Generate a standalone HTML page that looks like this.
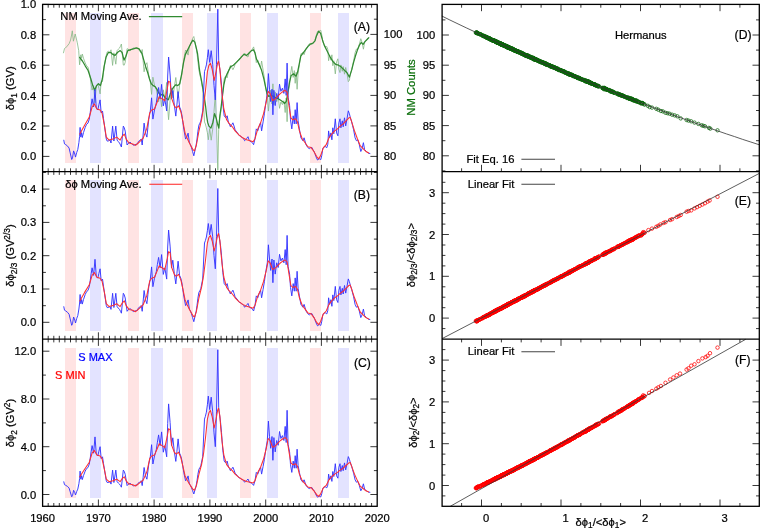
<!DOCTYPE html>
<html><head><meta charset="utf-8"><title>Figure</title>
<style>
html,body{margin:0;padding:0;background:#fff;}
body{width:760px;height:529px;overflow:hidden;}
svg{display:block;font-family:"Liberation Sans",sans-serif;will-change:transform;}
</style></head><body>
<svg width="760" height="529" viewBox="0 0 760 529">
<rect width="760" height="529" fill="#fff"/>
<g shape-rendering="crispEdges">
<rect x="64.7" y="13.0" width="11.2" height="150.0" fill="#ffe3e3"/>
<rect x="127.6" y="13.0" width="11.2" height="150.0" fill="#ffe3e3"/>
<rect x="182.0" y="13.0" width="11.0" height="150.0" fill="#ffe3e3"/>
<rect x="239.8" y="13.0" width="11.1" height="150.0" fill="#ffe3e3"/>
<rect x="309.5" y="13.0" width="11.4" height="150.0" fill="#ffe3e3"/>
<rect x="89.9" y="13.0" width="11.0" height="150.0" fill="#e3e3ff"/>
<rect x="151.1" y="13.0" width="11.4" height="150.0" fill="#e3e3ff"/>
<rect x="206.9" y="13.0" width="10.2" height="150.0" fill="#e3e3ff"/>
<rect x="266.8" y="13.0" width="11.1" height="150.0" fill="#e3e3ff"/>
<rect x="338.0" y="13.0" width="10.9" height="150.0" fill="#e3e3ff"/>
<rect x="64.7" y="180.2" width="11.2" height="150.3" fill="#ffe3e3"/>
<rect x="127.6" y="180.2" width="11.2" height="150.3" fill="#ffe3e3"/>
<rect x="182.0" y="180.2" width="11.0" height="150.3" fill="#ffe3e3"/>
<rect x="239.8" y="180.2" width="11.1" height="150.3" fill="#ffe3e3"/>
<rect x="309.5" y="180.2" width="11.4" height="150.3" fill="#ffe3e3"/>
<rect x="89.9" y="180.2" width="11.0" height="150.3" fill="#e3e3ff"/>
<rect x="151.1" y="180.2" width="11.4" height="150.3" fill="#e3e3ff"/>
<rect x="206.9" y="180.2" width="10.2" height="150.3" fill="#e3e3ff"/>
<rect x="266.8" y="180.2" width="11.1" height="150.3" fill="#e3e3ff"/>
<rect x="338.0" y="180.2" width="10.9" height="150.3" fill="#e3e3ff"/>
<rect x="64.7" y="347.9" width="11.2" height="150.1" fill="#ffe3e3"/>
<rect x="127.6" y="347.9" width="11.2" height="150.1" fill="#ffe3e3"/>
<rect x="182.0" y="347.9" width="11.0" height="150.1" fill="#ffe3e3"/>
<rect x="239.8" y="347.9" width="11.1" height="150.1" fill="#ffe3e3"/>
<rect x="309.5" y="347.9" width="11.4" height="150.1" fill="#ffe3e3"/>
<rect x="89.9" y="347.9" width="11.0" height="150.1" fill="#e3e3ff"/>
<rect x="151.1" y="347.9" width="11.4" height="150.1" fill="#e3e3ff"/>
<rect x="206.9" y="347.9" width="10.2" height="150.1" fill="#e3e3ff"/>
<rect x="266.8" y="347.9" width="11.1" height="150.1" fill="#e3e3ff"/>
<rect x="338.0" y="347.9" width="10.9" height="150.1" fill="#e3e3ff"/>
</g>
<g fill="none" stroke-linejoin="round" stroke-linecap="round">
<polyline points="63.5,52.8 64.5,48.5 65.4,48.0 67.3,46.0 69.2,43.5 70.6,40.0 71.4,36.0 72.3,30.8 73.4,41.2 75.2,34.0 76.2,38.0 77.3,42.8 78.7,50.5 79.6,64.8 80.8,54.8 81.6,58.3 82.3,54.0 83.5,58.3 85.2,63.0 86.6,65.9 88.0,67.1 89.3,72.4 90.2,77.8 91.2,84.5 92.1,90.1 93.6,85.8 95.0,102.8 96.3,86.2 97.8,83.8 98.9,88.3 100.1,93.9 101.2,81.7 102.5,81.5 103.5,72.6 104.4,65.2 106.3,55.0 107.2,52.1 108.2,51.1 110.1,52.3 111.0,49.8 112.6,65.4 113.9,52.8 115.8,64.2 117.1,50.6 118.3,49.2 119.5,48.1 120.5,46.2 121.4,44.0 123.3,65.0 124.2,65.2 125.2,62.3 127.1,48.7 128.1,49.0 129.0,50.2 130.0,51.0 131.8,49.1 132.8,48.4 133.7,47.9 134.7,48.3 136.1,48.5 137.5,48.0 138.4,49.7 139.4,50.1 140.4,52.1 141.3,53.3 142.2,49.5 143.1,60.5 144.1,71.8 145.5,65.0 146.9,62.7 147.9,69.5 148.8,75.5 150.3,82.0 151.6,94.4 152.9,77.2 154.5,85.5 156.3,89.6 157.4,95.7 158.6,101.8 160.1,93.2 161.6,106.7 163.3,89.8 164.8,98.9 166.7,82.4 167.7,108.2 168.6,119.7 170.1,100.6 171.5,88.4 172.8,97.8 174.3,87.1 175.8,77.5 176.9,87.2 178.1,97.8 179.6,85.1 180.8,80.0 181.9,74.0 182.9,66.0 183.8,59.1 185.6,50.0 186.8,51.8 188.1,55.1 189.4,46.2 190.4,44.8 191.3,42.3 192.6,38.4 193.8,36.5 195.1,42.6 196.1,47.7 197.0,53.3 197.9,61.2 198.9,69.8 199.9,75.2 200.8,78.5 202.7,89.1 204.5,121.9 205.4,124.0 206.4,127.9 207.4,132.7 208.3,139.8 209.7,128.5 211.2,140.2 212.7,129.2 214.0,111.4 215.3,94.7 216.5,123.5 217.8,170.3 218.7,129.3 219.6,118.2 220.6,113.3 221.5,106.7 222.8,90.5 224.2,78.6 225.7,75.9 227.2,77.8 228.5,70.7 229.4,68.8 230.4,65.5 231.7,67.3 232.9,69.7 234.0,67.5 235.1,64.4 236.1,63.2 237.0,62.2 238.0,60.8 239.2,59.0 240.4,58.3 241.6,56.4 242.7,55.6 243.6,54.2 244.6,53.0 245.6,54.5 246.5,56.2 248.0,57.0 249.3,52.6 251.2,50.3 252.4,49.2 253.6,46.9 255.0,52.9 256.3,62.6 257.8,60.0 259.3,64.6 260.6,67.8 261.6,61.0 263.1,70.2 264.4,78.1 265.7,88.0 267.3,96.6 268.4,111.1 269.5,99.0 270.7,90.1 272.0,104.0 272.9,83.8 273.9,104.8 275.2,91.9 276.7,101.7 278.2,96.5 279.5,108.3 280.9,101.9 282.4,104.6 283.9,100.7 285.2,112.5 286.2,98.0 287.1,121.7 288.1,92.4 289.6,85.1 290.5,74.3 291.8,66.4 293.2,77.4 294.3,70.6 295.2,83.3 296.2,72.2 297.1,89.3 298.1,73.0 299.4,64.8 300.9,53.7 301.9,53.5 302.8,52.4 304.1,54.7 306.0,48.5 307.9,45.9 309.3,43.8 310.6,43.7 311.9,44.7 312.9,43.6 313.9,42.4 314.9,40.7 315.9,36.6 317.5,31.5 319.2,31.1 320.8,30.3 321.8,35.0 322.8,41.7 323.8,43.7 325.1,46.6 326.8,46.6 327.8,49.4 328.6,60.7 329.6,55.2 330.9,60.2 331.9,54.8 332.8,65.7 333.8,60.7 335.3,73.9 336.6,61.8 337.9,58.8 338.9,69.4 340.0,72.6 340.9,64.9 342.3,71.3 343.2,66.5 344.5,74.2 345.7,67.5 347.0,73.6 348.3,81.7 349.4,80.4 350.4,74.1 351.7,69.9 352.6,65.4 353.6,60.8 355.1,52.7 356.4,49.1 357.8,49.1 359.3,44.4 360.8,38.7 362.1,42.5 363.4,49.2 364.6,42.6 366.5,40.3 368.3,37.9" stroke="#86b886" stroke-width="0.9" opacity="0.9"/>
<polyline points="79.6,57.3 82.4,61.0 85.2,65.8 88.1,70.5 90.9,79.0 92.8,85.6 94.7,90.3 96.6,85.6 98.5,83.7 100.4,85.6 102.3,79.0 104.1,66.7 106.0,57.3 108.3,52.5 110.8,52.5 112.7,54.4 115.1,55.4 117.4,52.5 120.2,50.6 122.1,52.5 124.0,60.1 125.9,56.3 127.8,50.6 130.6,49.7 133.4,48.8 136.3,47.8 139.1,48.8 141.9,53.5 143.8,60.1 145.7,66.7 147.6,72.4 149.5,79.0 151.3,83.7 153.2,85.6 155.1,86.6 157.0,89.4 158.9,93.2 160.8,95.1 162.7,94.1 164.6,97.0 166.5,98.8 168.4,99.8 170.2,94.1 172.1,89.4 174.0,86.6 175.9,84.7 177.8,85.6 179.7,83.7 181.6,74.3 183.5,62.9 185.4,54.4 187.3,50.6 189.1,46.9 191.0,43.1 192.9,40.2 194.8,42.1 196.7,49.7 197.6,54.0 199.6,70.6 201.6,81.2 203.2,90.4 204.5,98.4 205.6,106.3 206.6,115.6 207.6,122.2 208.9,126.1 210.9,128.1 212.9,122.2 214.6,113.6 216.2,118.2 217.8,124.8 218.8,128.1 219.9,115.6 221.2,106.3 222.5,95.7 223.8,85.1 225.2,78.5 226.7,74.6 228.7,70.6 230.7,66.6 233.4,65.3 236.0,62.6 238.7,60.0 241.1,57.3 243.9,54.4 246.7,55.4 248.6,53.5 251.5,50.6 253.4,49.7 255.0,52.9 256.6,59.3 259.0,64.1 261.4,69.7 263.8,78.6 265.5,86.6 267.1,93.9 268.7,96.3 271.1,95.5 273.5,96.3 275.9,97.9 278.3,98.7 280.7,100.3 283.1,101.9 284.7,103.5 286.4,101.1 288.0,91.4 289.6,81.8 291.2,75.4 293.6,73.8 296.0,76.2 297.6,72.2 299.2,64.1 300.8,56.1 303.2,52.9 305.6,49.6 308.1,46.4 310.5,44.0 312.9,43.2 315.0,40.8 316.5,35.9 318.6,31.2 320.5,33.1 322.4,39.7 324.3,45.4 327.1,51.0 330.0,56.7 332.8,61.4 335.6,64.3 338.5,65.2 341.3,67.1 344.1,69.9 347.0,72.8 349.4,77.1 351.7,69.9 353.6,62.4 355.5,55.8 357.4,50.1 359.3,45.4 361.2,42.5 363.1,44.4 364.9,41.6 366.8,39.7 368.7,37.8" stroke="#318a31" stroke-width="1.25"/>
<polyline points="63.8,140.2 64.5,143.9 65.7,144.6 67.6,146.1 69.1,148.1 70.2,152.9 71.7,159.5 72.5,157.9 73.6,150.9 74.8,154.0 75.5,157.1 76.7,152.5 77.8,149.4 78.9,142.6 79.6,136.3 80.1,127.4 80.8,137.1 81.6,132.6 82.3,137.5 83.5,132.6 85.2,127.4 86.6,124.3 88.0,123.1 89.3,119.1 90.2,112.7 91.2,105.0 92.1,98.8 93.6,107.0 95.0,89.5 96.3,108.0 97.8,110.0 98.9,104.8 100.1,99.9 101.2,113.0 102.5,111.0 103.5,118.6 104.4,125.2 106.3,139.1 107.2,141.1 108.2,141.0 110.1,140.1 111.0,143.0 112.6,126.1 113.9,141.0 115.8,126.1 117.1,140.1 118.3,141.6 119.5,143.0 120.5,145.0 121.4,147.0 123.3,126.1 124.2,127.6 125.2,131.1 127.1,145.0 128.1,143.5 129.0,143.0 130.0,142.0 131.8,144.0 132.8,144.7 133.7,145.3 134.7,145.0 136.1,144.2 137.5,144.0 138.4,141.5 139.4,141.0 140.4,139.6 141.3,139.1 142.2,145.0 143.1,135.1 144.1,123.1 145.5,133.1 146.9,137.1 147.9,127.4 148.8,119.1 150.3,111.0 151.6,97.8 152.9,119.1 154.5,110.0 156.3,102.9 157.4,95.1 158.6,87.5 160.1,98.8 161.6,84.4 163.3,105.9 164.8,98.8 166.7,111.0 167.7,76.0 168.6,57.0 170.1,75.0 171.5,98.8 172.8,90.5 174.3,105.0 175.8,116.1 176.9,104.9 178.1,91.6 179.6,107.0 180.8,109.9 181.9,115.0 182.9,122.4 183.8,129.2 185.6,139.1 186.8,137.1 188.1,133.1 189.4,143.0 190.4,144.4 191.3,147.0 192.6,151.5 193.8,155.8 195.1,149.9 196.1,145.4 197.0,139.1 197.9,131.3 198.9,125.2 199.9,123.2 200.8,121.1 202.7,110.9 204.5,71.6 205.4,68.8 206.4,64.9 207.4,57.7 208.3,49.7 209.7,62.4 211.2,50.7 212.7,64.5 214.0,85.5 215.3,99.9 216.5,64.5 217.8,9.2 218.7,60.3 219.6,67.6 220.6,75.1 221.5,85.0 222.8,103.7 224.2,115.8 225.7,117.8 227.2,115.8 228.5,122.8 229.4,124.1 230.4,126.8 231.7,124.8 232.9,122.8 234.0,126.0 235.1,129.8 236.1,131.1 237.0,132.2 238.0,133.8 239.2,135.6 240.4,135.8 241.6,137.4 242.7,137.8 243.6,138.8 244.6,140.7 245.6,139.9 246.5,138.7 248.0,136.7 249.3,140.7 251.2,141.8 252.4,142.7 253.6,144.7 255.0,138.7 256.3,128.9 257.8,130.9 259.3,125.9 260.6,122.8 261.6,130.9 263.1,121.9 264.4,113.8 265.7,103.7 267.3,93.4 268.4,73.6 269.5,89.2 270.7,101.6 272.0,89.2 272.9,114.8 273.9,90.3 275.2,105.6 276.7,93.4 278.2,98.5 279.5,84.1 280.9,91.3 282.4,88.2 283.9,93.4 285.2,78.9 286.2,95.4 287.1,63.1 288.1,97.5 289.6,105.6 290.5,119.8 291.8,128.9 293.2,115.8 294.3,123.9 295.2,109.7 296.2,123.9 297.1,102.6 298.1,120.8 299.4,128.9 300.9,137.8 301.9,139.2 302.8,140.7 304.1,137.8 306.0,144.7 307.9,147.6 309.3,148.7 310.6,147.7 311.9,147.4 312.9,149.6 313.9,151.1 314.9,153.6 315.9,156.6 317.5,160.0 319.2,158.7 320.8,159.6 321.8,155.3 322.8,148.3 323.8,147.4 325.1,146.4 326.8,147.7 327.8,144.3 328.6,130.9 329.6,137.8 330.9,132.9 331.9,139.8 332.8,127.8 333.8,133.8 335.3,118.8 336.6,132.9 337.9,135.8 338.9,122.8 340.0,118.8 340.9,127.8 342.3,120.8 343.2,126.8 344.5,117.8 345.7,125.9 347.0,118.8 348.3,110.8 349.4,113.8 350.4,117.8 351.7,121.9 352.6,125.7 353.6,129.8 355.1,137.8 356.4,140.7 357.8,139.8 359.3,144.7 360.8,151.5 362.1,148.6 363.4,142.7 364.6,149.6 366.5,151.5 368.3,153.1 369.9,153.5" stroke="#3535ff" stroke-width="0.95"/>
<polyline points="79.8,134.1 84.6,125.2 89.3,117.1 92.1,107.0 94.4,103.9 96.9,109.0 100.1,110.0 102.0,113.0 104.4,125.2 106.3,137.1 109.1,140.1 112.9,139.1 116.7,137.1 120.1,140.1 122.4,136.1 124.3,134.1 126.2,139.1 129.0,143.0 132.8,144.0 135.6,145.4 139.4,142.0 143.2,138.1 146.9,128.1 149.7,113.0 151.6,110.0 154.5,109.0 157.3,101.8 159.2,96.7 162.0,98.8 164.8,100.8 167.3,88.5 168.6,81.2 170.1,82.3 171.8,98.8 174.3,105.9 176.2,108.0 178.6,105.9 180.9,112.0 182.8,121.1 185.1,133.1 187.5,139.1 190.4,145.0 193.2,149.9 194.5,150.9 196.4,145.0 198.9,131.1 201.7,119.1 203.6,107.0 205.5,90.5 207.4,71.6 208.9,65.4 210.4,63.2 212.2,69.3 214.2,80.4 216.2,71.0 217.6,63.2 218.5,61.0 219.9,68.8 220.8,81.0 222.1,94.7 223.8,108.7 226.6,119.8 229.5,123.9 232.3,126.8 235.1,130.9 238.9,134.9 242.7,137.8 246.5,139.8 250.2,140.7 253.1,141.8 255.0,138.7 257.8,128.9 260.6,122.8 263.5,113.8 266.3,101.6 268.2,91.3 270.1,93.4 272.6,100.5 274.8,99.5 277.7,96.4 280.5,93.4 283.3,91.3 285.2,90.3 287.1,92.4 289.0,105.6 290.9,117.8 292.8,119.8 295.6,118.8 297.5,121.9 299.4,130.9 302.2,138.7 305.1,142.7 307.9,146.7 311.1,147.6 313.9,151.5 316.7,156.5 318.6,158.8 320.5,155.9 323.4,147.6 326.2,144.7 329.0,137.8 331.9,133.8 334.7,130.9 337.5,128.9 340.4,125.9 343.2,123.9 346.0,120.8 348.9,117.8 350.2,117.4 351.7,121.9 354.5,130.9 357.4,138.7 360.2,145.7 363.1,148.6 365.9,151.5 368.7,153.0" stroke="#ff3030" stroke-width="1.05"/>
<polyline points="63.8,306.7 64.5,310.2 65.7,310.9 67.6,312.4 69.1,314.3 70.2,318.9 71.7,325.3 72.5,323.8 73.6,317.0 74.8,320.0 75.5,323.0 76.7,318.5 77.8,315.5 78.9,309.0 79.6,303.0 80.1,294.5 80.8,303.7 81.6,299.5 82.3,304.1 83.5,299.5 85.2,294.5 86.6,291.6 88.0,290.5 89.3,286.7 90.2,280.7 91.2,273.5 92.1,267.8 93.6,275.4 95.0,259.3 96.3,276.3 97.8,278.2 98.9,273.4 100.1,268.8 101.2,281.0 102.5,279.1 103.5,286.2 104.4,292.4 106.3,305.6 107.2,307.6 108.2,307.5 110.1,306.6 111.0,309.4 112.6,293.3 113.9,307.5 115.8,293.3 117.1,306.6 118.3,308.1 119.5,309.4 120.5,311.3 121.4,313.2 123.3,293.3 124.2,294.7 125.2,298.0 127.1,311.3 128.1,309.8 129.0,309.4 130.0,308.4 131.8,310.3 132.8,311.0 133.7,311.6 134.7,311.3 136.1,310.5 137.5,310.3 138.4,307.9 139.4,307.5 140.4,306.1 141.3,305.6 142.2,311.3 143.1,301.8 144.1,290.5 145.5,299.9 146.9,303.7 147.9,294.6 148.8,286.7 150.3,279.1 151.6,266.9 152.9,286.7 154.5,278.2 156.3,271.6 157.4,264.4 158.6,257.4 160.1,267.8 161.6,254.6 163.3,274.4 164.8,267.8 166.7,279.1 167.7,247.0 168.6,230.0 170.1,246.1 171.5,267.8 172.8,260.2 174.3,273.5 175.8,283.9 176.9,273.5 178.1,261.2 179.6,275.4 180.8,278.1 181.9,282.9 182.9,289.8 183.8,296.2 185.6,305.6 186.8,303.7 188.1,299.9 189.4,309.4 190.4,310.7 191.3,313.2 192.6,317.6 193.8,321.7 195.1,316.0 196.1,311.7 197.0,305.6 197.9,298.2 198.9,292.4 199.9,290.6 200.8,288.6 202.7,279.0 204.5,243.0 205.4,240.6 206.4,237.0 207.4,230.6 208.3,223.5 209.7,234.8 211.2,224.4 212.7,236.7 214.0,255.6 215.3,268.8 216.5,236.7 217.8,188.5 218.7,232.9 219.6,239.5 220.6,246.2 221.5,255.2 222.8,272.3 224.2,283.6 225.7,285.5 227.2,283.6 228.5,290.2 229.4,291.5 230.4,294.0 231.7,292.1 232.9,290.2 234.0,293.2 235.1,296.8 236.1,298.0 237.0,299.0 238.0,300.6 239.2,302.3 240.4,302.5 241.6,304.0 242.7,304.4 243.6,305.4 244.6,307.2 245.6,306.4 246.5,305.3 248.0,303.4 249.3,307.2 251.2,308.2 252.4,309.1 253.6,311.0 255.0,305.3 256.3,295.9 257.8,297.8 259.3,293.1 260.6,290.2 261.6,297.8 263.1,289.3 264.4,281.7 265.7,272.3 267.3,262.8 268.4,244.8 269.5,259.0 270.7,270.4 272.0,259.0 272.9,282.7 273.9,260.0 275.2,274.1 276.7,262.8 278.2,267.5 279.5,254.3 280.9,260.9 282.4,258.1 283.9,262.8 285.2,249.6 286.2,264.7 287.1,235.4 288.1,266.6 289.6,274.1 290.5,287.4 291.8,295.9 293.2,283.6 294.3,291.2 295.2,277.9 296.2,291.2 297.1,271.3 298.1,288.3 299.4,295.9 300.9,304.4 301.9,305.7 302.8,307.2 304.1,304.4 306.0,311.0 307.9,313.8 309.3,314.9 310.6,313.9 311.9,313.6 312.9,315.7 313.9,317.2 314.9,319.6 315.9,322.5 317.5,325.8 319.2,324.5 320.8,325.4 321.8,321.2 322.8,314.5 323.8,313.6 325.1,312.6 326.8,313.9 327.8,310.6 328.6,297.8 329.6,304.4 330.9,299.7 331.9,306.3 332.8,294.9 333.8,300.6 335.3,286.4 336.6,299.7 337.9,302.5 338.9,290.2 340.0,286.4 340.9,294.9 342.3,288.3 343.2,294.0 344.5,285.5 345.7,293.1 347.0,286.4 348.3,278.9 349.4,281.7 350.4,285.5 351.7,289.3 352.6,293.0 353.6,296.8 355.1,304.4 356.4,307.2 357.8,306.3 359.3,311.0 360.8,317.6 362.1,314.8 363.4,309.1 364.6,315.7 366.5,317.6 368.3,319.1 369.9,319.5" stroke="#3535ff" stroke-width="0.95"/>
<polyline points="79.8,300.9 84.6,292.4 89.3,284.8 92.1,275.4 94.4,272.5 96.9,277.3 100.1,278.2 102.0,281.0 104.4,292.4 106.3,303.7 109.1,306.6 112.9,305.6 116.7,303.7 120.1,306.6 122.4,302.8 124.3,300.9 126.2,305.6 129.0,309.4 132.8,310.3 135.6,311.7 139.4,308.4 143.2,304.7 146.9,295.2 149.7,281.0 151.6,278.2 154.5,277.3 157.3,270.6 159.2,265.9 162.0,267.8 164.8,269.7 167.3,258.4 168.6,251.7 170.1,252.7 171.8,267.8 174.3,274.4 176.2,276.3 178.6,274.4 180.9,280.1 182.8,288.6 185.1,299.9 187.5,305.6 190.4,311.3 193.2,316.0 194.5,317.0 196.4,311.3 198.9,298.0 201.7,286.7 203.6,275.4 205.5,260.2 207.4,243.0 208.9,237.5 210.4,235.5 212.2,241.0 214.2,251.0 216.2,242.5 217.6,235.5 218.5,233.5 219.9,240.5 220.8,251.5 222.1,264.0 223.8,277.0 226.6,287.4 229.5,291.2 232.3,294.0 235.1,297.8 238.9,301.6 242.7,304.4 246.5,306.3 250.2,307.2 253.1,308.2 255.0,305.3 257.8,295.9 260.6,290.2 263.5,281.7 266.3,270.4 268.2,260.9 270.1,262.8 272.6,269.4 274.8,268.5 277.7,265.6 280.5,262.8 283.3,260.9 285.2,260.0 287.1,261.9 289.0,274.1 290.9,285.5 292.8,287.4 295.6,286.4 297.5,289.3 299.4,297.8 302.2,305.3 305.1,309.1 307.9,312.9 311.1,313.8 313.9,317.6 316.7,322.4 318.6,324.6 320.5,321.8 323.4,313.8 326.2,311.0 329.0,304.4 331.9,300.6 334.7,297.8 337.5,295.9 340.4,293.1 343.2,291.2 346.0,288.3 348.9,285.5 350.2,285.1 351.7,289.3 354.5,297.8 357.4,305.3 360.2,312.0 363.1,314.8 365.9,317.6 368.7,319.0" stroke="#ff3030" stroke-width="1.05"/>
<polyline points="63.8,481.8 64.5,484.7 65.7,485.3 67.6,486.5 69.1,488.1 70.2,491.8 71.7,496.8 72.5,495.7 73.6,490.3 74.8,492.7 75.5,495.0 76.7,491.5 77.8,489.1 78.9,483.7 79.6,478.6 80.1,471.1 80.8,479.2 81.6,475.6 82.3,479.6 83.5,475.6 85.2,471.1 86.6,468.5 88.0,467.5 89.3,464.0 90.2,458.4 91.2,451.4 92.1,445.6 93.6,453.2 95.0,436.9 96.3,454.1 97.8,456.0 98.9,451.2 100.1,446.7 101.2,458.6 102.5,456.8 103.5,463.6 104.4,469.3 106.3,480.8 107.2,482.5 108.2,482.5 110.1,481.7 111.0,484.1 112.6,470.1 113.9,482.5 115.8,470.1 117.1,481.7 118.3,483.0 119.5,484.1 120.5,485.6 121.4,487.2 123.3,470.1 124.2,471.3 125.2,474.3 127.1,485.6 128.1,484.4 129.0,484.0 130.0,483.2 131.8,484.8 132.8,485.4 133.7,485.9 134.7,485.6 136.1,485.0 137.5,484.8 138.4,482.8 139.4,482.5 140.4,481.3 141.3,480.8 142.2,485.6 143.1,477.6 144.1,467.5 145.5,475.9 146.9,479.2 147.9,471.2 148.8,464.0 150.3,456.8 151.6,444.7 152.9,464.0 154.5,456.0 156.3,449.5 157.4,442.2 158.6,434.9 160.1,445.6 161.6,431.9 163.3,452.2 164.8,445.6 166.7,456.8 167.7,423.5 168.6,403.9 170.1,422.5 171.5,445.6 172.8,437.8 174.3,451.4 175.8,461.4 176.9,451.4 178.1,438.9 179.6,453.2 180.8,455.9 181.9,460.5 182.9,466.9 183.8,472.7 185.6,480.8 186.8,479.3 188.1,475.9 189.4,484.1 190.4,485.1 191.3,487.2 192.6,490.7 193.8,494.0 195.1,489.5 196.1,486.0 197.0,480.8 197.9,474.4 198.9,469.3 199.9,467.6 200.8,465.8 202.7,456.7 204.5,419.1 205.4,416.3 206.4,412.2 207.4,404.7 208.3,396.1 209.7,409.6 211.2,397.2 212.7,411.8 214.0,432.9 215.3,446.7 216.5,411.8 217.8,349.7 218.7,407.4 219.6,415.1 220.6,422.7 221.5,432.5 222.8,450.2 224.2,461.1 225.7,462.9 227.2,461.1 228.5,467.2 229.4,468.4 230.4,470.7 231.7,469.0 232.9,467.2 234.0,470.0 235.1,473.2 236.1,474.3 237.0,475.2 238.0,476.5 239.2,478.0 240.4,478.2 241.6,479.5 242.7,479.8 243.6,480.7 244.6,482.2 245.6,481.5 246.5,480.6 248.0,479.0 249.3,482.2 251.2,483.0 252.4,483.8 253.6,485.4 255.0,480.6 256.3,472.4 257.8,474.1 259.3,469.9 260.6,467.2 261.6,474.1 263.1,466.4 264.4,459.3 265.7,450.2 267.3,440.5 268.4,421.1 269.5,436.5 270.7,448.3 272.0,436.5 272.9,460.3 273.9,437.6 275.2,451.9 276.7,440.5 278.2,445.3 279.5,431.5 280.9,438.5 282.4,435.6 283.9,440.5 285.2,426.4 286.2,442.5 287.1,410.3 288.1,444.4 289.6,451.9 290.5,464.7 291.8,472.4 293.2,461.1 294.3,468.2 295.2,455.7 296.2,468.2 297.1,449.2 298.1,465.5 299.4,472.4 300.9,479.8 301.9,480.9 302.8,482.2 304.1,479.8 306.0,485.4 307.9,487.7 309.3,488.6 310.6,487.8 311.9,487.5 312.9,489.3 313.9,490.4 314.9,492.3 315.9,494.7 317.5,497.2 319.2,496.2 320.8,496.9 321.8,493.6 322.8,488.3 323.8,487.5 325.1,486.7 326.8,487.8 327.8,485.1 328.6,474.1 329.6,479.8 330.9,475.8 331.9,481.4 332.8,471.5 333.8,476.5 335.3,463.7 336.6,475.8 337.9,478.2 338.9,467.2 340.0,463.7 340.9,471.5 342.3,465.5 343.2,470.7 344.5,462.9 345.7,469.9 347.0,463.7 348.3,456.6 349.4,459.3 350.4,462.9 351.7,466.4 352.6,469.8 353.6,473.2 355.1,479.8 356.4,482.2 357.8,481.4 359.3,485.4 360.8,490.8 362.1,488.5 363.4,483.8 364.6,489.2 366.5,490.8 368.3,492.0 369.9,492.3" stroke="#3535ff" stroke-width="0.95"/>
<polyline points="79.8,476.8 84.6,469.3 89.3,462.2 92.1,453.2 94.4,450.4 96.9,455.1 100.1,456.0 102.0,458.6 104.4,469.3 106.3,479.2 109.1,481.7 112.9,480.8 116.7,479.2 120.1,481.7 122.4,478.4 124.3,476.8 126.2,480.8 129.0,484.1 132.8,484.8 135.6,486.0 139.4,483.2 143.2,480.1 146.9,471.8 149.7,458.6 151.6,456.0 154.5,455.1 157.3,448.5 159.2,443.7 162.0,445.6 164.8,447.6 167.3,435.9 168.6,428.7 170.1,429.8 171.8,445.6 174.3,452.2 176.2,454.1 178.6,452.2 180.9,457.8 182.8,465.8 185.1,475.9 187.5,480.8 190.4,485.6 193.2,489.5 194.5,490.3 196.4,485.6 198.9,474.3 201.7,464.0 203.6,453.2 205.5,437.8 207.4,419.1 208.9,412.8 210.4,410.4 212.2,416.8 214.2,428.0 216.2,418.5 217.6,410.4 218.5,408.1 219.9,416.2 220.8,428.5 222.1,441.8 223.8,454.8 226.6,464.7 229.5,468.2 232.3,470.7 235.1,474.1 238.9,477.4 242.7,479.8 246.5,481.4 250.2,482.2 253.1,483.0 255.0,480.6 257.8,472.4 260.6,467.2 263.5,459.3 266.3,448.3 268.2,438.5 270.1,440.5 272.6,447.3 274.8,446.4 277.7,443.4 280.5,440.5 283.3,438.5 285.2,437.6 287.1,439.6 289.0,451.9 290.9,462.9 292.8,464.7 295.6,463.7 297.5,466.4 299.4,474.1 302.2,480.6 305.1,483.8 307.9,487.0 311.1,487.7 313.9,490.8 316.7,494.6 318.6,496.3 320.5,494.1 323.4,487.7 326.2,485.4 329.0,479.8 331.9,476.5 334.7,474.1 337.5,472.4 340.4,469.9 343.2,468.2 346.0,465.5 348.9,462.9 350.2,462.5 351.7,466.4 354.5,474.1 357.4,480.6 360.2,486.2 363.1,488.5 365.9,490.8 368.7,491.9" stroke="#ff3030" stroke-width="1.05"/>
</g>
<g fill="none" stroke="#0b640b" stroke-width="0.75">
<circle cx="507.5" cy="47.4" r="1.7"/>
<circle cx="503.6" cy="45.3" r="1.7"/>
<circle cx="501.4" cy="44.2" r="1.7"/>
<circle cx="500.9" cy="43.5" r="1.7"/>
<circle cx="500.5" cy="43.7" r="1.7"/>
<circle cx="499.9" cy="43.4" r="1.7"/>
<circle cx="499.3" cy="43.2" r="1.7"/>
<circle cx="498.7" cy="42.8" r="1.7"/>
<circle cx="498.1" cy="42.7" r="1.7"/>
<circle cx="497.1" cy="42.1" r="1.7"/>
<circle cx="496.2" cy="41.5" r="1.7"/>
<circle cx="495.2" cy="41.6" r="1.7"/>
<circle cx="492.9" cy="40.5" r="1.7"/>
<circle cx="489.6" cy="39.2" r="1.7"/>
<circle cx="486.4" cy="37.3" r="1.7"/>
<circle cx="483.1" cy="35.6" r="1.7"/>
<circle cx="479.8" cy="34.1" r="1.7"/>
<circle cx="476.5" cy="32.3" r="1.7"/>
<circle cx="478.0" cy="33.6" r="1.7"/>
<circle cx="480.4" cy="34.2" r="1.7"/>
<circle cx="485.1" cy="36.4" r="1.7"/>
<circle cx="489.9" cy="38.8" r="1.7"/>
<circle cx="488.5" cy="38.6" r="1.7"/>
<circle cx="486.6" cy="37.4" r="1.7"/>
<circle cx="484.2" cy="36.0" r="1.7"/>
<circle cx="480.9" cy="34.5" r="1.7"/>
<circle cx="482.7" cy="35.7" r="1.7"/>
<circle cx="485.6" cy="36.9" r="1.7"/>
<circle cx="488.3" cy="38.0" r="1.7"/>
<circle cx="490.4" cy="39.1" r="1.7"/>
<circle cx="492.5" cy="40.3" r="1.7"/>
<circle cx="496.8" cy="42.6" r="1.7"/>
<circle cx="501.4" cy="43.9" r="1.7"/>
<circle cx="507.0" cy="46.6" r="1.7"/>
<circle cx="513.7" cy="49.6" r="1.7"/>
<circle cx="527.1" cy="55.2" r="1.7"/>
<circle cx="518.5" cy="51.7" r="1.7"/>
<circle cx="514.3" cy="49.8" r="1.7"/>
<circle cx="518.4" cy="52.2" r="1.7"/>
<circle cx="516.0" cy="50.8" r="1.7"/>
<circle cx="512.4" cy="48.8" r="1.7"/>
<circle cx="515.4" cy="50.7" r="1.7"/>
<circle cx="518.4" cy="51.8" r="1.7"/>
<circle cx="521.0" cy="52.6" r="1.7"/>
<circle cx="523.3" cy="53.9" r="1.7"/>
<circle cx="525.6" cy="55.0" r="1.7"/>
<circle cx="528.0" cy="55.9" r="1.7"/>
<circle cx="529.6" cy="56.9" r="1.7"/>
<circle cx="531.3" cy="57.1" r="1.7"/>
<circle cx="533.0" cy="58.3" r="1.7"/>
<circle cx="533.6" cy="58.9" r="1.7"/>
<circle cx="534.2" cy="59.1" r="1.7"/>
<circle cx="534.8" cy="59.5" r="1.7"/>
<circle cx="537.0" cy="60.4" r="1.7"/>
<circle cx="539.3" cy="61.5" r="1.7"/>
<circle cx="542.0" cy="62.0" r="1.7"/>
<circle cx="547.0" cy="64.7" r="1.7"/>
<circle cx="552.1" cy="66.2" r="1.7"/>
<circle cx="558.2" cy="69.2" r="1.7"/>
<circle cx="564.3" cy="71.4" r="1.7"/>
<circle cx="569.4" cy="74.3" r="1.7"/>
<circle cx="573.5" cy="76.1" r="1.7"/>
<circle cx="569.4" cy="74.0" r="1.7"/>
<circle cx="565.3" cy="72.8" r="1.7"/>
<circle cx="561.3" cy="70.4" r="1.7"/>
<circle cx="568.9" cy="73.9" r="1.7"/>
<circle cx="578.2" cy="77.8" r="1.7"/>
<circle cx="587.5" cy="81.4" r="1.7"/>
<circle cx="579.6" cy="78.4" r="1.7"/>
<circle cx="569.0" cy="74.4" r="1.7"/>
<circle cx="559.1" cy="69.5" r="1.7"/>
<circle cx="558.1" cy="69.5" r="1.7"/>
<circle cx="557.1" cy="68.8" r="1.7"/>
<circle cx="556.1" cy="68.8" r="1.7"/>
<circle cx="558.8" cy="69.7" r="1.7"/>
<circle cx="562.1" cy="71.2" r="1.7"/>
<circle cx="565.5" cy="72.6" r="1.7"/>
<circle cx="568.7" cy="73.8" r="1.7"/>
<circle cx="571.9" cy="74.7" r="1.7"/>
<circle cx="564.2" cy="72.2" r="1.7"/>
<circle cx="555.3" cy="67.7" r="1.7"/>
<circle cx="551.7" cy="66.6" r="1.7"/>
<circle cx="552.9" cy="67.2" r="1.7"/>
<circle cx="554.1" cy="67.3" r="1.7"/>
<circle cx="550.0" cy="65.8" r="1.7"/>
<circle cx="544.0" cy="63.5" r="1.7"/>
<circle cx="538.6" cy="60.8" r="1.7"/>
<circle cx="533.5" cy="58.4" r="1.7"/>
<circle cx="528.1" cy="55.5" r="1.7"/>
<circle cx="522.7" cy="53.5" r="1.7"/>
<circle cx="517.2" cy="51.2" r="1.7"/>
<circle cx="511.8" cy="48.8" r="1.7"/>
<circle cx="508.4" cy="47.2" r="1.7"/>
<circle cx="506.8" cy="46.7" r="1.7"/>
<circle cx="506.0" cy="46.2" r="1.7"/>
<circle cx="506.1" cy="46.3" r="1.7"/>
<circle cx="506.3" cy="46.6" r="1.7"/>
<circle cx="506.7" cy="46.4" r="1.7"/>
<circle cx="507.1" cy="46.7" r="1.7"/>
<circle cx="507.4" cy="47.5" r="1.7"/>
<circle cx="506.7" cy="46.8" r="1.7"/>
<circle cx="504.3" cy="45.2" r="1.7"/>
<circle cx="506.4" cy="46.5" r="1.7"/>
<circle cx="514.3" cy="50.2" r="1.7"/>
<circle cx="522.2" cy="53.9" r="1.7"/>
<circle cx="530.1" cy="57.1" r="1.7"/>
<circle cx="521.5" cy="53.2" r="1.7"/>
<circle cx="513.0" cy="49.3" r="1.7"/>
<circle cx="507.3" cy="47.0" r="1.7"/>
<circle cx="513.1" cy="49.6" r="1.7"/>
<circle cx="519.0" cy="52.0" r="1.7"/>
<circle cx="524.9" cy="54.7" r="1.7"/>
<circle cx="529.2" cy="56.6" r="1.7"/>
<circle cx="521.2" cy="53.3" r="1.7"/>
<circle cx="513.1" cy="49.3" r="1.7"/>
<circle cx="507.4" cy="47.0" r="1.7"/>
<circle cx="506.4" cy="46.7" r="1.7"/>
<circle cx="505.4" cy="46.2" r="1.7"/>
<circle cx="504.5" cy="45.4" r="1.7"/>
<circle cx="503.7" cy="45.6" r="1.7"/>
<circle cx="502.7" cy="44.6" r="1.7"/>
<circle cx="501.2" cy="44.2" r="1.7"/>
<circle cx="499.6" cy="43.2" r="1.7"/>
<circle cx="498.1" cy="42.2" r="1.7"/>
<circle cx="497.1" cy="42.3" r="1.7"/>
<circle cx="505.3" cy="46.0" r="1.7"/>
<circle cx="513.4" cy="49.6" r="1.7"/>
<circle cx="521.6" cy="53.4" r="1.7"/>
<circle cx="529.9" cy="56.8" r="1.7"/>
<circle cx="529.0" cy="56.4" r="1.7"/>
<circle cx="527.8" cy="56.0" r="1.7"/>
<circle cx="525.2" cy="55.4" r="1.7"/>
<circle cx="522.5" cy="53.9" r="1.7"/>
<circle cx="517.3" cy="51.3" r="1.7"/>
<circle cx="511.8" cy="49.1" r="1.7"/>
<circle cx="506.3" cy="46.3" r="1.7"/>
<circle cx="500.9" cy="43.8" r="1.7"/>
<circle cx="500.7" cy="44.1" r="1.7"/>
<circle cx="501.9" cy="44.3" r="1.7"/>
<circle cx="502.5" cy="44.3" r="1.7"/>
<circle cx="502.9" cy="44.6" r="1.7"/>
<circle cx="503.5" cy="45.2" r="1.7"/>
<circle cx="504.3" cy="45.5" r="1.7"/>
<circle cx="504.2" cy="45.8" r="1.7"/>
<circle cx="503.4" cy="44.9" r="1.7"/>
<circle cx="502.5" cy="44.9" r="1.7"/>
<circle cx="501.7" cy="44.4" r="1.7"/>
<circle cx="501.1" cy="44.0" r="1.7"/>
<circle cx="500.5" cy="44.0" r="1.7"/>
<circle cx="499.9" cy="43.7" r="1.7"/>
<circle cx="499.5" cy="43.1" r="1.7"/>
<circle cx="499.4" cy="43.5" r="1.7"/>
<circle cx="499.6" cy="43.1" r="1.7"/>
<circle cx="500.0" cy="43.6" r="1.7"/>
<circle cx="500.4" cy="43.7" r="1.7"/>
<circle cx="500.8" cy="44.0" r="1.7"/>
<circle cx="501.1" cy="43.9" r="1.7"/>
<circle cx="501.3" cy="44.1" r="1.7"/>
<circle cx="501.4" cy="44.2" r="1.7"/>
<circle cx="502.3" cy="44.8" r="1.7"/>
<circle cx="504.2" cy="45.3" r="1.7"/>
<circle cx="505.5" cy="46.1" r="1.7"/>
<circle cx="505.9" cy="46.2" r="1.7"/>
<circle cx="506.5" cy="46.2" r="1.7"/>
<circle cx="507.7" cy="47.7" r="1.7"/>
<circle cx="508.6" cy="47.5" r="1.7"/>
<circle cx="509.0" cy="47.3" r="1.7"/>
<circle cx="508.1" cy="47.6" r="1.7"/>
<circle cx="503.2" cy="44.7" r="1.7"/>
<circle cx="502.2" cy="44.6" r="1.7"/>
<circle cx="510.0" cy="48.3" r="1.7"/>
<circle cx="518.2" cy="51.6" r="1.7"/>
<circle cx="527.5" cy="55.8" r="1.7"/>
<circle cx="533.7" cy="58.5" r="1.7"/>
<circle cx="528.4" cy="56.3" r="1.7"/>
<circle cx="523.1" cy="53.6" r="1.7"/>
<circle cx="518.5" cy="51.6" r="1.7"/>
<circle cx="516.4" cy="50.9" r="1.7"/>
<circle cx="514.2" cy="50.3" r="1.7"/>
<circle cx="514.0" cy="50.1" r="1.7"/>
<circle cx="521.5" cy="53.7" r="1.7"/>
<circle cx="528.9" cy="56.8" r="1.7"/>
<circle cx="535.5" cy="59.3" r="1.7"/>
<circle cx="541.8" cy="62.2" r="1.7"/>
<circle cx="545.8" cy="63.5" r="1.7"/>
<circle cx="549.8" cy="65.5" r="1.7"/>
<circle cx="553.9" cy="67.2" r="1.7"/>
<circle cx="561.0" cy="70.6" r="1.7"/>
<circle cx="568.5" cy="73.9" r="1.7"/>
<circle cx="574.5" cy="76.1" r="1.7"/>
<circle cx="562.2" cy="70.9" r="1.7"/>
<circle cx="550.0" cy="65.4" r="1.7"/>
<circle cx="542.5" cy="62.5" r="1.7"/>
<circle cx="546.8" cy="64.5" r="1.7"/>
<circle cx="551.0" cy="66.3" r="1.7"/>
<circle cx="555.3" cy="67.9" r="1.7"/>
<circle cx="558.4" cy="69.9" r="1.7"/>
<circle cx="561.3" cy="70.9" r="1.7"/>
<circle cx="564.3" cy="71.9" r="1.7"/>
<circle cx="567.2" cy="73.0" r="1.7"/>
<circle cx="572.2" cy="75.2" r="1.7"/>
<circle cx="577.3" cy="77.4" r="1.7"/>
<circle cx="582.3" cy="79.5" r="1.7"/>
<circle cx="587.3" cy="81.6" r="1.7"/>
<circle cx="592.0" cy="83.7" r="1.7"/>
<circle cx="586.4" cy="81.5" r="1.7"/>
<circle cx="580.7" cy="79.1" r="1.7"/>
<circle cx="575.1" cy="76.4" r="1.7"/>
<circle cx="579.6" cy="78.4" r="1.7"/>
<circle cx="586.7" cy="81.2" r="1.7"/>
<circle cx="593.9" cy="84.1" r="1.7"/>
<circle cx="591.7" cy="83.8" r="1.7"/>
<circle cx="582.2" cy="79.3" r="1.7"/>
<circle cx="572.7" cy="76.0" r="1.7"/>
<circle cx="563.4" cy="71.4" r="1.7"/>
<circle cx="565.7" cy="72.6" r="1.7"/>
<circle cx="569.2" cy="74.3" r="1.7"/>
<circle cx="572.8" cy="75.5" r="1.7"/>
<circle cx="570.7" cy="74.7" r="1.7"/>
<circle cx="565.9" cy="72.5" r="1.7"/>
<circle cx="561.1" cy="70.4" r="1.7"/>
<circle cx="556.3" cy="68.5" r="1.7"/>
<circle cx="569.6" cy="74.0" r="1.7"/>
<circle cx="595.7" cy="85.4" r="1.7"/>
<circle cx="617.3" cy="93.6" r="1.7"/>
<circle cx="633.1" cy="100.3" r="1.7"/>
<circle cx="636.4" cy="100.5" r="1.7"/>
<circle cx="627.5" cy="97.7" r="1.7"/>
<circle cx="618.5" cy="94.3" r="1.7"/>
<circle cx="608.6" cy="90.1" r="1.7"/>
<circle cx="595.8" cy="85.3" r="1.7"/>
<circle cx="583.2" cy="80.0" r="1.7"/>
<circle cx="575.2" cy="76.4" r="1.7"/>
<circle cx="579.9" cy="78.6" r="1.7"/>
<circle cx="584.7" cy="81.1" r="1.7"/>
<circle cx="583.8" cy="80.2" r="1.7"/>
<circle cx="576.7" cy="77.2" r="1.7"/>
<circle cx="569.5" cy="74.0" r="1.7"/>
<circle cx="562.7" cy="71.3" r="1.7"/>
<circle cx="557.2" cy="68.5" r="1.7"/>
<circle cx="551.6" cy="66.4" r="1.7"/>
<circle cx="546.2" cy="64.8" r="1.7"/>
<circle cx="553.4" cy="67.5" r="1.7"/>
<circle cx="560.7" cy="70.5" r="1.7"/>
<circle cx="568.7" cy="74.0" r="1.7"/>
<circle cx="577.3" cy="77.9" r="1.7"/>
<circle cx="585.0" cy="80.7" r="1.7"/>
<circle cx="577.3" cy="77.9" r="1.7"/>
<circle cx="569.6" cy="74.4" r="1.7"/>
<circle cx="562.0" cy="71.0" r="1.7"/>
<circle cx="559.2" cy="70.2" r="1.7"/>
<circle cx="557.3" cy="68.3" r="1.7"/>
<circle cx="554.9" cy="67.8" r="1.7"/>
<circle cx="551.6" cy="66.5" r="1.7"/>
<circle cx="548.2" cy="64.8" r="1.7"/>
<circle cx="542.8" cy="62.6" r="1.7"/>
<circle cx="537.0" cy="60.0" r="1.7"/>
<circle cx="531.6" cy="57.6" r="1.7"/>
<circle cx="526.3" cy="56.1" r="1.7"/>
<circle cx="521.9" cy="53.6" r="1.7"/>
<circle cx="517.8" cy="51.6" r="1.7"/>
<circle cx="513.7" cy="50.1" r="1.7"/>
<circle cx="509.6" cy="47.9" r="1.7"/>
<circle cx="510.4" cy="48.5" r="1.7"/>
<circle cx="511.6" cy="48.9" r="1.7"/>
<circle cx="513.0" cy="49.9" r="1.7"/>
<circle cx="515.4" cy="50.2" r="1.7"/>
<circle cx="517.8" cy="51.8" r="1.7"/>
<circle cx="515.8" cy="50.8" r="1.7"/>
<circle cx="510.1" cy="47.9" r="1.7"/>
<circle cx="504.4" cy="45.8" r="1.7"/>
<circle cx="502.2" cy="44.3" r="1.7"/>
<circle cx="501.1" cy="44.5" r="1.7"/>
<circle cx="499.3" cy="43.4" r="1.7"/>
<circle cx="497.3" cy="42.5" r="1.7"/>
<circle cx="494.8" cy="41.2" r="1.7"/>
<circle cx="492.1" cy="40.2" r="1.7"/>
<circle cx="489.4" cy="38.2" r="1.7"/>
<circle cx="486.9" cy="37.5" r="1.7"/>
<circle cx="484.3" cy="36.2" r="1.7"/>
<circle cx="483.4" cy="36.0" r="1.7"/>
<circle cx="486.8" cy="37.5" r="1.7"/>
<circle cx="490.2" cy="39.2" r="1.7"/>
<circle cx="493.6" cy="40.4" r="1.7"/>
<circle cx="497.1" cy="42.7" r="1.7"/>
<circle cx="501.3" cy="44.7" r="1.7"/>
<circle cx="506.3" cy="46.4" r="1.7"/>
<circle cx="511.7" cy="48.9" r="1.7"/>
<circle cx="517.8" cy="51.7" r="1.7"/>
<circle cx="523.5" cy="54.5" r="1.7"/>
<circle cx="528.3" cy="56.8" r="1.7"/>
<circle cx="532.1" cy="57.7" r="1.7"/>
<circle cx="533.6" cy="58.5" r="1.7"/>
<circle cx="535.2" cy="59.1" r="1.7"/>
<circle cx="536.8" cy="59.8" r="1.7"/>
<circle cx="539.0" cy="60.6" r="1.7"/>
<circle cx="543.0" cy="62.8" r="1.7"/>
<circle cx="547.0" cy="64.2" r="1.7"/>
<circle cx="551.0" cy="66.6" r="1.7"/>
<circle cx="556.6" cy="68.9" r="1.7"/>
<circle cx="572.7" cy="75.2" r="1.7"/>
<circle cx="588.9" cy="82.0" r="1.7"/>
<circle cx="605.3" cy="88.7" r="1.7"/>
<circle cx="618.2" cy="94.4" r="1.7"/>
<circle cx="620.3" cy="94.6" r="1.7"/>
<circle cx="622.6" cy="95.4" r="1.7"/>
<circle cx="625.7" cy="97.0" r="1.7"/>
<circle cx="629.3" cy="98.5" r="1.7"/>
<circle cx="634.9" cy="100.4" r="1.7"/>
<circle cx="640.6" cy="103.2" r="1.7"/>
<circle cx="638.6" cy="102.1" r="1.7"/>
<circle cx="632.7" cy="99.8" r="1.7"/>
<circle cx="638.5" cy="101.7" r="1.7"/>
<circle cx="644.3" cy="104.2" r="1.7"/>
<circle cx="638.4" cy="101.9" r="1.7"/>
<circle cx="631.5" cy="98.7" r="1.7"/>
<circle cx="621.5" cy="95.4" r="1.7"/>
<circle cx="609.4" cy="90.1" r="1.7"/>
<circle cx="597.5" cy="85.7" r="1.7"/>
<circle cx="588.5" cy="81.7" r="1.7"/>
<circle cx="580.3" cy="79.1" r="1.7"/>
<circle cx="572.6" cy="75.5" r="1.7"/>
<circle cx="594.3" cy="84.6" r="1.7"/>
<circle cx="616.3" cy="93.5" r="1.7"/>
<circle cx="642.4" cy="103.1" r="1.7"/>
<circle cx="631.6" cy="98.7" r="1.7"/>
<circle cx="625.9" cy="97.0" r="1.7"/>
<circle cx="620.0" cy="95.0" r="1.7"/>
<circle cx="614.2" cy="92.4" r="1.7"/>
<circle cx="606.8" cy="89.7" r="1.7"/>
<circle cx="598.6" cy="86.4" r="1.7"/>
<circle cx="588.7" cy="81.7" r="1.7"/>
<circle cx="578.0" cy="77.7" r="1.7"/>
<circle cx="567.4" cy="73.7" r="1.7"/>
<circle cx="560.4" cy="70.1" r="1.7"/>
<circle cx="553.9" cy="67.0" r="1.7"/>
<circle cx="547.5" cy="64.6" r="1.7"/>
<circle cx="545.8" cy="63.8" r="1.7"/>
<circle cx="544.8" cy="63.6" r="1.7"/>
<circle cx="543.8" cy="62.9" r="1.7"/>
<circle cx="544.0" cy="63.2" r="1.7"/>
<circle cx="545.1" cy="63.1" r="1.7"/>
<circle cx="546.1" cy="64.3" r="1.7"/>
<circle cx="545.0" cy="64.0" r="1.7"/>
<circle cx="540.9" cy="62.2" r="1.7"/>
<circle cx="536.9" cy="59.7" r="1.7"/>
<circle cx="534.7" cy="59.2" r="1.7"/>
<circle cx="533.7" cy="57.9" r="1.7"/>
<circle cx="532.0" cy="58.0" r="1.7"/>
<circle cx="529.9" cy="57.0" r="1.7"/>
<circle cx="529.6" cy="56.6" r="1.7"/>
<circle cx="530.8" cy="57.5" r="1.7"/>
<circle cx="532.0" cy="58.0" r="1.7"/>
<circle cx="533.2" cy="58.7" r="1.7"/>
<circle cx="534.4" cy="59.0" r="1.7"/>
<circle cx="535.1" cy="59.3" r="1.7"/>
<circle cx="532.9" cy="57.8" r="1.7"/>
<circle cx="530.7" cy="57.1" r="1.7"/>
<circle cx="528.2" cy="56.1" r="1.7"/>
<circle cx="525.7" cy="55.2" r="1.7"/>
<circle cx="523.8" cy="54.3" r="1.7"/>
<circle cx="522.8" cy="54.2" r="1.7"/>
<circle cx="521.8" cy="53.2" r="1.7"/>
<circle cx="521.0" cy="53.0" r="1.7"/>
<circle cx="520.1" cy="52.7" r="1.7"/>
<circle cx="518.8" cy="52.0" r="1.7"/>
<circle cx="517.6" cy="51.6" r="1.7"/>
<circle cx="516.5" cy="50.9" r="1.7"/>
<circle cx="515.3" cy="50.9" r="1.7"/>
<circle cx="514.8" cy="50.2" r="1.7"/>
<circle cx="514.7" cy="50.5" r="1.7"/>
<circle cx="514.5" cy="50.1" r="1.7"/>
<circle cx="513.5" cy="50.1" r="1.7"/>
<circle cx="512.4" cy="48.9" r="1.7"/>
<circle cx="511.8" cy="49.1" r="1.7"/>
<circle cx="511.6" cy="48.7" r="1.7"/>
<circle cx="511.3" cy="48.8" r="1.7"/>
<circle cx="510.5" cy="48.6" r="1.7"/>
<circle cx="509.7" cy="47.7" r="1.7"/>
<circle cx="508.2" cy="46.9" r="1.7"/>
<circle cx="506.7" cy="46.4" r="1.7"/>
<circle cx="507.3" cy="46.9" r="1.7"/>
<circle cx="507.9" cy="46.7" r="1.7"/>
<circle cx="508.8" cy="47.6" r="1.7"/>
<circle cx="509.7" cy="47.7" r="1.7"/>
<circle cx="510.7" cy="48.1" r="1.7"/>
<circle cx="511.7" cy="48.8" r="1.7"/>
<circle cx="512.7" cy="49.4" r="1.7"/>
<circle cx="511.5" cy="48.6" r="1.7"/>
<circle cx="509.2" cy="47.6" r="1.7"/>
<circle cx="507.0" cy="46.7" r="1.7"/>
<circle cx="506.3" cy="46.4" r="1.7"/>
<circle cx="505.9" cy="45.6" r="1.7"/>
<circle cx="505.5" cy="45.9" r="1.7"/>
<circle cx="505.1" cy="45.9" r="1.7"/>
<circle cx="504.5" cy="45.9" r="1.7"/>
<circle cx="503.9" cy="45.9" r="1.7"/>
<circle cx="503.2" cy="45.2" r="1.7"/>
<circle cx="502.0" cy="44.5" r="1.7"/>
<circle cx="500.8" cy="43.7" r="1.7"/>
<circle cx="502.2" cy="44.6" r="1.7"/>
<circle cx="505.4" cy="46.2" r="1.7"/>
<circle cx="508.6" cy="47.8" r="1.7"/>
<circle cx="513.2" cy="49.3" r="1.7"/>
<circle cx="518.9" cy="52.2" r="1.7"/>
<circle cx="524.6" cy="54.8" r="1.7"/>
<circle cx="524.9" cy="55.3" r="1.7"/>
<circle cx="523.9" cy="54.4" r="1.7"/>
<circle cx="522.9" cy="53.8" r="1.7"/>
<circle cx="523.9" cy="54.2" r="1.7"/>
<circle cx="526.4" cy="55.3" r="1.7"/>
<circle cx="528.8" cy="56.4" r="1.7"/>
<circle cx="531.1" cy="57.7" r="1.7"/>
<circle cx="532.8" cy="58.6" r="1.7"/>
<circle cx="534.6" cy="59.2" r="1.7"/>
<circle cx="532.1" cy="58.3" r="1.7"/>
<circle cx="526.1" cy="55.2" r="1.7"/>
<circle cx="524.2" cy="54.6" r="1.7"/>
<circle cx="528.7" cy="56.4" r="1.7"/>
<circle cx="533.2" cy="58.5" r="1.7"/>
<circle cx="537.7" cy="60.7" r="1.7"/>
<circle cx="542.3" cy="62.5" r="1.7"/>
<circle cx="547.0" cy="64.0" r="1.7"/>
<circle cx="552.0" cy="66.6" r="1.7"/>
<circle cx="557.8" cy="69.0" r="1.7"/>
<circle cx="563.6" cy="71.2" r="1.7"/>
<circle cx="568.9" cy="73.6" r="1.7"/>
<circle cx="573.7" cy="76.1" r="1.7"/>
<circle cx="578.5" cy="78.3" r="1.7"/>
<circle cx="584.4" cy="80.2" r="1.7"/>
<circle cx="597.7" cy="86.1" r="1.7"/>
<circle cx="611.2" cy="91.5" r="1.7"/>
<circle cx="606.3" cy="89.0" r="1.7"/>
<circle cx="595.7" cy="85.0" r="1.7"/>
<circle cx="586.2" cy="81.1" r="1.7"/>
<circle cx="578.5" cy="77.9" r="1.7"/>
<circle cx="570.8" cy="74.3" r="1.7"/>
<circle cx="575.2" cy="76.4" r="1.7"/>
<circle cx="582.3" cy="79.7" r="1.7"/>
<circle cx="588.9" cy="82.5" r="1.7"/>
<circle cx="567.6" cy="73.8" r="1.7"/>
<circle cx="549.7" cy="65.6" r="1.7"/>
<circle cx="567.9" cy="73.9" r="1.7"/>
<circle cx="586.2" cy="81.3" r="1.7"/>
<circle cx="579.4" cy="77.9" r="1.7"/>
<circle cx="570.6" cy="74.8" r="1.7"/>
<circle cx="563.8" cy="71.6" r="1.7"/>
<circle cx="569.9" cy="74.4" r="1.7"/>
<circle cx="576.0" cy="76.8" r="1.7"/>
<circle cx="582.1" cy="79.7" r="1.7"/>
<circle cx="580.4" cy="78.7" r="1.7"/>
<circle cx="577.8" cy="77.5" r="1.7"/>
<circle cx="575.3" cy="76.8" r="1.7"/>
<circle cx="580.0" cy="78.6" r="1.7"/>
<circle cx="588.3" cy="81.8" r="1.7"/>
<circle cx="596.6" cy="85.7" r="1.7"/>
<circle cx="594.2" cy="84.3" r="1.7"/>
<circle cx="590.3" cy="82.6" r="1.7"/>
<circle cx="586.5" cy="81.1" r="1.7"/>
<circle cx="587.3" cy="81.2" r="1.7"/>
<circle cx="588.8" cy="82.0" r="1.7"/>
<circle cx="590.3" cy="83.2" r="1.7"/>
<circle cx="589.3" cy="82.1" r="1.7"/>
<circle cx="586.7" cy="81.3" r="1.7"/>
<circle cx="584.2" cy="80.0" r="1.7"/>
<circle cx="586.1" cy="80.9" r="1.7"/>
<circle cx="594.3" cy="84.8" r="1.7"/>
<circle cx="602.7" cy="88.0" r="1.7"/>
<circle cx="598.3" cy="85.9" r="1.7"/>
<circle cx="585.9" cy="81.0" r="1.7"/>
<circle cx="591.6" cy="83.1" r="1.7"/>
<circle cx="618.4" cy="93.9" r="1.7"/>
<circle cx="617.5" cy="93.5" r="1.7"/>
<circle cx="591.9" cy="83.2" r="1.7"/>
<circle cx="574.5" cy="76.3" r="1.7"/>
<circle cx="570.5" cy="74.7" r="1.7"/>
<circle cx="566.4" cy="72.9" r="1.7"/>
<circle cx="561.3" cy="70.6" r="1.7"/>
<circle cx="549.4" cy="65.2" r="1.7"/>
<circle cx="539.1" cy="61.0" r="1.7"/>
<circle cx="533.9" cy="58.5" r="1.7"/>
<circle cx="528.7" cy="56.7" r="1.7"/>
<circle cx="528.6" cy="56.6" r="1.7"/>
<circle cx="535.5" cy="59.7" r="1.7"/>
<circle cx="542.5" cy="62.4" r="1.7"/>
<circle cx="544.4" cy="62.9" r="1.7"/>
<circle cx="539.0" cy="61.2" r="1.7"/>
<circle cx="534.1" cy="59.2" r="1.7"/>
<circle cx="545.8" cy="63.6" r="1.7"/>
<circle cx="555.4" cy="68.1" r="1.7"/>
<circle cx="544.8" cy="63.8" r="1.7"/>
<circle cx="534.2" cy="58.7" r="1.7"/>
<circle cx="550.3" cy="66.4" r="1.7"/>
<circle cx="567.7" cy="73.3" r="1.7"/>
<circle cx="554.1" cy="67.3" r="1.7"/>
<circle cx="540.5" cy="62.0" r="1.7"/>
<circle cx="534.6" cy="59.2" r="1.7"/>
<circle cx="530.0" cy="56.9" r="1.7"/>
<circle cx="525.4" cy="55.2" r="1.7"/>
<circle cx="521.0" cy="52.5" r="1.7"/>
<circle cx="516.5" cy="51.5" r="1.7"/>
<circle cx="512.1" cy="48.8" r="1.7"/>
<circle cx="510.5" cy="48.4" r="1.7"/>
<circle cx="509.4" cy="47.7" r="1.7"/>
<circle cx="508.2" cy="47.4" r="1.7"/>
<circle cx="507.0" cy="47.0" r="1.7"/>
<circle cx="507.9" cy="46.9" r="1.7"/>
<circle cx="509.6" cy="48.1" r="1.7"/>
<circle cx="511.3" cy="48.6" r="1.7"/>
<circle cx="508.8" cy="47.4" r="1.7"/>
<circle cx="506.1" cy="46.3" r="1.7"/>
<circle cx="503.4" cy="44.8" r="1.7"/>
<circle cx="500.7" cy="43.7" r="1.7"/>
<circle cx="499.3" cy="43.5" r="1.7"/>
<circle cx="498.2" cy="42.7" r="1.7"/>
<circle cx="497.0" cy="42.5" r="1.7"/>
<circle cx="495.9" cy="41.8" r="1.7"/>
<circle cx="495.1" cy="41.1" r="1.7"/>
<circle cx="494.5" cy="40.6" r="1.7"/>
<circle cx="493.9" cy="40.6" r="1.7"/>
<circle cx="494.2" cy="41.0" r="1.7"/>
<circle cx="494.8" cy="41.2" r="1.7"/>
<circle cx="495.4" cy="41.2" r="1.7"/>
<circle cx="495.6" cy="41.8" r="1.7"/>
<circle cx="495.8" cy="41.2" r="1.7"/>
<circle cx="495.7" cy="41.3" r="1.7"/>
<circle cx="494.0" cy="40.8" r="1.7"/>
<circle cx="492.4" cy="40.6" r="1.7"/>
<circle cx="491.2" cy="39.6" r="1.7"/>
<circle cx="490.1" cy="38.8" r="1.7"/>
<circle cx="488.4" cy="38.4" r="1.7"/>
<circle cx="486.6" cy="37.5" r="1.7"/>
<circle cx="484.4" cy="36.6" r="1.7"/>
<circle cx="482.2" cy="35.2" r="1.7"/>
<circle cx="480.3" cy="34.2" r="1.7"/>
<circle cx="478.7" cy="33.7" r="1.7"/>
<circle cx="477.1" cy="33.1" r="1.7"/>
<circle cx="475.8" cy="32.7" r="1.7"/>
<circle cx="476.4" cy="33.1" r="1.7"/>
<circle cx="477.0" cy="32.7" r="1.7"/>
<circle cx="477.5" cy="33.0" r="1.7"/>
<circle cx="477.7" cy="33.2" r="1.7"/>
<circle cx="477.2" cy="32.9" r="1.7"/>
<circle cx="476.8" cy="32.9" r="1.7"/>
<circle cx="476.4" cy="32.7" r="1.7"/>
<circle cx="479.6" cy="34.2" r="1.7"/>
<circle cx="482.9" cy="36.0" r="1.7"/>
<circle cx="487.8" cy="37.9" r="1.7"/>
<circle cx="493.0" cy="40.1" r="1.7"/>
<circle cx="494.9" cy="40.8" r="1.7"/>
<circle cx="495.6" cy="41.3" r="1.7"/>
<circle cx="496.3" cy="41.6" r="1.7"/>
<circle cx="496.9" cy="41.7" r="1.7"/>
<circle cx="497.5" cy="42.6" r="1.7"/>
<circle cx="497.2" cy="42.3" r="1.7"/>
<circle cx="496.6" cy="41.9" r="1.7"/>
<circle cx="496.0" cy="41.5" r="1.7"/>
<circle cx="495.7" cy="41.2" r="1.7"/>
<circle cx="498.3" cy="42.5" r="1.7"/>
<circle cx="500.8" cy="44.4" r="1.7"/>
<circle cx="512.8" cy="48.8" r="1.7"/>
<circle cx="521.3" cy="53.2" r="1.7"/>
<circle cx="516.1" cy="51.0" r="1.7"/>
<circle cx="511.6" cy="48.9" r="1.7"/>
<circle cx="514.4" cy="50.0" r="1.7"/>
<circle cx="517.2" cy="51.6" r="1.7"/>
<circle cx="517.8" cy="51.3" r="1.7"/>
<circle cx="512.6" cy="49.4" r="1.7"/>
<circle cx="509.5" cy="48.2" r="1.7"/>
<circle cx="519.4" cy="52.1" r="1.7"/>
<circle cx="526.5" cy="55.3" r="1.7"/>
<circle cx="522.0" cy="53.5" r="1.7"/>
<circle cx="518.1" cy="52.0" r="1.7"/>
<circle cx="525.5" cy="55.4" r="1.7"/>
<circle cx="533.0" cy="58.5" r="1.7"/>
<circle cx="540.5" cy="61.5" r="1.7"/>
<circle cx="535.3" cy="59.1" r="1.7"/>
<circle cx="527.2" cy="55.9" r="1.7"/>
<circle cx="519.2" cy="52.4" r="1.7"/>
<circle cx="517.6" cy="51.2" r="1.7"/>
<circle cx="515.9" cy="50.8" r="1.7"/>
<circle cx="516.7" cy="51.2" r="1.7"/>
<circle cx="526.3" cy="55.7" r="1.7"/>
<circle cx="535.6" cy="59.3" r="1.7"/>
<circle cx="538.3" cy="60.8" r="1.7"/>
<circle cx="541.0" cy="61.6" r="1.7"/>
<circle cx="536.6" cy="59.8" r="1.7"/>
<circle cx="529.1" cy="56.6" r="1.7"/>
<circle cx="530.2" cy="57.5" r="1.7"/>
<circle cx="534.0" cy="59.6" r="1.7"/>
<circle cx="537.7" cy="60.5" r="1.7"/>
<circle cx="534.8" cy="59.3" r="1.7"/>
<circle cx="529.8" cy="57.2" r="1.7"/>
<circle cx="533.1" cy="58.1" r="1.7"/>
<circle cx="538.3" cy="60.9" r="1.7"/>
<circle cx="543.3" cy="62.6" r="1.7"/>
<circle cx="538.3" cy="61.1" r="1.7"/>
<circle cx="533.3" cy="58.8" r="1.7"/>
<circle cx="532.2" cy="58.2" r="1.7"/>
<circle cx="536.3" cy="59.6" r="1.7"/>
<circle cx="540.4" cy="62.0" r="1.7"/>
<circle cx="544.8" cy="63.6" r="1.7"/>
<circle cx="549.4" cy="65.6" r="1.7"/>
<circle cx="554.0" cy="67.7" r="1.7"/>
<circle cx="553.0" cy="66.7" r="1.7"/>
<circle cx="551.0" cy="66.3" r="1.7"/>
<circle cx="548.5" cy="65.4" r="1.7"/>
<circle cx="545.4" cy="63.9" r="1.7"/>
<circle cx="542.6" cy="62.6" r="1.7"/>
<circle cx="540.3" cy="61.3" r="1.7"/>
<circle cx="538.0" cy="60.7" r="1.7"/>
<circle cx="535.3" cy="59.4" r="1.7"/>
<circle cx="532.3" cy="58.0" r="1.7"/>
<circle cx="529.1" cy="56.5" r="1.7"/>
<circle cx="526.0" cy="55.5" r="1.7"/>
<circle cx="522.4" cy="54.0" r="1.7"/>
<circle cx="518.4" cy="52.0" r="1.7"/>
<circle cx="514.5" cy="50.3" r="1.7"/>
<circle cx="511.0" cy="48.9" r="1.7"/>
<circle cx="509.3" cy="48.2" r="1.7"/>
<circle cx="507.6" cy="47.1" r="1.7"/>
<circle cx="506.9" cy="46.6" r="1.7"/>
<circle cx="507.4" cy="46.8" r="1.7"/>
<circle cx="507.9" cy="47.1" r="1.7"/>
<circle cx="507.2" cy="47.0" r="1.7"/>
<circle cx="504.7" cy="46.0" r="1.7"/>
<circle cx="502.3" cy="44.5" r="1.7"/>
<circle cx="499.7" cy="43.5" r="1.7"/>
<circle cx="496.3" cy="41.6" r="1.7"/>
<circle cx="492.9" cy="40.6" r="1.7"/>
<circle cx="489.5" cy="38.6" r="1.7"/>
<circle cx="490.9" cy="39.4" r="1.7"/>
<circle cx="492.5" cy="39.9" r="1.7"/>
<circle cx="494.5" cy="40.9" r="1.7"/>
<circle cx="497.9" cy="42.4" r="1.7"/>
<circle cx="501.3" cy="44.6" r="1.7"/>
<circle cx="502.0" cy="44.5" r="1.7"/>
<circle cx="497.7" cy="42.5" r="1.7"/>
<circle cx="493.4" cy="40.3" r="1.7"/>
<circle cx="491.9" cy="39.7" r="1.7"/>
<circle cx="491.1" cy="39.6" r="1.7"/>
<circle cx="490.3" cy="39.5" r="1.7"/>
<circle cx="489.5" cy="38.4" r="1.7"/>
<circle cx="488.9" cy="38.2" r="1.7"/>
<circle cx="488.2" cy="38.1" r="1.7"/>
<circle cx="487.6" cy="37.7" r="1.7"/>
<circle cx="486.9" cy="37.1" r="1.7"/>
<circle cx="486.6" cy="37.4" r="1.7"/>
<circle cx="486.5" cy="37.5" r="1.7"/>
<circle cx="486.3" cy="36.8" r="1.7"/>
<circle cx="595.7" cy="85.0" r="1.7"/>
<circle cx="586.0" cy="81.2" r="1.7"/>
<circle cx="612.8" cy="92.1" r="1.7"/>
<circle cx="628.7" cy="98.0" r="1.7"/>
<circle cx="610.2" cy="91.4" r="1.7"/>
<circle cx="614.2" cy="92.6" r="1.7"/>
<circle cx="585.6" cy="80.6" r="1.7"/>
<circle cx="614.3" cy="92.7" r="1.7"/>
<circle cx="641.8" cy="102.9" r="1.7"/>
<circle cx="636.3" cy="101.3" r="1.7"/>
<circle cx="629.0" cy="97.9" r="1.7"/>
<circle cx="591.4" cy="83.4" r="1.7"/>
<circle cx="638.9" cy="102.0" r="1.7"/>
<circle cx="636.6" cy="101.5" r="1.7"/>
<circle cx="594.8" cy="84.8" r="1.7"/>
<circle cx="623.1" cy="96.1" r="1.7"/>
<circle cx="586.1" cy="81.0" r="1.7"/>
<circle cx="591.9" cy="83.7" r="1.7"/>
<circle cx="604.0" cy="87.9" r="1.7"/>
<circle cx="594.4" cy="84.5" r="1.7"/>
<circle cx="630.7" cy="99.0" r="1.7"/>
<circle cx="634.3" cy="100.5" r="1.7"/>
<circle cx="605.7" cy="89.2" r="1.7"/>
<circle cx="604.1" cy="89.3" r="1.7"/>
<circle cx="591.6" cy="83.3" r="1.7"/>
<circle cx="589.9" cy="82.8" r="1.7"/>
<circle cx="627.9" cy="97.9" r="1.7"/>
<circle cx="621.1" cy="95.6" r="1.7"/>
<circle cx="588.2" cy="81.4" r="1.7"/>
<circle cx="613.8" cy="92.7" r="1.7"/>
<circle cx="609.1" cy="90.2" r="1.7"/>
<circle cx="636.1" cy="100.5" r="1.7"/>
<circle cx="628.2" cy="97.7" r="1.7"/>
<circle cx="621.2" cy="95.2" r="1.7"/>
<circle cx="618.2" cy="94.1" r="1.7"/>
<circle cx="642.2" cy="103.4" r="1.7"/>
<circle cx="644.5" cy="104.5" r="1.7"/>
<circle cx="605.3" cy="88.8" r="1.7"/>
<circle cx="599.3" cy="86.4" r="1.7"/>
<circle cx="633.0" cy="99.3" r="1.7"/>
<circle cx="588.7" cy="82.2" r="1.7"/>
<circle cx="606.9" cy="89.8" r="1.7"/>
<circle cx="589.1" cy="82.2" r="1.7"/>
<circle cx="604.1" cy="87.9" r="1.7"/>
<circle cx="589.1" cy="81.9" r="1.7"/>
<circle cx="602.4" cy="88.1" r="1.7"/>
<circle cx="632.6" cy="99.5" r="1.7"/>
<circle cx="639.6" cy="102.2" r="1.7"/>
<circle cx="632.7" cy="99.5" r="1.7"/>
<circle cx="618.8" cy="94.4" r="1.7"/>
<circle cx="622.1" cy="95.4" r="1.7"/>
<circle cx="606.7" cy="89.2" r="1.7"/>
<circle cx="595.0" cy="84.3" r="1.7"/>
<circle cx="611.2" cy="91.2" r="1.7"/>
<circle cx="629.1" cy="98.6" r="1.7"/>
<circle cx="588.6" cy="82.0" r="1.7"/>
<circle cx="586.1" cy="81.3" r="1.7"/>
<circle cx="631.4" cy="99.3" r="1.7"/>
<circle cx="603.0" cy="88.0" r="1.7"/>
<circle cx="627.2" cy="97.6" r="1.7"/>
<circle cx="629.2" cy="98.4" r="1.7"/>
<circle cx="641.2" cy="103.3" r="1.7"/>
<circle cx="609.0" cy="90.5" r="1.7"/>
<circle cx="606.5" cy="89.2" r="1.7"/>
<circle cx="633.6" cy="100.1" r="1.7"/>
<circle cx="631.0" cy="99.1" r="1.7"/>
<circle cx="624.3" cy="96.5" r="1.7"/>
<circle cx="633.8" cy="100.2" r="1.7"/>
<circle cx="623.7" cy="96.3" r="1.7"/>
<circle cx="642.7" cy="103.2" r="1.7"/>
<circle cx="605.0" cy="88.9" r="1.7"/>
<circle cx="629.5" cy="98.8" r="1.7"/>
<circle cx="642.2" cy="103.1" r="1.7"/>
<circle cx="605.1" cy="89.2" r="1.7"/>
<circle cx="621.8" cy="95.5" r="1.7"/>
<circle cx="606.9" cy="89.5" r="1.7"/>
<circle cx="612.7" cy="91.4" r="1.7"/>
<circle cx="589.4" cy="82.7" r="1.7"/>
<circle cx="586.0" cy="80.8" r="1.7"/>
<circle cx="630.7" cy="98.8" r="1.7"/>
<circle cx="612.2" cy="91.8" r="1.7"/>
<circle cx="622.5" cy="95.5" r="1.7"/>
<circle cx="629.6" cy="98.2" r="1.7"/>
<circle cx="610.1" cy="90.5" r="1.7"/>
<circle cx="607.1" cy="89.5" r="1.7"/>
<circle cx="595.1" cy="84.9" r="1.7"/>
<circle cx="632.8" cy="99.9" r="1.7"/>
<circle cx="635.2" cy="100.8" r="1.7"/>
<circle cx="629.2" cy="98.3" r="1.7"/>
<circle cx="637.7" cy="101.7" r="1.7"/>
<circle cx="624.0" cy="96.1" r="1.7"/>
<circle cx="626.9" cy="98.0" r="1.7"/>
<circle cx="596.5" cy="85.4" r="1.7"/>
<circle cx="631.2" cy="98.7" r="1.7"/>
<circle cx="605.0" cy="88.5" r="1.7"/>
<circle cx="611.3" cy="91.7" r="1.7"/>
<circle cx="604.1" cy="88.0" r="1.7"/>
<circle cx="619.2" cy="94.3" r="1.7"/>
<circle cx="624.6" cy="96.7" r="1.7"/>
<circle cx="619.6" cy="94.3" r="1.7"/>
<circle cx="604.1" cy="88.6" r="1.7"/>
<circle cx="598.0" cy="86.3" r="1.7"/>
<circle cx="635.9" cy="100.8" r="1.7"/>
<circle cx="603.1" cy="88.3" r="1.7"/>
<circle cx="611.3" cy="91.1" r="1.7"/>
<circle cx="590.4" cy="82.5" r="1.7"/>
<circle cx="603.0" cy="88.0" r="1.7"/>
<circle cx="590.0" cy="82.7" r="1.7"/>
<circle cx="605.6" cy="88.8" r="1.7"/>
<circle cx="627.7" cy="98.0" r="1.7"/>
<circle cx="647.8" cy="105.8" r="1.7"/>
<circle cx="649.7" cy="107.1" r="1.7"/>
<circle cx="656.3" cy="108.8" r="1.7"/>
<circle cx="658.3" cy="109.7" r="1.7"/>
<circle cx="660.9" cy="111.0" r="1.7"/>
<circle cx="662.9" cy="111.4" r="1.7"/>
<circle cx="665.5" cy="112.8" r="1.7"/>
<circle cx="669.5" cy="113.7" r="1.7"/>
<circle cx="672.1" cy="114.7" r="1.7"/>
<circle cx="674.7" cy="115.4" r="1.7"/>
<circle cx="677.4" cy="116.3" r="1.7"/>
<circle cx="680.7" cy="118.4" r="1.7"/>
<circle cx="686.6" cy="120.0" r="1.7"/>
<circle cx="691.2" cy="121.3" r="1.7"/>
<circle cx="694.5" cy="122.6" r="1.7"/>
<circle cx="698.4" cy="123.9" r="1.7"/>
<circle cx="701.7" cy="125.3" r="1.7"/>
<circle cx="705.0" cy="126.3" r="1.7"/>
<circle cx="708.9" cy="127.9" r="1.7"/>
<circle cx="710.3" cy="128.6" r="1.7"/>
<circle cx="717.5" cy="130.3" r="1.7"/>
<circle cx="652.0" cy="107.6" r="1.7"/>
<circle cx="667.5" cy="113.2" r="1.7"/>
<circle cx="688.5" cy="120.6" r="1.7"/>
<circle cx="703.3" cy="125.8" r="1.7"/>
</g>
<polyline points="441.8,16.0 449.9,20.0 458.0,23.9 466.2,27.8 474.3,31.6 482.4,35.4 490.6,39.2 498.7,43.0 506.8,46.7 515.0,50.3 523.1,54.0 531.2,57.6 539.4,61.2 547.5,64.7 555.6,68.2 563.8,71.7 571.9,75.1 580.0,78.5 588.2,81.9 596.3,85.2 604.4,88.5 612.6,91.8 620.7,95.0 628.8,98.2 637.0,101.4 645.1,104.5 653.2,107.6 661.4,110.6 669.5,113.7 677.6,116.7 685.8,119.6 693.9,122.5 702.0,125.4 710.2,128.3 718.3,131.1 726.4,133.9 734.6,136.6 742.7,139.4 750.8,142.0 759.0,144.7" fill="none" stroke="#333" stroke-width="0.8"/>
<g fill="none" stroke="#ff0000" stroke-width="0.75">
<circle cx="507.5" cy="304.5" r="1.75"/>
<circle cx="503.6" cy="306.7" r="1.75"/>
<circle cx="501.4" cy="307.8" r="1.75"/>
<circle cx="500.9" cy="308.4" r="1.75"/>
<circle cx="500.5" cy="308.7" r="1.75"/>
<circle cx="499.9" cy="309.0" r="1.75"/>
<circle cx="499.3" cy="308.9" r="1.75"/>
<circle cx="498.7" cy="309.5" r="1.75"/>
<circle cx="498.1" cy="309.9" r="1.75"/>
<circle cx="497.1" cy="309.9" r="1.75"/>
<circle cx="496.2" cy="310.6" r="1.75"/>
<circle cx="495.2" cy="311.4" r="1.75"/>
<circle cx="492.9" cy="312.7" r="1.75"/>
<circle cx="489.6" cy="314.3" r="1.75"/>
<circle cx="486.4" cy="316.1" r="1.75"/>
<circle cx="483.1" cy="317.7" r="1.75"/>
<circle cx="479.8" cy="319.4" r="1.75"/>
<circle cx="476.5" cy="321.1" r="1.75"/>
<circle cx="478.0" cy="320.2" r="1.75"/>
<circle cx="480.4" cy="319.1" r="1.75"/>
<circle cx="485.1" cy="316.5" r="1.75"/>
<circle cx="489.9" cy="314.6" r="1.75"/>
<circle cx="488.5" cy="314.9" r="1.75"/>
<circle cx="486.6" cy="315.8" r="1.75"/>
<circle cx="484.2" cy="317.0" r="1.75"/>
<circle cx="480.9" cy="318.8" r="1.75"/>
<circle cx="482.7" cy="317.8" r="1.75"/>
<circle cx="485.6" cy="316.5" r="1.75"/>
<circle cx="488.3" cy="314.9" r="1.75"/>
<circle cx="490.4" cy="314.0" r="1.75"/>
<circle cx="492.5" cy="312.6" r="1.75"/>
<circle cx="496.8" cy="310.5" r="1.75"/>
<circle cx="501.4" cy="308.2" r="1.75"/>
<circle cx="507.0" cy="304.8" r="1.75"/>
<circle cx="513.7" cy="301.6" r="1.75"/>
<circle cx="527.1" cy="294.6" r="1.75"/>
<circle cx="518.5" cy="299.0" r="1.75"/>
<circle cx="514.3" cy="301.2" r="1.75"/>
<circle cx="518.4" cy="298.7" r="1.75"/>
<circle cx="516.0" cy="300.6" r="1.75"/>
<circle cx="512.4" cy="302.0" r="1.75"/>
<circle cx="515.4" cy="300.4" r="1.75"/>
<circle cx="518.4" cy="299.2" r="1.75"/>
<circle cx="521.0" cy="297.3" r="1.75"/>
<circle cx="523.3" cy="296.7" r="1.75"/>
<circle cx="525.6" cy="295.4" r="1.75"/>
<circle cx="528.0" cy="294.2" r="1.75"/>
<circle cx="529.6" cy="293.1" r="1.75"/>
<circle cx="531.3" cy="292.0" r="1.75"/>
<circle cx="533.0" cy="291.0" r="1.75"/>
<circle cx="533.6" cy="291.4" r="1.75"/>
<circle cx="534.2" cy="290.7" r="1.75"/>
<circle cx="534.8" cy="290.3" r="1.75"/>
<circle cx="537.0" cy="289.7" r="1.75"/>
<circle cx="539.3" cy="288.0" r="1.75"/>
<circle cx="542.0" cy="286.6" r="1.75"/>
<circle cx="547.0" cy="284.0" r="1.75"/>
<circle cx="552.1" cy="281.3" r="1.75"/>
<circle cx="558.2" cy="277.9" r="1.75"/>
<circle cx="564.3" cy="274.9" r="1.75"/>
<circle cx="569.4" cy="272.6" r="1.75"/>
<circle cx="573.5" cy="270.3" r="1.75"/>
<circle cx="569.4" cy="271.6" r="1.75"/>
<circle cx="565.3" cy="274.0" r="1.75"/>
<circle cx="561.3" cy="276.6" r="1.75"/>
<circle cx="568.9" cy="272.5" r="1.75"/>
<circle cx="578.2" cy="267.6" r="1.75"/>
<circle cx="587.5" cy="263.0" r="1.75"/>
<circle cx="579.6" cy="266.5" r="1.75"/>
<circle cx="569.0" cy="272.8" r="1.75"/>
<circle cx="559.1" cy="277.7" r="1.75"/>
<circle cx="558.1" cy="278.3" r="1.75"/>
<circle cx="557.1" cy="278.8" r="1.75"/>
<circle cx="556.1" cy="279.5" r="1.75"/>
<circle cx="558.8" cy="277.8" r="1.75"/>
<circle cx="562.1" cy="276.0" r="1.75"/>
<circle cx="565.5" cy="274.5" r="1.75"/>
<circle cx="568.7" cy="272.7" r="1.75"/>
<circle cx="571.9" cy="270.7" r="1.75"/>
<circle cx="564.2" cy="275.3" r="1.75"/>
<circle cx="555.3" cy="280.0" r="1.75"/>
<circle cx="551.7" cy="281.9" r="1.75"/>
<circle cx="552.9" cy="281.0" r="1.75"/>
<circle cx="554.1" cy="280.4" r="1.75"/>
<circle cx="550.0" cy="282.4" r="1.75"/>
<circle cx="544.0" cy="285.4" r="1.75"/>
<circle cx="538.6" cy="288.5" r="1.75"/>
<circle cx="533.5" cy="291.2" r="1.75"/>
<circle cx="528.1" cy="293.8" r="1.75"/>
<circle cx="522.7" cy="297.3" r="1.75"/>
<circle cx="517.2" cy="299.4" r="1.75"/>
<circle cx="511.8" cy="302.4" r="1.75"/>
<circle cx="508.4" cy="304.2" r="1.75"/>
<circle cx="506.8" cy="305.5" r="1.75"/>
<circle cx="506.0" cy="305.6" r="1.75"/>
<circle cx="506.1" cy="305.5" r="1.75"/>
<circle cx="506.3" cy="305.3" r="1.75"/>
<circle cx="506.7" cy="305.1" r="1.75"/>
<circle cx="507.1" cy="304.8" r="1.75"/>
<circle cx="507.4" cy="305.1" r="1.75"/>
<circle cx="506.7" cy="305.4" r="1.75"/>
<circle cx="504.3" cy="306.7" r="1.75"/>
<circle cx="506.4" cy="305.3" r="1.75"/>
<circle cx="514.3" cy="301.8" r="1.75"/>
<circle cx="522.2" cy="296.9" r="1.75"/>
<circle cx="530.1" cy="292.5" r="1.75"/>
<circle cx="521.5" cy="297.4" r="1.75"/>
<circle cx="513.0" cy="302.0" r="1.75"/>
<circle cx="507.3" cy="305.1" r="1.75"/>
<circle cx="513.1" cy="301.6" r="1.75"/>
<circle cx="519.0" cy="298.9" r="1.75"/>
<circle cx="524.9" cy="296.1" r="1.75"/>
<circle cx="529.2" cy="293.2" r="1.75"/>
<circle cx="521.2" cy="297.5" r="1.75"/>
<circle cx="513.1" cy="301.5" r="1.75"/>
<circle cx="507.4" cy="305.0" r="1.75"/>
<circle cx="506.4" cy="305.6" r="1.75"/>
<circle cx="505.4" cy="306.1" r="1.75"/>
<circle cx="504.5" cy="306.6" r="1.75"/>
<circle cx="503.7" cy="307.1" r="1.75"/>
<circle cx="502.7" cy="307.4" r="1.75"/>
<circle cx="501.2" cy="308.4" r="1.75"/>
<circle cx="499.6" cy="308.8" r="1.75"/>
<circle cx="498.1" cy="309.6" r="1.75"/>
<circle cx="497.1" cy="310.3" r="1.75"/>
<circle cx="505.3" cy="305.8" r="1.75"/>
<circle cx="513.4" cy="301.8" r="1.75"/>
<circle cx="521.6" cy="297.7" r="1.75"/>
<circle cx="529.9" cy="293.1" r="1.75"/>
<circle cx="529.0" cy="293.4" r="1.75"/>
<circle cx="527.8" cy="294.0" r="1.75"/>
<circle cx="525.2" cy="295.8" r="1.75"/>
<circle cx="522.5" cy="296.8" r="1.75"/>
<circle cx="517.3" cy="299.7" r="1.75"/>
<circle cx="511.8" cy="302.5" r="1.75"/>
<circle cx="506.3" cy="305.5" r="1.75"/>
<circle cx="500.9" cy="308.5" r="1.75"/>
<circle cx="500.7" cy="308.3" r="1.75"/>
<circle cx="501.9" cy="307.5" r="1.75"/>
<circle cx="502.5" cy="307.8" r="1.75"/>
<circle cx="502.9" cy="307.3" r="1.75"/>
<circle cx="503.5" cy="307.1" r="1.75"/>
<circle cx="504.3" cy="306.5" r="1.75"/>
<circle cx="504.2" cy="306.7" r="1.75"/>
<circle cx="503.4" cy="307.3" r="1.75"/>
<circle cx="502.5" cy="307.7" r="1.75"/>
<circle cx="501.7" cy="307.8" r="1.75"/>
<circle cx="501.1" cy="308.1" r="1.75"/>
<circle cx="500.5" cy="308.6" r="1.75"/>
<circle cx="499.9" cy="308.8" r="1.75"/>
<circle cx="499.5" cy="309.2" r="1.75"/>
<circle cx="499.4" cy="308.9" r="1.75"/>
<circle cx="499.6" cy="308.5" r="1.75"/>
<circle cx="500.0" cy="308.9" r="1.75"/>
<circle cx="500.4" cy="308.7" r="1.75"/>
<circle cx="500.8" cy="308.5" r="1.75"/>
<circle cx="501.1" cy="308.5" r="1.75"/>
<circle cx="501.3" cy="308.3" r="1.75"/>
<circle cx="501.4" cy="308.0" r="1.75"/>
<circle cx="502.3" cy="307.8" r="1.75"/>
<circle cx="504.2" cy="306.5" r="1.75"/>
<circle cx="505.5" cy="306.1" r="1.75"/>
<circle cx="505.9" cy="305.7" r="1.75"/>
<circle cx="506.5" cy="305.4" r="1.75"/>
<circle cx="507.7" cy="304.8" r="1.75"/>
<circle cx="508.6" cy="304.2" r="1.75"/>
<circle cx="509.0" cy="303.7" r="1.75"/>
<circle cx="508.1" cy="304.5" r="1.75"/>
<circle cx="503.2" cy="306.6" r="1.75"/>
<circle cx="502.2" cy="307.7" r="1.75"/>
<circle cx="510.0" cy="303.8" r="1.75"/>
<circle cx="518.2" cy="299.7" r="1.75"/>
<circle cx="527.5" cy="294.4" r="1.75"/>
<circle cx="533.7" cy="290.9" r="1.75"/>
<circle cx="528.4" cy="293.5" r="1.75"/>
<circle cx="523.1" cy="297.0" r="1.75"/>
<circle cx="518.5" cy="298.7" r="1.75"/>
<circle cx="516.4" cy="300.4" r="1.75"/>
<circle cx="514.2" cy="300.8" r="1.75"/>
<circle cx="514.0" cy="301.4" r="1.75"/>
<circle cx="521.5" cy="297.6" r="1.75"/>
<circle cx="528.9" cy="293.6" r="1.75"/>
<circle cx="535.5" cy="290.1" r="1.75"/>
<circle cx="541.8" cy="286.6" r="1.75"/>
<circle cx="545.8" cy="284.5" r="1.75"/>
<circle cx="549.8" cy="282.8" r="1.75"/>
<circle cx="553.9" cy="280.5" r="1.75"/>
<circle cx="561.0" cy="276.7" r="1.75"/>
<circle cx="568.5" cy="272.8" r="1.75"/>
<circle cx="574.5" cy="269.4" r="1.75"/>
<circle cx="562.2" cy="276.3" r="1.75"/>
<circle cx="550.0" cy="282.7" r="1.75"/>
<circle cx="542.5" cy="286.2" r="1.75"/>
<circle cx="546.8" cy="284.2" r="1.75"/>
<circle cx="551.0" cy="282.2" r="1.75"/>
<circle cx="555.3" cy="279.6" r="1.75"/>
<circle cx="558.4" cy="278.5" r="1.75"/>
<circle cx="561.3" cy="276.9" r="1.75"/>
<circle cx="564.3" cy="274.9" r="1.75"/>
<circle cx="567.2" cy="273.6" r="1.75"/>
<circle cx="572.2" cy="271.2" r="1.75"/>
<circle cx="577.3" cy="267.9" r="1.75"/>
<circle cx="582.3" cy="265.6" r="1.75"/>
<circle cx="587.3" cy="262.9" r="1.75"/>
<circle cx="592.0" cy="260.3" r="1.75"/>
<circle cx="586.4" cy="263.5" r="1.75"/>
<circle cx="580.7" cy="266.2" r="1.75"/>
<circle cx="575.1" cy="269.0" r="1.75"/>
<circle cx="579.6" cy="266.6" r="1.75"/>
<circle cx="586.7" cy="263.2" r="1.75"/>
<circle cx="593.9" cy="259.5" r="1.75"/>
<circle cx="591.7" cy="260.6" r="1.75"/>
<circle cx="582.2" cy="265.5" r="1.75"/>
<circle cx="572.7" cy="270.5" r="1.75"/>
<circle cx="563.4" cy="275.7" r="1.75"/>
<circle cx="565.7" cy="274.3" r="1.75"/>
<circle cx="569.2" cy="272.2" r="1.75"/>
<circle cx="572.8" cy="270.4" r="1.75"/>
<circle cx="570.7" cy="271.9" r="1.75"/>
<circle cx="565.9" cy="274.0" r="1.75"/>
<circle cx="561.1" cy="276.6" r="1.75"/>
<circle cx="556.3" cy="279.2" r="1.75"/>
<circle cx="569.6" cy="271.9" r="1.75"/>
<circle cx="595.7" cy="258.7" r="1.75"/>
<circle cx="617.3" cy="246.7" r="1.75"/>
<circle cx="633.1" cy="239.2" r="1.75"/>
<circle cx="636.4" cy="237.1" r="1.75"/>
<circle cx="627.5" cy="241.6" r="1.75"/>
<circle cx="618.5" cy="246.6" r="1.75"/>
<circle cx="608.6" cy="251.3" r="1.75"/>
<circle cx="595.8" cy="258.5" r="1.75"/>
<circle cx="583.2" cy="265.2" r="1.75"/>
<circle cx="575.2" cy="269.1" r="1.75"/>
<circle cx="579.9" cy="266.7" r="1.75"/>
<circle cx="584.7" cy="264.5" r="1.75"/>
<circle cx="583.8" cy="264.5" r="1.75"/>
<circle cx="576.7" cy="268.5" r="1.75"/>
<circle cx="569.5" cy="272.3" r="1.75"/>
<circle cx="562.7" cy="276.1" r="1.75"/>
<circle cx="557.2" cy="278.6" r="1.75"/>
<circle cx="551.6" cy="281.6" r="1.75"/>
<circle cx="546.2" cy="284.7" r="1.75"/>
<circle cx="553.4" cy="280.1" r="1.75"/>
<circle cx="560.7" cy="276.8" r="1.75"/>
<circle cx="568.7" cy="272.3" r="1.75"/>
<circle cx="577.3" cy="267.7" r="1.75"/>
<circle cx="585.0" cy="264.5" r="1.75"/>
<circle cx="577.3" cy="268.2" r="1.75"/>
<circle cx="569.6" cy="272.5" r="1.75"/>
<circle cx="562.0" cy="276.1" r="1.75"/>
<circle cx="559.2" cy="277.8" r="1.75"/>
<circle cx="557.3" cy="278.5" r="1.75"/>
<circle cx="554.9" cy="279.8" r="1.75"/>
<circle cx="551.6" cy="281.6" r="1.75"/>
<circle cx="548.2" cy="283.4" r="1.75"/>
<circle cx="542.8" cy="286.6" r="1.75"/>
<circle cx="537.0" cy="289.3" r="1.75"/>
<circle cx="531.6" cy="292.2" r="1.75"/>
<circle cx="526.3" cy="294.9" r="1.75"/>
<circle cx="521.9" cy="297.3" r="1.75"/>
<circle cx="517.8" cy="299.1" r="1.75"/>
<circle cx="513.7" cy="301.8" r="1.75"/>
<circle cx="509.6" cy="303.6" r="1.75"/>
<circle cx="510.4" cy="303.3" r="1.75"/>
<circle cx="511.6" cy="302.6" r="1.75"/>
<circle cx="513.0" cy="302.1" r="1.75"/>
<circle cx="515.4" cy="300.8" r="1.75"/>
<circle cx="517.8" cy="299.4" r="1.75"/>
<circle cx="515.8" cy="300.5" r="1.75"/>
<circle cx="510.1" cy="303.5" r="1.75"/>
<circle cx="504.4" cy="306.6" r="1.75"/>
<circle cx="502.2" cy="307.7" r="1.75"/>
<circle cx="501.1" cy="308.5" r="1.75"/>
<circle cx="499.3" cy="309.5" r="1.75"/>
<circle cx="497.3" cy="310.3" r="1.75"/>
<circle cx="494.8" cy="311.2" r="1.75"/>
<circle cx="492.1" cy="313.3" r="1.75"/>
<circle cx="489.4" cy="314.8" r="1.75"/>
<circle cx="486.9" cy="315.6" r="1.75"/>
<circle cx="484.3" cy="316.9" r="1.75"/>
<circle cx="483.4" cy="317.0" r="1.75"/>
<circle cx="486.8" cy="315.9" r="1.75"/>
<circle cx="490.2" cy="313.7" r="1.75"/>
<circle cx="493.6" cy="312.5" r="1.75"/>
<circle cx="497.1" cy="309.7" r="1.75"/>
<circle cx="501.3" cy="308.1" r="1.75"/>
<circle cx="506.3" cy="305.6" r="1.75"/>
<circle cx="511.7" cy="302.5" r="1.75"/>
<circle cx="517.8" cy="299.2" r="1.75"/>
<circle cx="523.5" cy="296.5" r="1.75"/>
<circle cx="528.3" cy="293.8" r="1.75"/>
<circle cx="532.1" cy="291.8" r="1.75"/>
<circle cx="533.6" cy="291.1" r="1.75"/>
<circle cx="535.2" cy="290.1" r="1.75"/>
<circle cx="536.8" cy="289.4" r="1.75"/>
<circle cx="539.0" cy="288.5" r="1.75"/>
<circle cx="543.0" cy="286.1" r="1.75"/>
<circle cx="547.0" cy="284.1" r="1.75"/>
<circle cx="551.0" cy="281.8" r="1.75"/>
<circle cx="556.6" cy="279.2" r="1.75"/>
<circle cx="572.7" cy="270.3" r="1.75"/>
<circle cx="588.9" cy="262.2" r="1.75"/>
<circle cx="605.3" cy="252.7" r="1.75"/>
<circle cx="618.2" cy="246.5" r="1.75"/>
<circle cx="620.3" cy="245.2" r="1.75"/>
<circle cx="622.6" cy="244.6" r="1.75"/>
<circle cx="625.7" cy="242.8" r="1.75"/>
<circle cx="629.3" cy="240.6" r="1.75"/>
<circle cx="634.9" cy="237.9" r="1.75"/>
<circle cx="640.6" cy="235.3" r="1.75"/>
<circle cx="638.6" cy="236.0" r="1.75"/>
<circle cx="632.7" cy="239.3" r="1.75"/>
<circle cx="638.5" cy="235.8" r="1.75"/>
<circle cx="644.3" cy="232.7" r="1.75"/>
<circle cx="638.4" cy="236.3" r="1.75"/>
<circle cx="631.5" cy="240.2" r="1.75"/>
<circle cx="621.5" cy="244.9" r="1.75"/>
<circle cx="609.4" cy="251.4" r="1.75"/>
<circle cx="597.5" cy="257.3" r="1.75"/>
<circle cx="588.5" cy="262.5" r="1.75"/>
<circle cx="580.3" cy="266.5" r="1.75"/>
<circle cx="572.6" cy="270.5" r="1.75"/>
<circle cx="594.3" cy="258.8" r="1.75"/>
<circle cx="616.3" cy="247.6" r="1.75"/>
<circle cx="642.4" cy="234.1" r="1.75"/>
<circle cx="631.6" cy="240.0" r="1.75"/>
<circle cx="625.9" cy="242.4" r="1.75"/>
<circle cx="620.0" cy="245.9" r="1.75"/>
<circle cx="614.2" cy="248.7" r="1.75"/>
<circle cx="606.8" cy="252.5" r="1.75"/>
<circle cx="598.6" cy="256.7" r="1.75"/>
<circle cx="588.7" cy="261.8" r="1.75"/>
<circle cx="578.0" cy="267.5" r="1.75"/>
<circle cx="567.4" cy="273.7" r="1.75"/>
<circle cx="560.4" cy="276.7" r="1.75"/>
<circle cx="553.9" cy="280.3" r="1.75"/>
<circle cx="547.5" cy="284.0" r="1.75"/>
<circle cx="545.8" cy="284.2" r="1.75"/>
<circle cx="544.8" cy="285.3" r="1.75"/>
<circle cx="543.8" cy="285.6" r="1.75"/>
<circle cx="544.0" cy="285.6" r="1.75"/>
<circle cx="545.1" cy="285.3" r="1.75"/>
<circle cx="546.1" cy="284.5" r="1.75"/>
<circle cx="545.0" cy="285.1" r="1.75"/>
<circle cx="540.9" cy="287.4" r="1.75"/>
<circle cx="536.9" cy="289.5" r="1.75"/>
<circle cx="534.7" cy="290.3" r="1.75"/>
<circle cx="533.7" cy="291.0" r="1.75"/>
<circle cx="532.0" cy="291.6" r="1.75"/>
<circle cx="529.9" cy="293.3" r="1.75"/>
<circle cx="529.6" cy="293.0" r="1.75"/>
<circle cx="530.8" cy="292.6" r="1.75"/>
<circle cx="532.0" cy="292.3" r="1.75"/>
<circle cx="533.2" cy="291.5" r="1.75"/>
<circle cx="534.4" cy="290.6" r="1.75"/>
<circle cx="535.1" cy="290.2" r="1.75"/>
<circle cx="532.9" cy="291.3" r="1.75"/>
<circle cx="530.7" cy="292.8" r="1.75"/>
<circle cx="528.2" cy="294.0" r="1.75"/>
<circle cx="525.7" cy="295.3" r="1.75"/>
<circle cx="523.8" cy="296.8" r="1.75"/>
<circle cx="522.8" cy="296.6" r="1.75"/>
<circle cx="521.8" cy="297.2" r="1.75"/>
<circle cx="521.0" cy="297.6" r="1.75"/>
<circle cx="520.1" cy="298.3" r="1.75"/>
<circle cx="518.8" cy="299.0" r="1.75"/>
<circle cx="517.6" cy="299.5" r="1.75"/>
<circle cx="516.5" cy="300.3" r="1.75"/>
<circle cx="515.3" cy="300.8" r="1.75"/>
<circle cx="514.8" cy="300.9" r="1.75"/>
<circle cx="514.7" cy="300.5" r="1.75"/>
<circle cx="514.5" cy="301.3" r="1.75"/>
<circle cx="513.5" cy="301.5" r="1.75"/>
<circle cx="512.4" cy="302.1" r="1.75"/>
<circle cx="511.8" cy="302.5" r="1.75"/>
<circle cx="511.6" cy="302.4" r="1.75"/>
<circle cx="511.3" cy="302.6" r="1.75"/>
<circle cx="510.5" cy="303.3" r="1.75"/>
<circle cx="509.7" cy="303.6" r="1.75"/>
<circle cx="508.2" cy="304.5" r="1.75"/>
<circle cx="506.7" cy="305.0" r="1.75"/>
<circle cx="507.3" cy="304.9" r="1.75"/>
<circle cx="507.9" cy="304.4" r="1.75"/>
<circle cx="508.8" cy="304.1" r="1.75"/>
<circle cx="509.7" cy="303.7" r="1.75"/>
<circle cx="510.7" cy="303.1" r="1.75"/>
<circle cx="511.7" cy="302.3" r="1.75"/>
<circle cx="512.7" cy="302.0" r="1.75"/>
<circle cx="511.5" cy="302.7" r="1.75"/>
<circle cx="509.2" cy="304.1" r="1.75"/>
<circle cx="507.0" cy="305.1" r="1.75"/>
<circle cx="506.3" cy="305.4" r="1.75"/>
<circle cx="505.9" cy="305.4" r="1.75"/>
<circle cx="505.5" cy="306.3" r="1.75"/>
<circle cx="505.1" cy="305.9" r="1.75"/>
<circle cx="504.5" cy="306.1" r="1.75"/>
<circle cx="503.9" cy="306.7" r="1.75"/>
<circle cx="503.2" cy="306.7" r="1.75"/>
<circle cx="502.0" cy="307.9" r="1.75"/>
<circle cx="500.8" cy="308.4" r="1.75"/>
<circle cx="502.2" cy="307.7" r="1.75"/>
<circle cx="505.4" cy="305.7" r="1.75"/>
<circle cx="508.6" cy="304.1" r="1.75"/>
<circle cx="513.2" cy="302.0" r="1.75"/>
<circle cx="518.9" cy="299.0" r="1.75"/>
<circle cx="524.6" cy="296.5" r="1.75"/>
<circle cx="524.9" cy="295.9" r="1.75"/>
<circle cx="523.9" cy="295.8" r="1.75"/>
<circle cx="522.9" cy="296.7" r="1.75"/>
<circle cx="523.9" cy="296.1" r="1.75"/>
<circle cx="526.4" cy="295.1" r="1.75"/>
<circle cx="528.8" cy="293.6" r="1.75"/>
<circle cx="531.1" cy="292.5" r="1.75"/>
<circle cx="532.8" cy="291.4" r="1.75"/>
<circle cx="534.6" cy="290.7" r="1.75"/>
<circle cx="532.1" cy="292.2" r="1.75"/>
<circle cx="526.1" cy="294.9" r="1.75"/>
<circle cx="524.2" cy="295.6" r="1.75"/>
<circle cx="528.7" cy="293.4" r="1.75"/>
<circle cx="533.2" cy="291.7" r="1.75"/>
<circle cx="537.7" cy="289.0" r="1.75"/>
<circle cx="542.3" cy="286.4" r="1.75"/>
<circle cx="547.0" cy="283.8" r="1.75"/>
<circle cx="552.0" cy="281.6" r="1.75"/>
<circle cx="557.8" cy="278.4" r="1.75"/>
<circle cx="563.6" cy="275.3" r="1.75"/>
<circle cx="568.9" cy="272.4" r="1.75"/>
<circle cx="573.7" cy="270.0" r="1.75"/>
<circle cx="578.5" cy="267.4" r="1.75"/>
<circle cx="584.4" cy="264.5" r="1.75"/>
<circle cx="597.7" cy="257.7" r="1.75"/>
<circle cx="611.2" cy="249.9" r="1.75"/>
<circle cx="606.3" cy="252.6" r="1.75"/>
<circle cx="595.7" cy="258.4" r="1.75"/>
<circle cx="586.2" cy="263.4" r="1.75"/>
<circle cx="578.5" cy="267.1" r="1.75"/>
<circle cx="570.8" cy="271.4" r="1.75"/>
<circle cx="575.2" cy="269.1" r="1.75"/>
<circle cx="582.3" cy="265.4" r="1.75"/>
<circle cx="588.9" cy="261.9" r="1.75"/>
<circle cx="567.6" cy="273.2" r="1.75"/>
<circle cx="549.7" cy="282.8" r="1.75"/>
<circle cx="567.9" cy="273.2" r="1.75"/>
<circle cx="586.2" cy="263.5" r="1.75"/>
<circle cx="579.4" cy="267.1" r="1.75"/>
<circle cx="570.6" cy="271.5" r="1.75"/>
<circle cx="563.8" cy="275.1" r="1.75"/>
<circle cx="569.9" cy="272.2" r="1.75"/>
<circle cx="576.0" cy="268.8" r="1.75"/>
<circle cx="582.1" cy="265.8" r="1.75"/>
<circle cx="580.4" cy="266.6" r="1.75"/>
<circle cx="577.8" cy="267.9" r="1.75"/>
<circle cx="575.3" cy="269.3" r="1.75"/>
<circle cx="580.0" cy="266.3" r="1.75"/>
<circle cx="588.3" cy="262.3" r="1.75"/>
<circle cx="596.6" cy="257.9" r="1.75"/>
<circle cx="594.2" cy="259.4" r="1.75"/>
<circle cx="590.3" cy="261.1" r="1.75"/>
<circle cx="586.5" cy="263.3" r="1.75"/>
<circle cx="587.3" cy="262.8" r="1.75"/>
<circle cx="588.8" cy="262.2" r="1.75"/>
<circle cx="590.3" cy="261.4" r="1.75"/>
<circle cx="589.3" cy="261.8" r="1.75"/>
<circle cx="586.7" cy="263.2" r="1.75"/>
<circle cx="584.2" cy="264.6" r="1.75"/>
<circle cx="586.1" cy="263.7" r="1.75"/>
<circle cx="594.3" cy="259.1" r="1.75"/>
<circle cx="602.7" cy="254.8" r="1.75"/>
<circle cx="598.3" cy="257.0" r="1.75"/>
<circle cx="585.9" cy="263.4" r="1.75"/>
<circle cx="591.6" cy="260.6" r="1.75"/>
<circle cx="618.4" cy="246.7" r="1.75"/>
<circle cx="617.5" cy="246.8" r="1.75"/>
<circle cx="591.9" cy="260.8" r="1.75"/>
<circle cx="574.5" cy="269.4" r="1.75"/>
<circle cx="570.5" cy="271.9" r="1.75"/>
<circle cx="566.4" cy="273.9" r="1.75"/>
<circle cx="561.3" cy="276.2" r="1.75"/>
<circle cx="549.4" cy="282.8" r="1.75"/>
<circle cx="539.1" cy="287.9" r="1.75"/>
<circle cx="533.9" cy="290.9" r="1.75"/>
<circle cx="528.7" cy="293.8" r="1.75"/>
<circle cx="528.6" cy="294.1" r="1.75"/>
<circle cx="535.5" cy="290.3" r="1.75"/>
<circle cx="542.5" cy="286.1" r="1.75"/>
<circle cx="544.4" cy="285.3" r="1.75"/>
<circle cx="539.0" cy="288.6" r="1.75"/>
<circle cx="534.1" cy="290.9" r="1.75"/>
<circle cx="545.8" cy="285.1" r="1.75"/>
<circle cx="555.4" cy="279.5" r="1.75"/>
<circle cx="544.8" cy="285.1" r="1.75"/>
<circle cx="534.2" cy="290.5" r="1.75"/>
<circle cx="550.3" cy="282.2" r="1.75"/>
<circle cx="567.7" cy="273.4" r="1.75"/>
<circle cx="554.1" cy="280.1" r="1.75"/>
<circle cx="540.5" cy="287.6" r="1.75"/>
<circle cx="534.6" cy="290.6" r="1.75"/>
<circle cx="530.0" cy="293.1" r="1.75"/>
<circle cx="525.4" cy="295.3" r="1.75"/>
<circle cx="521.0" cy="297.7" r="1.75"/>
<circle cx="516.5" cy="300.5" r="1.75"/>
<circle cx="512.1" cy="302.1" r="1.75"/>
<circle cx="510.5" cy="303.4" r="1.75"/>
<circle cx="509.4" cy="304.1" r="1.75"/>
<circle cx="508.2" cy="304.5" r="1.75"/>
<circle cx="507.0" cy="305.5" r="1.75"/>
<circle cx="507.9" cy="303.9" r="1.75"/>
<circle cx="509.6" cy="303.6" r="1.75"/>
<circle cx="511.3" cy="302.6" r="1.75"/>
<circle cx="508.8" cy="304.0" r="1.75"/>
<circle cx="506.1" cy="305.5" r="1.75"/>
<circle cx="503.4" cy="307.1" r="1.75"/>
<circle cx="500.7" cy="308.2" r="1.75"/>
<circle cx="499.3" cy="309.3" r="1.75"/>
<circle cx="498.2" cy="309.4" r="1.75"/>
<circle cx="497.0" cy="310.5" r="1.75"/>
<circle cx="495.9" cy="310.9" r="1.75"/>
<circle cx="495.1" cy="310.9" r="1.75"/>
<circle cx="494.5" cy="311.2" r="1.75"/>
<circle cx="493.9" cy="311.5" r="1.75"/>
<circle cx="494.2" cy="311.6" r="1.75"/>
<circle cx="494.8" cy="311.5" r="1.75"/>
<circle cx="495.4" cy="311.5" r="1.75"/>
<circle cx="495.6" cy="311.2" r="1.75"/>
<circle cx="495.8" cy="310.7" r="1.75"/>
<circle cx="495.7" cy="310.5" r="1.75"/>
<circle cx="494.0" cy="311.8" r="1.75"/>
<circle cx="492.4" cy="312.4" r="1.75"/>
<circle cx="491.2" cy="313.3" r="1.75"/>
<circle cx="490.1" cy="313.8" r="1.75"/>
<circle cx="488.4" cy="315.4" r="1.75"/>
<circle cx="486.6" cy="315.4" r="1.75"/>
<circle cx="484.4" cy="317.0" r="1.75"/>
<circle cx="482.2" cy="318.5" r="1.75"/>
<circle cx="480.3" cy="319.0" r="1.75"/>
<circle cx="478.7" cy="319.8" r="1.75"/>
<circle cx="477.1" cy="321.1" r="1.75"/>
<circle cx="475.8" cy="321.0" r="1.75"/>
<circle cx="476.4" cy="320.8" r="1.75"/>
<circle cx="477.0" cy="320.6" r="1.75"/>
<circle cx="477.5" cy="320.6" r="1.75"/>
<circle cx="477.7" cy="320.7" r="1.75"/>
<circle cx="477.2" cy="320.7" r="1.75"/>
<circle cx="476.8" cy="321.4" r="1.75"/>
<circle cx="476.4" cy="321.1" r="1.75"/>
<circle cx="479.6" cy="319.4" r="1.75"/>
<circle cx="482.9" cy="317.7" r="1.75"/>
<circle cx="487.8" cy="315.4" r="1.75"/>
<circle cx="493.0" cy="312.5" r="1.75"/>
<circle cx="494.9" cy="311.3" r="1.75"/>
<circle cx="495.6" cy="311.4" r="1.75"/>
<circle cx="496.3" cy="311.0" r="1.75"/>
<circle cx="496.9" cy="310.6" r="1.75"/>
<circle cx="497.5" cy="309.8" r="1.75"/>
<circle cx="497.2" cy="310.0" r="1.75"/>
<circle cx="496.6" cy="310.5" r="1.75"/>
<circle cx="496.0" cy="310.8" r="1.75"/>
<circle cx="495.7" cy="310.9" r="1.75"/>
<circle cx="498.3" cy="309.6" r="1.75"/>
<circle cx="500.8" cy="308.5" r="1.75"/>
<circle cx="512.8" cy="301.8" r="1.75"/>
<circle cx="521.3" cy="297.6" r="1.75"/>
<circle cx="516.1" cy="300.2" r="1.75"/>
<circle cx="511.6" cy="302.6" r="1.75"/>
<circle cx="514.4" cy="301.1" r="1.75"/>
<circle cx="517.2" cy="299.9" r="1.75"/>
<circle cx="517.8" cy="299.5" r="1.75"/>
<circle cx="512.6" cy="301.9" r="1.75"/>
<circle cx="509.5" cy="303.9" r="1.75"/>
<circle cx="519.4" cy="298.6" r="1.75"/>
<circle cx="526.5" cy="294.9" r="1.75"/>
<circle cx="522.0" cy="297.1" r="1.75"/>
<circle cx="518.1" cy="299.5" r="1.75"/>
<circle cx="525.5" cy="295.4" r="1.75"/>
<circle cx="533.0" cy="291.2" r="1.75"/>
<circle cx="540.5" cy="287.2" r="1.75"/>
<circle cx="535.3" cy="289.9" r="1.75"/>
<circle cx="527.2" cy="294.6" r="1.75"/>
<circle cx="519.2" cy="298.5" r="1.75"/>
<circle cx="517.6" cy="299.5" r="1.75"/>
<circle cx="515.9" cy="300.4" r="1.75"/>
<circle cx="516.7" cy="300.3" r="1.75"/>
<circle cx="526.3" cy="295.4" r="1.75"/>
<circle cx="535.6" cy="290.0" r="1.75"/>
<circle cx="538.3" cy="289.1" r="1.75"/>
<circle cx="541.0" cy="287.3" r="1.75"/>
<circle cx="536.6" cy="289.8" r="1.75"/>
<circle cx="529.1" cy="293.4" r="1.75"/>
<circle cx="530.2" cy="292.6" r="1.75"/>
<circle cx="534.0" cy="291.0" r="1.75"/>
<circle cx="537.7" cy="289.2" r="1.75"/>
<circle cx="534.8" cy="290.1" r="1.75"/>
<circle cx="529.8" cy="293.1" r="1.75"/>
<circle cx="533.1" cy="291.4" r="1.75"/>
<circle cx="538.3" cy="288.8" r="1.75"/>
<circle cx="543.3" cy="285.8" r="1.75"/>
<circle cx="538.3" cy="288.5" r="1.75"/>
<circle cx="533.3" cy="291.5" r="1.75"/>
<circle cx="532.2" cy="292.2" r="1.75"/>
<circle cx="536.3" cy="289.7" r="1.75"/>
<circle cx="540.4" cy="287.8" r="1.75"/>
<circle cx="544.8" cy="285.3" r="1.75"/>
<circle cx="549.4" cy="282.9" r="1.75"/>
<circle cx="554.0" cy="280.3" r="1.75"/>
<circle cx="553.0" cy="280.8" r="1.75"/>
<circle cx="551.0" cy="281.8" r="1.75"/>
<circle cx="548.5" cy="283.3" r="1.75"/>
<circle cx="545.4" cy="285.1" r="1.75"/>
<circle cx="542.6" cy="286.4" r="1.75"/>
<circle cx="540.3" cy="287.7" r="1.75"/>
<circle cx="538.0" cy="288.6" r="1.75"/>
<circle cx="535.3" cy="290.4" r="1.75"/>
<circle cx="532.3" cy="291.1" r="1.75"/>
<circle cx="529.1" cy="293.1" r="1.75"/>
<circle cx="526.0" cy="295.0" r="1.75"/>
<circle cx="522.4" cy="296.6" r="1.75"/>
<circle cx="518.4" cy="299.2" r="1.75"/>
<circle cx="514.5" cy="301.2" r="1.75"/>
<circle cx="511.0" cy="302.8" r="1.75"/>
<circle cx="509.3" cy="303.9" r="1.75"/>
<circle cx="507.6" cy="304.4" r="1.75"/>
<circle cx="506.9" cy="305.0" r="1.75"/>
<circle cx="507.4" cy="304.8" r="1.75"/>
<circle cx="507.9" cy="304.3" r="1.75"/>
<circle cx="507.2" cy="305.2" r="1.75"/>
<circle cx="504.7" cy="306.1" r="1.75"/>
<circle cx="502.3" cy="307.8" r="1.75"/>
<circle cx="499.7" cy="308.9" r="1.75"/>
<circle cx="496.3" cy="310.8" r="1.75"/>
<circle cx="492.9" cy="312.3" r="1.75"/>
<circle cx="489.5" cy="314.2" r="1.75"/>
<circle cx="490.9" cy="313.5" r="1.75"/>
<circle cx="492.5" cy="312.7" r="1.75"/>
<circle cx="494.5" cy="312.0" r="1.75"/>
<circle cx="497.9" cy="309.8" r="1.75"/>
<circle cx="501.3" cy="308.1" r="1.75"/>
<circle cx="502.0" cy="307.8" r="1.75"/>
<circle cx="497.7" cy="310.2" r="1.75"/>
<circle cx="493.4" cy="312.2" r="1.75"/>
<circle cx="491.9" cy="313.0" r="1.75"/>
<circle cx="491.1" cy="313.3" r="1.75"/>
<circle cx="490.3" cy="313.9" r="1.75"/>
<circle cx="489.5" cy="314.3" r="1.75"/>
<circle cx="488.9" cy="314.5" r="1.75"/>
<circle cx="488.2" cy="314.9" r="1.75"/>
<circle cx="487.6" cy="315.5" r="1.75"/>
<circle cx="486.9" cy="315.6" r="1.75"/>
<circle cx="486.6" cy="315.7" r="1.75"/>
<circle cx="486.5" cy="316.1" r="1.75"/>
<circle cx="486.3" cy="316.2" r="1.75"/>
<circle cx="595.7" cy="258.6" r="1.75"/>
<circle cx="586.0" cy="263.7" r="1.75"/>
<circle cx="612.8" cy="249.4" r="1.75"/>
<circle cx="628.7" cy="241.3" r="1.75"/>
<circle cx="610.2" cy="250.9" r="1.75"/>
<circle cx="614.2" cy="248.8" r="1.75"/>
<circle cx="585.6" cy="263.4" r="1.75"/>
<circle cx="614.3" cy="248.7" r="1.75"/>
<circle cx="641.8" cy="234.5" r="1.75"/>
<circle cx="636.3" cy="237.4" r="1.75"/>
<circle cx="629.0" cy="241.0" r="1.75"/>
<circle cx="591.4" cy="260.7" r="1.75"/>
<circle cx="638.9" cy="235.5" r="1.75"/>
<circle cx="636.6" cy="236.7" r="1.75"/>
<circle cx="594.8" cy="258.3" r="1.75"/>
<circle cx="623.1" cy="244.1" r="1.75"/>
<circle cx="586.1" cy="263.9" r="1.75"/>
<circle cx="591.9" cy="260.8" r="1.75"/>
<circle cx="604.0" cy="253.9" r="1.75"/>
<circle cx="594.4" cy="259.3" r="1.75"/>
<circle cx="630.7" cy="240.4" r="1.75"/>
<circle cx="634.3" cy="238.2" r="1.75"/>
<circle cx="605.7" cy="252.8" r="1.75"/>
<circle cx="604.1" cy="254.4" r="1.75"/>
<circle cx="591.6" cy="260.5" r="1.75"/>
<circle cx="589.9" cy="261.4" r="1.75"/>
<circle cx="627.9" cy="242.0" r="1.75"/>
<circle cx="621.1" cy="245.3" r="1.75"/>
<circle cx="588.2" cy="262.6" r="1.75"/>
<circle cx="613.8" cy="249.3" r="1.75"/>
<circle cx="609.1" cy="251.4" r="1.75"/>
<circle cx="636.1" cy="237.1" r="1.75"/>
<circle cx="628.2" cy="241.6" r="1.75"/>
<circle cx="621.2" cy="245.1" r="1.75"/>
<circle cx="618.2" cy="246.8" r="1.75"/>
<circle cx="642.2" cy="234.3" r="1.75"/>
<circle cx="644.5" cy="232.8" r="1.75"/>
<circle cx="605.3" cy="253.4" r="1.75"/>
<circle cx="599.3" cy="256.5" r="1.75"/>
<circle cx="633.0" cy="238.9" r="1.75"/>
<circle cx="588.7" cy="262.1" r="1.75"/>
<circle cx="606.9" cy="252.7" r="1.75"/>
<circle cx="589.1" cy="262.0" r="1.75"/>
<circle cx="604.1" cy="253.8" r="1.75"/>
<circle cx="589.1" cy="262.1" r="1.75"/>
<circle cx="602.4" cy="254.6" r="1.75"/>
<circle cx="632.6" cy="239.7" r="1.75"/>
<circle cx="639.6" cy="235.4" r="1.75"/>
<circle cx="632.7" cy="239.1" r="1.75"/>
<circle cx="618.8" cy="246.7" r="1.75"/>
<circle cx="622.1" cy="244.6" r="1.75"/>
<circle cx="606.7" cy="252.4" r="1.75"/>
<circle cx="595.0" cy="258.5" r="1.75"/>
<circle cx="611.2" cy="250.4" r="1.75"/>
<circle cx="629.1" cy="241.1" r="1.75"/>
<circle cx="588.6" cy="262.4" r="1.75"/>
<circle cx="586.1" cy="263.6" r="1.75"/>
<circle cx="631.4" cy="239.7" r="1.75"/>
<circle cx="603.0" cy="254.8" r="1.75"/>
<circle cx="627.2" cy="242.3" r="1.75"/>
<circle cx="629.2" cy="240.8" r="1.75"/>
<circle cx="641.2" cy="235.5" r="1.75"/>
<circle cx="609.0" cy="251.4" r="1.75"/>
<circle cx="606.5" cy="253.1" r="1.75"/>
<circle cx="633.6" cy="239.1" r="1.75"/>
<circle cx="631.0" cy="240.2" r="1.75"/>
<circle cx="624.3" cy="243.6" r="1.75"/>
<circle cx="633.8" cy="238.7" r="1.75"/>
<circle cx="623.7" cy="244.1" r="1.75"/>
<circle cx="642.7" cy="233.3" r="1.75"/>
<circle cx="605.0" cy="253.7" r="1.75"/>
<circle cx="629.5" cy="240.7" r="1.75"/>
<circle cx="642.2" cy="234.0" r="1.75"/>
<circle cx="605.1" cy="253.6" r="1.75"/>
<circle cx="621.8" cy="244.9" r="1.75"/>
<circle cx="606.9" cy="252.7" r="1.75"/>
<circle cx="612.7" cy="249.4" r="1.75"/>
<circle cx="589.4" cy="262.0" r="1.75"/>
<circle cx="586.0" cy="263.1" r="1.75"/>
<circle cx="630.7" cy="239.9" r="1.75"/>
<circle cx="612.2" cy="249.6" r="1.75"/>
<circle cx="622.5" cy="244.5" r="1.75"/>
<circle cx="629.6" cy="240.7" r="1.75"/>
<circle cx="610.1" cy="251.0" r="1.75"/>
<circle cx="607.1" cy="252.3" r="1.75"/>
<circle cx="595.1" cy="259.1" r="1.75"/>
<circle cx="632.8" cy="239.2" r="1.75"/>
<circle cx="635.2" cy="237.7" r="1.75"/>
<circle cx="629.2" cy="240.6" r="1.75"/>
<circle cx="637.7" cy="236.2" r="1.75"/>
<circle cx="624.0" cy="243.3" r="1.75"/>
<circle cx="626.9" cy="242.4" r="1.75"/>
<circle cx="596.5" cy="258.2" r="1.75"/>
<circle cx="631.2" cy="239.6" r="1.75"/>
<circle cx="605.0" cy="254.0" r="1.75"/>
<circle cx="611.3" cy="250.2" r="1.75"/>
<circle cx="604.1" cy="253.5" r="1.75"/>
<circle cx="619.2" cy="246.4" r="1.75"/>
<circle cx="624.6" cy="243.6" r="1.75"/>
<circle cx="619.6" cy="245.9" r="1.75"/>
<circle cx="604.1" cy="253.9" r="1.75"/>
<circle cx="598.0" cy="257.5" r="1.75"/>
<circle cx="635.9" cy="237.3" r="1.75"/>
<circle cx="603.1" cy="254.6" r="1.75"/>
<circle cx="611.3" cy="250.4" r="1.75"/>
<circle cx="590.4" cy="261.3" r="1.75"/>
<circle cx="603.0" cy="254.5" r="1.75"/>
<circle cx="590.0" cy="261.2" r="1.75"/>
<circle cx="605.6" cy="253.4" r="1.75"/>
<circle cx="627.7" cy="241.2" r="1.75"/>
<circle cx="643.2" cy="232.1" r="1.75"/>
<circle cx="648.4" cy="230.1" r="1.75"/>
<circle cx="656.3" cy="226.8" r="1.75"/>
<circle cx="658.3" cy="225.8" r="1.75"/>
<circle cx="660.3" cy="224.5" r="1.75"/>
<circle cx="663.6" cy="222.9" r="1.75"/>
<circle cx="665.5" cy="222.2" r="1.75"/>
<circle cx="670.1" cy="220.0" r="1.75"/>
<circle cx="672.1" cy="219.2" r="1.75"/>
<circle cx="676.7" cy="217.0" r="1.75"/>
<circle cx="678.7" cy="216.1" r="1.75"/>
<circle cx="680.7" cy="215.0" r="1.75"/>
<circle cx="686.6" cy="211.7" r="1.75"/>
<circle cx="691.2" cy="210.4" r="1.75"/>
<circle cx="694.5" cy="208.4" r="1.75"/>
<circle cx="697.1" cy="207.1" r="1.75"/>
<circle cx="699.7" cy="205.8" r="1.75"/>
<circle cx="702.4" cy="204.5" r="1.75"/>
<circle cx="705.0" cy="203.2" r="1.75"/>
<circle cx="707.6" cy="201.6" r="1.75"/>
<circle cx="709.6" cy="200.5" r="1.75"/>
<circle cx="717.5" cy="196.8" r="1.75"/>
<circle cx="652.0" cy="228.6" r="1.75"/>
<circle cx="688.5" cy="211.0" r="1.75"/>
</g>
<line x1="442.1" y1="338.6" x2="759.3" y2="173.4" stroke="#333" stroke-width="0.8"/>
<g fill="none" stroke="#ff0000" stroke-width="0.75">
<circle cx="507.5" cy="472.9" r="1.75"/>
<circle cx="503.6" cy="474.8" r="1.75"/>
<circle cx="501.4" cy="476.0" r="1.75"/>
<circle cx="500.9" cy="476.0" r="1.75"/>
<circle cx="500.5" cy="476.4" r="1.75"/>
<circle cx="499.9" cy="476.8" r="1.75"/>
<circle cx="499.3" cy="476.7" r="1.75"/>
<circle cx="498.7" cy="477.2" r="1.75"/>
<circle cx="498.1" cy="477.6" r="1.75"/>
<circle cx="497.1" cy="477.7" r="1.75"/>
<circle cx="496.2" cy="478.2" r="1.75"/>
<circle cx="495.2" cy="479.3" r="1.75"/>
<circle cx="492.9" cy="480.3" r="1.75"/>
<circle cx="489.6" cy="481.5" r="1.75"/>
<circle cx="486.4" cy="483.3" r="1.75"/>
<circle cx="483.1" cy="484.8" r="1.75"/>
<circle cx="479.8" cy="486.6" r="1.75"/>
<circle cx="476.5" cy="488.1" r="1.75"/>
<circle cx="478.0" cy="486.6" r="1.75"/>
<circle cx="480.4" cy="486.0" r="1.75"/>
<circle cx="485.1" cy="484.1" r="1.75"/>
<circle cx="489.9" cy="481.9" r="1.75"/>
<circle cx="488.5" cy="482.0" r="1.75"/>
<circle cx="486.6" cy="482.8" r="1.75"/>
<circle cx="484.2" cy="484.3" r="1.75"/>
<circle cx="480.9" cy="485.6" r="1.75"/>
<circle cx="482.7" cy="484.9" r="1.75"/>
<circle cx="485.6" cy="483.3" r="1.75"/>
<circle cx="488.3" cy="482.4" r="1.75"/>
<circle cx="490.4" cy="481.4" r="1.75"/>
<circle cx="492.5" cy="480.3" r="1.75"/>
<circle cx="496.8" cy="477.9" r="1.75"/>
<circle cx="501.4" cy="475.5" r="1.75"/>
<circle cx="507.0" cy="472.8" r="1.75"/>
<circle cx="513.7" cy="469.8" r="1.75"/>
<circle cx="527.1" cy="462.5" r="1.75"/>
<circle cx="518.5" cy="467.5" r="1.75"/>
<circle cx="514.3" cy="469.8" r="1.75"/>
<circle cx="518.4" cy="467.2" r="1.75"/>
<circle cx="516.0" cy="468.5" r="1.75"/>
<circle cx="512.4" cy="470.6" r="1.75"/>
<circle cx="515.4" cy="469.1" r="1.75"/>
<circle cx="518.4" cy="467.2" r="1.75"/>
<circle cx="521.0" cy="466.0" r="1.75"/>
<circle cx="523.3" cy="464.9" r="1.75"/>
<circle cx="525.6" cy="463.6" r="1.75"/>
<circle cx="528.0" cy="462.6" r="1.75"/>
<circle cx="529.6" cy="461.7" r="1.75"/>
<circle cx="531.3" cy="461.0" r="1.75"/>
<circle cx="533.0" cy="459.5" r="1.75"/>
<circle cx="533.6" cy="459.8" r="1.75"/>
<circle cx="534.2" cy="459.4" r="1.75"/>
<circle cx="534.8" cy="458.9" r="1.75"/>
<circle cx="537.0" cy="457.8" r="1.75"/>
<circle cx="539.3" cy="456.7" r="1.75"/>
<circle cx="542.0" cy="455.2" r="1.75"/>
<circle cx="547.0" cy="452.4" r="1.75"/>
<circle cx="552.1" cy="449.8" r="1.75"/>
<circle cx="558.2" cy="446.2" r="1.75"/>
<circle cx="564.3" cy="442.8" r="1.75"/>
<circle cx="569.4" cy="440.1" r="1.75"/>
<circle cx="573.5" cy="437.8" r="1.75"/>
<circle cx="569.4" cy="440.3" r="1.75"/>
<circle cx="565.3" cy="442.7" r="1.75"/>
<circle cx="561.3" cy="444.8" r="1.75"/>
<circle cx="568.9" cy="440.8" r="1.75"/>
<circle cx="578.2" cy="435.3" r="1.75"/>
<circle cx="587.5" cy="429.9" r="1.75"/>
<circle cx="579.6" cy="434.4" r="1.75"/>
<circle cx="569.0" cy="440.3" r="1.75"/>
<circle cx="559.1" cy="445.8" r="1.75"/>
<circle cx="558.1" cy="446.7" r="1.75"/>
<circle cx="557.1" cy="446.7" r="1.75"/>
<circle cx="556.1" cy="447.7" r="1.75"/>
<circle cx="558.8" cy="446.1" r="1.75"/>
<circle cx="562.1" cy="444.4" r="1.75"/>
<circle cx="565.5" cy="442.3" r="1.75"/>
<circle cx="568.7" cy="440.8" r="1.75"/>
<circle cx="571.9" cy="438.8" r="1.75"/>
<circle cx="564.2" cy="443.3" r="1.75"/>
<circle cx="555.3" cy="447.5" r="1.75"/>
<circle cx="551.7" cy="450.0" r="1.75"/>
<circle cx="552.9" cy="449.4" r="1.75"/>
<circle cx="554.1" cy="448.3" r="1.75"/>
<circle cx="550.0" cy="451.0" r="1.75"/>
<circle cx="544.0" cy="453.8" r="1.75"/>
<circle cx="538.6" cy="457.1" r="1.75"/>
<circle cx="533.5" cy="459.6" r="1.75"/>
<circle cx="528.1" cy="462.5" r="1.75"/>
<circle cx="522.7" cy="465.3" r="1.75"/>
<circle cx="517.2" cy="467.7" r="1.75"/>
<circle cx="511.8" cy="471.1" r="1.75"/>
<circle cx="508.4" cy="472.7" r="1.75"/>
<circle cx="506.8" cy="473.0" r="1.75"/>
<circle cx="506.0" cy="473.7" r="1.75"/>
<circle cx="506.1" cy="473.7" r="1.75"/>
<circle cx="506.3" cy="473.3" r="1.75"/>
<circle cx="506.7" cy="473.0" r="1.75"/>
<circle cx="507.1" cy="473.4" r="1.75"/>
<circle cx="507.4" cy="472.8" r="1.75"/>
<circle cx="506.7" cy="473.4" r="1.75"/>
<circle cx="504.3" cy="474.9" r="1.75"/>
<circle cx="506.4" cy="473.5" r="1.75"/>
<circle cx="514.3" cy="469.3" r="1.75"/>
<circle cx="522.2" cy="465.7" r="1.75"/>
<circle cx="530.1" cy="461.1" r="1.75"/>
<circle cx="521.5" cy="465.6" r="1.75"/>
<circle cx="513.0" cy="470.8" r="1.75"/>
<circle cx="507.3" cy="472.8" r="1.75"/>
<circle cx="513.1" cy="470.1" r="1.75"/>
<circle cx="519.0" cy="466.8" r="1.75"/>
<circle cx="524.9" cy="464.0" r="1.75"/>
<circle cx="529.2" cy="461.9" r="1.75"/>
<circle cx="521.2" cy="465.4" r="1.75"/>
<circle cx="513.1" cy="469.9" r="1.75"/>
<circle cx="507.4" cy="473.1" r="1.75"/>
<circle cx="506.4" cy="473.6" r="1.75"/>
<circle cx="505.4" cy="474.0" r="1.75"/>
<circle cx="504.5" cy="474.1" r="1.75"/>
<circle cx="503.7" cy="474.8" r="1.75"/>
<circle cx="502.7" cy="475.1" r="1.75"/>
<circle cx="501.2" cy="475.8" r="1.75"/>
<circle cx="499.6" cy="476.8" r="1.75"/>
<circle cx="498.1" cy="478.0" r="1.75"/>
<circle cx="497.1" cy="477.8" r="1.75"/>
<circle cx="505.3" cy="474.2" r="1.75"/>
<circle cx="513.4" cy="469.9" r="1.75"/>
<circle cx="521.6" cy="465.4" r="1.75"/>
<circle cx="529.9" cy="461.3" r="1.75"/>
<circle cx="529.0" cy="461.9" r="1.75"/>
<circle cx="527.8" cy="462.5" r="1.75"/>
<circle cx="525.2" cy="464.0" r="1.75"/>
<circle cx="522.5" cy="465.1" r="1.75"/>
<circle cx="517.3" cy="467.7" r="1.75"/>
<circle cx="511.8" cy="470.9" r="1.75"/>
<circle cx="506.3" cy="473.4" r="1.75"/>
<circle cx="500.9" cy="476.0" r="1.75"/>
<circle cx="500.7" cy="476.2" r="1.75"/>
<circle cx="501.9" cy="476.0" r="1.75"/>
<circle cx="502.5" cy="475.2" r="1.75"/>
<circle cx="502.9" cy="474.8" r="1.75"/>
<circle cx="503.5" cy="475.0" r="1.75"/>
<circle cx="504.3" cy="474.9" r="1.75"/>
<circle cx="504.2" cy="474.8" r="1.75"/>
<circle cx="503.4" cy="474.6" r="1.75"/>
<circle cx="502.5" cy="474.9" r="1.75"/>
<circle cx="501.7" cy="476.0" r="1.75"/>
<circle cx="501.1" cy="476.0" r="1.75"/>
<circle cx="500.5" cy="476.4" r="1.75"/>
<circle cx="499.9" cy="476.6" r="1.75"/>
<circle cx="499.5" cy="477.2" r="1.75"/>
<circle cx="499.4" cy="476.9" r="1.75"/>
<circle cx="499.6" cy="476.7" r="1.75"/>
<circle cx="500.0" cy="476.6" r="1.75"/>
<circle cx="500.4" cy="476.1" r="1.75"/>
<circle cx="500.8" cy="476.2" r="1.75"/>
<circle cx="501.1" cy="476.0" r="1.75"/>
<circle cx="501.3" cy="475.5" r="1.75"/>
<circle cx="501.4" cy="475.6" r="1.75"/>
<circle cx="502.3" cy="475.2" r="1.75"/>
<circle cx="504.2" cy="474.1" r="1.75"/>
<circle cx="505.5" cy="473.9" r="1.75"/>
<circle cx="505.9" cy="473.9" r="1.75"/>
<circle cx="506.5" cy="473.4" r="1.75"/>
<circle cx="507.7" cy="472.4" r="1.75"/>
<circle cx="508.6" cy="471.9" r="1.75"/>
<circle cx="509.0" cy="472.3" r="1.75"/>
<circle cx="508.1" cy="472.5" r="1.75"/>
<circle cx="503.2" cy="475.0" r="1.75"/>
<circle cx="502.2" cy="475.2" r="1.75"/>
<circle cx="510.0" cy="471.2" r="1.75"/>
<circle cx="518.2" cy="468.0" r="1.75"/>
<circle cx="527.5" cy="462.5" r="1.75"/>
<circle cx="533.7" cy="459.4" r="1.75"/>
<circle cx="528.4" cy="462.0" r="1.75"/>
<circle cx="523.1" cy="465.3" r="1.75"/>
<circle cx="518.5" cy="467.2" r="1.75"/>
<circle cx="516.4" cy="468.4" r="1.75"/>
<circle cx="514.2" cy="469.5" r="1.75"/>
<circle cx="514.0" cy="469.6" r="1.75"/>
<circle cx="521.5" cy="466.1" r="1.75"/>
<circle cx="528.9" cy="461.5" r="1.75"/>
<circle cx="535.5" cy="458.7" r="1.75"/>
<circle cx="541.8" cy="455.1" r="1.75"/>
<circle cx="545.8" cy="453.0" r="1.75"/>
<circle cx="549.8" cy="450.8" r="1.75"/>
<circle cx="553.9" cy="448.8" r="1.75"/>
<circle cx="561.0" cy="444.6" r="1.75"/>
<circle cx="568.5" cy="440.6" r="1.75"/>
<circle cx="574.5" cy="437.5" r="1.75"/>
<circle cx="562.2" cy="444.1" r="1.75"/>
<circle cx="550.0" cy="450.7" r="1.75"/>
<circle cx="542.5" cy="454.9" r="1.75"/>
<circle cx="546.8" cy="452.6" r="1.75"/>
<circle cx="551.0" cy="450.2" r="1.75"/>
<circle cx="555.3" cy="448.0" r="1.75"/>
<circle cx="558.4" cy="446.1" r="1.75"/>
<circle cx="561.3" cy="444.9" r="1.75"/>
<circle cx="564.3" cy="442.8" r="1.75"/>
<circle cx="567.2" cy="441.1" r="1.75"/>
<circle cx="572.2" cy="438.8" r="1.75"/>
<circle cx="577.3" cy="435.5" r="1.75"/>
<circle cx="582.3" cy="432.8" r="1.75"/>
<circle cx="587.3" cy="430.1" r="1.75"/>
<circle cx="592.0" cy="427.6" r="1.75"/>
<circle cx="586.4" cy="430.6" r="1.75"/>
<circle cx="580.7" cy="433.8" r="1.75"/>
<circle cx="575.1" cy="437.0" r="1.75"/>
<circle cx="579.6" cy="434.6" r="1.75"/>
<circle cx="586.7" cy="430.4" r="1.75"/>
<circle cx="593.9" cy="426.4" r="1.75"/>
<circle cx="591.7" cy="427.9" r="1.75"/>
<circle cx="582.2" cy="433.0" r="1.75"/>
<circle cx="572.7" cy="438.3" r="1.75"/>
<circle cx="563.4" cy="443.4" r="1.75"/>
<circle cx="565.7" cy="442.1" r="1.75"/>
<circle cx="569.2" cy="440.0" r="1.75"/>
<circle cx="572.8" cy="438.1" r="1.75"/>
<circle cx="570.7" cy="439.4" r="1.75"/>
<circle cx="565.9" cy="442.2" r="1.75"/>
<circle cx="561.1" cy="444.9" r="1.75"/>
<circle cx="556.3" cy="447.3" r="1.75"/>
<circle cx="569.6" cy="440.2" r="1.75"/>
<circle cx="595.7" cy="425.0" r="1.75"/>
<circle cx="617.3" cy="413.0" r="1.75"/>
<circle cx="633.1" cy="403.6" r="1.75"/>
<circle cx="636.4" cy="401.0" r="1.75"/>
<circle cx="627.5" cy="406.6" r="1.75"/>
<circle cx="618.5" cy="411.9" r="1.75"/>
<circle cx="608.6" cy="418.0" r="1.75"/>
<circle cx="595.8" cy="425.1" r="1.75"/>
<circle cx="583.2" cy="432.1" r="1.75"/>
<circle cx="575.2" cy="437.2" r="1.75"/>
<circle cx="579.9" cy="434.1" r="1.75"/>
<circle cx="584.7" cy="431.7" r="1.75"/>
<circle cx="583.8" cy="431.9" r="1.75"/>
<circle cx="576.7" cy="436.0" r="1.75"/>
<circle cx="569.5" cy="440.4" r="1.75"/>
<circle cx="562.7" cy="444.3" r="1.75"/>
<circle cx="557.2" cy="446.9" r="1.75"/>
<circle cx="551.6" cy="449.9" r="1.75"/>
<circle cx="546.2" cy="452.9" r="1.75"/>
<circle cx="553.4" cy="448.9" r="1.75"/>
<circle cx="560.7" cy="444.7" r="1.75"/>
<circle cx="568.7" cy="440.6" r="1.75"/>
<circle cx="577.3" cy="435.3" r="1.75"/>
<circle cx="585.0" cy="431.6" r="1.75"/>
<circle cx="577.3" cy="435.7" r="1.75"/>
<circle cx="569.6" cy="440.1" r="1.75"/>
<circle cx="562.0" cy="444.0" r="1.75"/>
<circle cx="559.2" cy="445.7" r="1.75"/>
<circle cx="557.3" cy="447.0" r="1.75"/>
<circle cx="554.9" cy="448.5" r="1.75"/>
<circle cx="551.6" cy="450.2" r="1.75"/>
<circle cx="548.2" cy="451.9" r="1.75"/>
<circle cx="542.8" cy="454.4" r="1.75"/>
<circle cx="537.0" cy="457.8" r="1.75"/>
<circle cx="531.6" cy="460.6" r="1.75"/>
<circle cx="526.3" cy="463.2" r="1.75"/>
<circle cx="521.9" cy="465.8" r="1.75"/>
<circle cx="517.8" cy="467.5" r="1.75"/>
<circle cx="513.7" cy="470.1" r="1.75"/>
<circle cx="509.6" cy="471.6" r="1.75"/>
<circle cx="510.4" cy="471.2" r="1.75"/>
<circle cx="511.6" cy="470.8" r="1.75"/>
<circle cx="513.0" cy="469.8" r="1.75"/>
<circle cx="515.4" cy="468.7" r="1.75"/>
<circle cx="517.8" cy="467.6" r="1.75"/>
<circle cx="515.8" cy="468.3" r="1.75"/>
<circle cx="510.1" cy="471.3" r="1.75"/>
<circle cx="504.4" cy="474.1" r="1.75"/>
<circle cx="502.2" cy="475.4" r="1.75"/>
<circle cx="501.1" cy="476.3" r="1.75"/>
<circle cx="499.3" cy="476.8" r="1.75"/>
<circle cx="497.3" cy="477.8" r="1.75"/>
<circle cx="494.8" cy="479.1" r="1.75"/>
<circle cx="492.1" cy="480.1" r="1.75"/>
<circle cx="489.4" cy="481.7" r="1.75"/>
<circle cx="486.9" cy="482.8" r="1.75"/>
<circle cx="484.3" cy="484.0" r="1.75"/>
<circle cx="483.4" cy="484.2" r="1.75"/>
<circle cx="486.8" cy="482.8" r="1.75"/>
<circle cx="490.2" cy="481.5" r="1.75"/>
<circle cx="493.6" cy="479.9" r="1.75"/>
<circle cx="497.1" cy="477.9" r="1.75"/>
<circle cx="501.3" cy="475.9" r="1.75"/>
<circle cx="506.3" cy="473.3" r="1.75"/>
<circle cx="511.7" cy="470.5" r="1.75"/>
<circle cx="517.8" cy="467.2" r="1.75"/>
<circle cx="523.5" cy="465.1" r="1.75"/>
<circle cx="528.3" cy="462.1" r="1.75"/>
<circle cx="532.1" cy="460.3" r="1.75"/>
<circle cx="533.6" cy="459.8" r="1.75"/>
<circle cx="535.2" cy="458.6" r="1.75"/>
<circle cx="536.8" cy="457.8" r="1.75"/>
<circle cx="539.0" cy="456.7" r="1.75"/>
<circle cx="543.0" cy="454.5" r="1.75"/>
<circle cx="547.0" cy="452.5" r="1.75"/>
<circle cx="551.0" cy="450.2" r="1.75"/>
<circle cx="556.6" cy="447.5" r="1.75"/>
<circle cx="572.7" cy="438.5" r="1.75"/>
<circle cx="588.9" cy="428.9" r="1.75"/>
<circle cx="605.3" cy="419.4" r="1.75"/>
<circle cx="618.2" cy="411.9" r="1.75"/>
<circle cx="620.3" cy="410.7" r="1.75"/>
<circle cx="622.6" cy="409.2" r="1.75"/>
<circle cx="625.7" cy="407.7" r="1.75"/>
<circle cx="629.3" cy="405.2" r="1.75"/>
<circle cx="634.9" cy="401.8" r="1.75"/>
<circle cx="640.6" cy="398.4" r="1.75"/>
<circle cx="638.6" cy="399.2" r="1.75"/>
<circle cx="632.7" cy="403.4" r="1.75"/>
<circle cx="638.5" cy="399.8" r="1.75"/>
<circle cx="644.3" cy="396.4" r="1.75"/>
<circle cx="638.4" cy="399.6" r="1.75"/>
<circle cx="631.5" cy="403.9" r="1.75"/>
<circle cx="621.5" cy="410.2" r="1.75"/>
<circle cx="609.4" cy="417.2" r="1.75"/>
<circle cx="597.5" cy="424.0" r="1.75"/>
<circle cx="588.5" cy="429.7" r="1.75"/>
<circle cx="580.3" cy="434.1" r="1.75"/>
<circle cx="572.6" cy="438.5" r="1.75"/>
<circle cx="594.3" cy="425.9" r="1.75"/>
<circle cx="616.3" cy="413.4" r="1.75"/>
<circle cx="642.4" cy="397.2" r="1.75"/>
<circle cx="631.6" cy="403.8" r="1.75"/>
<circle cx="625.9" cy="407.6" r="1.75"/>
<circle cx="620.0" cy="411.2" r="1.75"/>
<circle cx="614.2" cy="414.3" r="1.75"/>
<circle cx="606.8" cy="419.0" r="1.75"/>
<circle cx="598.6" cy="424.0" r="1.75"/>
<circle cx="588.7" cy="429.4" r="1.75"/>
<circle cx="578.0" cy="435.1" r="1.75"/>
<circle cx="567.4" cy="441.5" r="1.75"/>
<circle cx="560.4" cy="445.4" r="1.75"/>
<circle cx="553.9" cy="448.5" r="1.75"/>
<circle cx="547.5" cy="452.5" r="1.75"/>
<circle cx="545.8" cy="453.1" r="1.75"/>
<circle cx="544.8" cy="453.6" r="1.75"/>
<circle cx="543.8" cy="454.4" r="1.75"/>
<circle cx="544.0" cy="454.1" r="1.75"/>
<circle cx="545.1" cy="453.8" r="1.75"/>
<circle cx="546.1" cy="452.9" r="1.75"/>
<circle cx="545.0" cy="453.6" r="1.75"/>
<circle cx="540.9" cy="455.7" r="1.75"/>
<circle cx="536.9" cy="457.8" r="1.75"/>
<circle cx="534.7" cy="459.1" r="1.75"/>
<circle cx="533.7" cy="459.6" r="1.75"/>
<circle cx="532.0" cy="460.3" r="1.75"/>
<circle cx="529.9" cy="461.6" r="1.75"/>
<circle cx="529.6" cy="461.6" r="1.75"/>
<circle cx="530.8" cy="461.3" r="1.75"/>
<circle cx="532.0" cy="460.5" r="1.75"/>
<circle cx="533.2" cy="459.7" r="1.75"/>
<circle cx="534.4" cy="459.0" r="1.75"/>
<circle cx="535.1" cy="458.8" r="1.75"/>
<circle cx="532.9" cy="460.2" r="1.75"/>
<circle cx="530.7" cy="461.1" r="1.75"/>
<circle cx="528.2" cy="462.5" r="1.75"/>
<circle cx="525.7" cy="463.6" r="1.75"/>
<circle cx="523.8" cy="464.6" r="1.75"/>
<circle cx="522.8" cy="465.0" r="1.75"/>
<circle cx="521.8" cy="465.2" r="1.75"/>
<circle cx="521.0" cy="466.1" r="1.75"/>
<circle cx="520.1" cy="466.5" r="1.75"/>
<circle cx="518.8" cy="467.1" r="1.75"/>
<circle cx="517.6" cy="468.0" r="1.75"/>
<circle cx="516.5" cy="468.1" r="1.75"/>
<circle cx="515.3" cy="469.3" r="1.75"/>
<circle cx="514.8" cy="468.9" r="1.75"/>
<circle cx="514.7" cy="469.3" r="1.75"/>
<circle cx="514.5" cy="469.1" r="1.75"/>
<circle cx="513.5" cy="469.8" r="1.75"/>
<circle cx="512.4" cy="470.6" r="1.75"/>
<circle cx="511.8" cy="470.4" r="1.75"/>
<circle cx="511.6" cy="470.8" r="1.75"/>
<circle cx="511.3" cy="471.0" r="1.75"/>
<circle cx="510.5" cy="471.4" r="1.75"/>
<circle cx="509.7" cy="471.8" r="1.75"/>
<circle cx="508.2" cy="472.7" r="1.75"/>
<circle cx="506.7" cy="473.4" r="1.75"/>
<circle cx="507.3" cy="473.0" r="1.75"/>
<circle cx="507.9" cy="472.8" r="1.75"/>
<circle cx="508.8" cy="472.3" r="1.75"/>
<circle cx="509.7" cy="471.7" r="1.75"/>
<circle cx="510.7" cy="471.0" r="1.75"/>
<circle cx="511.7" cy="470.9" r="1.75"/>
<circle cx="512.7" cy="470.2" r="1.75"/>
<circle cx="511.5" cy="471.2" r="1.75"/>
<circle cx="509.2" cy="471.8" r="1.75"/>
<circle cx="507.0" cy="472.8" r="1.75"/>
<circle cx="506.3" cy="473.7" r="1.75"/>
<circle cx="505.9" cy="473.5" r="1.75"/>
<circle cx="505.5" cy="473.5" r="1.75"/>
<circle cx="505.1" cy="474.3" r="1.75"/>
<circle cx="504.5" cy="474.0" r="1.75"/>
<circle cx="503.9" cy="474.9" r="1.75"/>
<circle cx="503.2" cy="474.8" r="1.75"/>
<circle cx="502.0" cy="475.7" r="1.75"/>
<circle cx="500.8" cy="476.2" r="1.75"/>
<circle cx="502.2" cy="475.1" r="1.75"/>
<circle cx="505.4" cy="473.9" r="1.75"/>
<circle cx="508.6" cy="472.2" r="1.75"/>
<circle cx="513.2" cy="470.0" r="1.75"/>
<circle cx="518.9" cy="467.2" r="1.75"/>
<circle cx="524.6" cy="464.6" r="1.75"/>
<circle cx="524.9" cy="464.0" r="1.75"/>
<circle cx="523.9" cy="464.5" r="1.75"/>
<circle cx="522.9" cy="465.5" r="1.75"/>
<circle cx="523.9" cy="464.7" r="1.75"/>
<circle cx="526.4" cy="463.5" r="1.75"/>
<circle cx="528.8" cy="461.7" r="1.75"/>
<circle cx="531.1" cy="460.5" r="1.75"/>
<circle cx="532.8" cy="459.8" r="1.75"/>
<circle cx="534.6" cy="459.0" r="1.75"/>
<circle cx="532.1" cy="460.4" r="1.75"/>
<circle cx="526.1" cy="464.0" r="1.75"/>
<circle cx="524.2" cy="464.1" r="1.75"/>
<circle cx="528.7" cy="462.0" r="1.75"/>
<circle cx="533.2" cy="459.9" r="1.75"/>
<circle cx="537.7" cy="457.4" r="1.75"/>
<circle cx="542.3" cy="455.2" r="1.75"/>
<circle cx="547.0" cy="452.4" r="1.75"/>
<circle cx="552.0" cy="449.5" r="1.75"/>
<circle cx="557.8" cy="447.1" r="1.75"/>
<circle cx="563.6" cy="443.5" r="1.75"/>
<circle cx="568.9" cy="440.3" r="1.75"/>
<circle cx="573.7" cy="437.8" r="1.75"/>
<circle cx="578.5" cy="435.2" r="1.75"/>
<circle cx="584.4" cy="431.5" r="1.75"/>
<circle cx="597.7" cy="424.3" r="1.75"/>
<circle cx="611.2" cy="416.3" r="1.75"/>
<circle cx="606.3" cy="419.1" r="1.75"/>
<circle cx="595.7" cy="425.2" r="1.75"/>
<circle cx="586.2" cy="431.1" r="1.75"/>
<circle cx="578.5" cy="435.1" r="1.75"/>
<circle cx="570.8" cy="439.3" r="1.75"/>
<circle cx="575.2" cy="436.6" r="1.75"/>
<circle cx="582.3" cy="432.8" r="1.75"/>
<circle cx="588.9" cy="429.4" r="1.75"/>
<circle cx="567.6" cy="441.6" r="1.75"/>
<circle cx="549.7" cy="450.8" r="1.75"/>
<circle cx="567.9" cy="440.6" r="1.75"/>
<circle cx="586.2" cy="430.8" r="1.75"/>
<circle cx="579.4" cy="434.6" r="1.75"/>
<circle cx="570.6" cy="439.8" r="1.75"/>
<circle cx="563.8" cy="443.2" r="1.75"/>
<circle cx="569.9" cy="440.0" r="1.75"/>
<circle cx="576.0" cy="436.2" r="1.75"/>
<circle cx="582.1" cy="432.9" r="1.75"/>
<circle cx="580.4" cy="434.0" r="1.75"/>
<circle cx="577.8" cy="435.4" r="1.75"/>
<circle cx="575.3" cy="437.1" r="1.75"/>
<circle cx="580.0" cy="434.6" r="1.75"/>
<circle cx="588.3" cy="429.3" r="1.75"/>
<circle cx="596.6" cy="425.2" r="1.75"/>
<circle cx="594.2" cy="426.0" r="1.75"/>
<circle cx="590.3" cy="428.3" r="1.75"/>
<circle cx="586.5" cy="430.9" r="1.75"/>
<circle cx="587.3" cy="429.6" r="1.75"/>
<circle cx="588.8" cy="429.0" r="1.75"/>
<circle cx="590.3" cy="428.2" r="1.75"/>
<circle cx="589.3" cy="429.1" r="1.75"/>
<circle cx="586.7" cy="430.7" r="1.75"/>
<circle cx="584.2" cy="432.2" r="1.75"/>
<circle cx="586.1" cy="430.7" r="1.75"/>
<circle cx="594.3" cy="426.3" r="1.75"/>
<circle cx="602.7" cy="421.2" r="1.75"/>
<circle cx="598.3" cy="424.2" r="1.75"/>
<circle cx="585.9" cy="430.9" r="1.75"/>
<circle cx="591.6" cy="427.9" r="1.75"/>
<circle cx="618.4" cy="411.7" r="1.75"/>
<circle cx="617.5" cy="412.6" r="1.75"/>
<circle cx="591.9" cy="427.2" r="1.75"/>
<circle cx="574.5" cy="437.4" r="1.75"/>
<circle cx="570.5" cy="439.3" r="1.75"/>
<circle cx="566.4" cy="441.8" r="1.75"/>
<circle cx="561.3" cy="444.6" r="1.75"/>
<circle cx="549.4" cy="450.9" r="1.75"/>
<circle cx="539.1" cy="456.7" r="1.75"/>
<circle cx="533.9" cy="459.5" r="1.75"/>
<circle cx="528.7" cy="462.1" r="1.75"/>
<circle cx="528.6" cy="462.2" r="1.75"/>
<circle cx="535.5" cy="458.7" r="1.75"/>
<circle cx="542.5" cy="455.1" r="1.75"/>
<circle cx="544.4" cy="454.0" r="1.75"/>
<circle cx="539.0" cy="456.8" r="1.75"/>
<circle cx="534.1" cy="459.7" r="1.75"/>
<circle cx="545.8" cy="453.0" r="1.75"/>
<circle cx="555.4" cy="448.1" r="1.75"/>
<circle cx="544.8" cy="453.4" r="1.75"/>
<circle cx="534.2" cy="459.7" r="1.75"/>
<circle cx="550.3" cy="450.6" r="1.75"/>
<circle cx="567.7" cy="441.2" r="1.75"/>
<circle cx="554.1" cy="448.9" r="1.75"/>
<circle cx="540.5" cy="455.8" r="1.75"/>
<circle cx="534.6" cy="458.8" r="1.75"/>
<circle cx="530.0" cy="461.0" r="1.75"/>
<circle cx="525.4" cy="463.7" r="1.75"/>
<circle cx="521.0" cy="466.5" r="1.75"/>
<circle cx="516.5" cy="468.3" r="1.75"/>
<circle cx="512.1" cy="470.9" r="1.75"/>
<circle cx="510.5" cy="471.5" r="1.75"/>
<circle cx="509.4" cy="471.8" r="1.75"/>
<circle cx="508.2" cy="472.2" r="1.75"/>
<circle cx="507.0" cy="473.1" r="1.75"/>
<circle cx="507.9" cy="472.8" r="1.75"/>
<circle cx="509.6" cy="471.8" r="1.75"/>
<circle cx="511.3" cy="471.0" r="1.75"/>
<circle cx="508.8" cy="472.3" r="1.75"/>
<circle cx="506.1" cy="473.5" r="1.75"/>
<circle cx="503.4" cy="474.6" r="1.75"/>
<circle cx="500.7" cy="476.2" r="1.75"/>
<circle cx="499.3" cy="477.0" r="1.75"/>
<circle cx="498.2" cy="477.3" r="1.75"/>
<circle cx="497.0" cy="477.8" r="1.75"/>
<circle cx="495.9" cy="478.3" r="1.75"/>
<circle cx="495.1" cy="478.9" r="1.75"/>
<circle cx="494.5" cy="479.2" r="1.75"/>
<circle cx="493.9" cy="479.5" r="1.75"/>
<circle cx="494.2" cy="479.1" r="1.75"/>
<circle cx="494.8" cy="479.1" r="1.75"/>
<circle cx="495.4" cy="478.7" r="1.75"/>
<circle cx="495.6" cy="478.5" r="1.75"/>
<circle cx="495.8" cy="478.2" r="1.75"/>
<circle cx="495.7" cy="478.4" r="1.75"/>
<circle cx="494.0" cy="479.3" r="1.75"/>
<circle cx="492.4" cy="480.3" r="1.75"/>
<circle cx="491.2" cy="480.9" r="1.75"/>
<circle cx="490.1" cy="481.4" r="1.75"/>
<circle cx="488.4" cy="482.2" r="1.75"/>
<circle cx="486.6" cy="482.8" r="1.75"/>
<circle cx="484.4" cy="484.3" r="1.75"/>
<circle cx="482.2" cy="485.3" r="1.75"/>
<circle cx="480.3" cy="486.2" r="1.75"/>
<circle cx="478.7" cy="486.7" r="1.75"/>
<circle cx="477.1" cy="487.5" r="1.75"/>
<circle cx="475.8" cy="488.1" r="1.75"/>
<circle cx="476.4" cy="487.6" r="1.75"/>
<circle cx="477.0" cy="487.6" r="1.75"/>
<circle cx="477.5" cy="487.0" r="1.75"/>
<circle cx="477.7" cy="486.9" r="1.75"/>
<circle cx="477.2" cy="487.6" r="1.75"/>
<circle cx="476.8" cy="487.8" r="1.75"/>
<circle cx="476.4" cy="488.1" r="1.75"/>
<circle cx="479.6" cy="486.3" r="1.75"/>
<circle cx="482.9" cy="484.8" r="1.75"/>
<circle cx="487.8" cy="482.6" r="1.75"/>
<circle cx="493.0" cy="479.9" r="1.75"/>
<circle cx="494.9" cy="478.6" r="1.75"/>
<circle cx="495.6" cy="479.2" r="1.75"/>
<circle cx="496.3" cy="478.6" r="1.75"/>
<circle cx="496.9" cy="478.4" r="1.75"/>
<circle cx="497.5" cy="477.8" r="1.75"/>
<circle cx="497.2" cy="477.8" r="1.75"/>
<circle cx="496.6" cy="478.2" r="1.75"/>
<circle cx="496.0" cy="478.6" r="1.75"/>
<circle cx="495.7" cy="478.3" r="1.75"/>
<circle cx="498.3" cy="477.3" r="1.75"/>
<circle cx="500.8" cy="476.3" r="1.75"/>
<circle cx="512.8" cy="470.5" r="1.75"/>
<circle cx="521.3" cy="466.0" r="1.75"/>
<circle cx="516.1" cy="468.4" r="1.75"/>
<circle cx="511.6" cy="470.5" r="1.75"/>
<circle cx="514.4" cy="469.8" r="1.75"/>
<circle cx="517.2" cy="468.0" r="1.75"/>
<circle cx="517.8" cy="467.8" r="1.75"/>
<circle cx="512.6" cy="470.3" r="1.75"/>
<circle cx="509.5" cy="471.6" r="1.75"/>
<circle cx="519.4" cy="467.3" r="1.75"/>
<circle cx="526.5" cy="463.3" r="1.75"/>
<circle cx="522.0" cy="465.8" r="1.75"/>
<circle cx="518.1" cy="467.4" r="1.75"/>
<circle cx="525.5" cy="463.7" r="1.75"/>
<circle cx="533.0" cy="460.2" r="1.75"/>
<circle cx="540.5" cy="455.8" r="1.75"/>
<circle cx="535.3" cy="458.5" r="1.75"/>
<circle cx="527.2" cy="462.6" r="1.75"/>
<circle cx="519.2" cy="466.6" r="1.75"/>
<circle cx="517.6" cy="468.0" r="1.75"/>
<circle cx="515.9" cy="468.6" r="1.75"/>
<circle cx="516.7" cy="467.8" r="1.75"/>
<circle cx="526.3" cy="463.6" r="1.75"/>
<circle cx="535.6" cy="458.8" r="1.75"/>
<circle cx="538.3" cy="457.3" r="1.75"/>
<circle cx="541.0" cy="455.2" r="1.75"/>
<circle cx="536.6" cy="458.0" r="1.75"/>
<circle cx="529.1" cy="462.1" r="1.75"/>
<circle cx="530.2" cy="461.0" r="1.75"/>
<circle cx="534.0" cy="459.2" r="1.75"/>
<circle cx="537.7" cy="457.3" r="1.75"/>
<circle cx="534.8" cy="458.4" r="1.75"/>
<circle cx="529.8" cy="461.5" r="1.75"/>
<circle cx="533.1" cy="460.0" r="1.75"/>
<circle cx="538.3" cy="457.2" r="1.75"/>
<circle cx="543.3" cy="454.7" r="1.75"/>
<circle cx="538.3" cy="457.1" r="1.75"/>
<circle cx="533.3" cy="459.7" r="1.75"/>
<circle cx="532.2" cy="460.2" r="1.75"/>
<circle cx="536.3" cy="458.0" r="1.75"/>
<circle cx="540.4" cy="455.7" r="1.75"/>
<circle cx="544.8" cy="453.5" r="1.75"/>
<circle cx="549.4" cy="451.1" r="1.75"/>
<circle cx="554.0" cy="448.6" r="1.75"/>
<circle cx="553.0" cy="449.2" r="1.75"/>
<circle cx="551.0" cy="450.3" r="1.75"/>
<circle cx="548.5" cy="451.8" r="1.75"/>
<circle cx="545.4" cy="453.2" r="1.75"/>
<circle cx="542.6" cy="454.3" r="1.75"/>
<circle cx="540.3" cy="455.8" r="1.75"/>
<circle cx="538.0" cy="457.6" r="1.75"/>
<circle cx="535.3" cy="458.8" r="1.75"/>
<circle cx="532.3" cy="460.1" r="1.75"/>
<circle cx="529.1" cy="461.8" r="1.75"/>
<circle cx="526.0" cy="463.5" r="1.75"/>
<circle cx="522.4" cy="465.2" r="1.75"/>
<circle cx="518.4" cy="467.4" r="1.75"/>
<circle cx="514.5" cy="469.5" r="1.75"/>
<circle cx="511.0" cy="471.4" r="1.75"/>
<circle cx="509.3" cy="471.9" r="1.75"/>
<circle cx="507.6" cy="472.7" r="1.75"/>
<circle cx="506.9" cy="473.1" r="1.75"/>
<circle cx="507.4" cy="472.9" r="1.75"/>
<circle cx="507.9" cy="472.9" r="1.75"/>
<circle cx="507.2" cy="472.8" r="1.75"/>
<circle cx="504.7" cy="474.7" r="1.75"/>
<circle cx="502.3" cy="475.5" r="1.75"/>
<circle cx="499.7" cy="477.0" r="1.75"/>
<circle cx="496.3" cy="478.2" r="1.75"/>
<circle cx="492.9" cy="480.0" r="1.75"/>
<circle cx="489.5" cy="481.6" r="1.75"/>
<circle cx="490.9" cy="481.0" r="1.75"/>
<circle cx="492.5" cy="479.8" r="1.75"/>
<circle cx="494.5" cy="479.4" r="1.75"/>
<circle cx="497.9" cy="477.2" r="1.75"/>
<circle cx="501.3" cy="476.0" r="1.75"/>
<circle cx="502.0" cy="475.8" r="1.75"/>
<circle cx="497.7" cy="477.7" r="1.75"/>
<circle cx="493.4" cy="479.7" r="1.75"/>
<circle cx="491.9" cy="480.5" r="1.75"/>
<circle cx="491.1" cy="480.9" r="1.75"/>
<circle cx="490.3" cy="481.3" r="1.75"/>
<circle cx="489.5" cy="481.9" r="1.75"/>
<circle cx="488.9" cy="482.1" r="1.75"/>
<circle cx="488.2" cy="482.6" r="1.75"/>
<circle cx="487.6" cy="482.6" r="1.75"/>
<circle cx="486.9" cy="482.8" r="1.75"/>
<circle cx="486.6" cy="483.0" r="1.75"/>
<circle cx="486.5" cy="482.9" r="1.75"/>
<circle cx="486.3" cy="483.2" r="1.75"/>
<circle cx="595.7" cy="425.2" r="1.75"/>
<circle cx="586.0" cy="431.3" r="1.75"/>
<circle cx="612.8" cy="415.4" r="1.75"/>
<circle cx="628.7" cy="406.2" r="1.75"/>
<circle cx="610.2" cy="416.4" r="1.75"/>
<circle cx="614.2" cy="414.6" r="1.75"/>
<circle cx="585.6" cy="431.4" r="1.75"/>
<circle cx="614.3" cy="414.5" r="1.75"/>
<circle cx="641.8" cy="397.6" r="1.75"/>
<circle cx="636.3" cy="401.2" r="1.75"/>
<circle cx="629.0" cy="405.6" r="1.75"/>
<circle cx="591.4" cy="427.8" r="1.75"/>
<circle cx="638.9" cy="399.6" r="1.75"/>
<circle cx="636.6" cy="401.1" r="1.75"/>
<circle cx="594.8" cy="425.9" r="1.75"/>
<circle cx="623.1" cy="409.2" r="1.75"/>
<circle cx="586.1" cy="430.9" r="1.75"/>
<circle cx="591.9" cy="427.6" r="1.75"/>
<circle cx="604.0" cy="420.4" r="1.75"/>
<circle cx="594.4" cy="426.2" r="1.75"/>
<circle cx="630.7" cy="404.5" r="1.75"/>
<circle cx="634.3" cy="402.5" r="1.75"/>
<circle cx="605.7" cy="419.4" r="1.75"/>
<circle cx="604.1" cy="420.4" r="1.75"/>
<circle cx="591.6" cy="427.7" r="1.75"/>
<circle cx="589.9" cy="428.5" r="1.75"/>
<circle cx="627.9" cy="406.5" r="1.75"/>
<circle cx="621.1" cy="410.5" r="1.75"/>
<circle cx="588.2" cy="429.7" r="1.75"/>
<circle cx="613.8" cy="415.0" r="1.75"/>
<circle cx="609.1" cy="417.4" r="1.75"/>
<circle cx="636.1" cy="401.2" r="1.75"/>
<circle cx="628.2" cy="406.3" r="1.75"/>
<circle cx="621.2" cy="410.8" r="1.75"/>
<circle cx="618.2" cy="412.1" r="1.75"/>
<circle cx="642.2" cy="397.8" r="1.75"/>
<circle cx="644.5" cy="396.1" r="1.75"/>
<circle cx="605.3" cy="419.6" r="1.75"/>
<circle cx="599.3" cy="423.4" r="1.75"/>
<circle cx="633.0" cy="403.4" r="1.75"/>
<circle cx="588.7" cy="429.4" r="1.75"/>
<circle cx="606.9" cy="418.9" r="1.75"/>
<circle cx="589.1" cy="428.9" r="1.75"/>
<circle cx="604.1" cy="419.9" r="1.75"/>
<circle cx="589.1" cy="429.2" r="1.75"/>
<circle cx="602.4" cy="421.1" r="1.75"/>
<circle cx="632.6" cy="403.4" r="1.75"/>
<circle cx="639.6" cy="398.9" r="1.75"/>
<circle cx="632.7" cy="403.3" r="1.75"/>
<circle cx="618.8" cy="411.9" r="1.75"/>
<circle cx="622.1" cy="409.4" r="1.75"/>
<circle cx="606.7" cy="418.9" r="1.75"/>
<circle cx="595.0" cy="425.7" r="1.75"/>
<circle cx="611.2" cy="416.5" r="1.75"/>
<circle cx="629.1" cy="405.5" r="1.75"/>
<circle cx="588.6" cy="429.2" r="1.75"/>
<circle cx="586.1" cy="430.7" r="1.75"/>
<circle cx="631.4" cy="404.5" r="1.75"/>
<circle cx="603.0" cy="420.9" r="1.75"/>
<circle cx="627.2" cy="406.6" r="1.75"/>
<circle cx="629.2" cy="405.5" r="1.75"/>
<circle cx="641.2" cy="397.8" r="1.75"/>
<circle cx="609.0" cy="417.3" r="1.75"/>
<circle cx="606.5" cy="418.6" r="1.75"/>
<circle cx="633.6" cy="402.5" r="1.75"/>
<circle cx="631.0" cy="404.4" r="1.75"/>
<circle cx="624.3" cy="408.5" r="1.75"/>
<circle cx="633.8" cy="402.2" r="1.75"/>
<circle cx="623.7" cy="409.1" r="1.75"/>
<circle cx="642.7" cy="396.8" r="1.75"/>
<circle cx="605.0" cy="419.7" r="1.75"/>
<circle cx="629.5" cy="405.6" r="1.75"/>
<circle cx="642.2" cy="397.5" r="1.75"/>
<circle cx="605.1" cy="419.9" r="1.75"/>
<circle cx="621.8" cy="410.2" r="1.75"/>
<circle cx="606.9" cy="418.7" r="1.75"/>
<circle cx="612.7" cy="415.4" r="1.75"/>
<circle cx="589.4" cy="428.8" r="1.75"/>
<circle cx="586.0" cy="430.9" r="1.75"/>
<circle cx="630.7" cy="404.5" r="1.75"/>
<circle cx="612.2" cy="415.9" r="1.75"/>
<circle cx="622.5" cy="409.4" r="1.75"/>
<circle cx="629.6" cy="405.2" r="1.75"/>
<circle cx="610.1" cy="416.4" r="1.75"/>
<circle cx="607.1" cy="418.3" r="1.75"/>
<circle cx="595.1" cy="425.8" r="1.75"/>
<circle cx="632.8" cy="403.1" r="1.75"/>
<circle cx="635.2" cy="401.7" r="1.75"/>
<circle cx="629.2" cy="405.5" r="1.75"/>
<circle cx="637.7" cy="400.1" r="1.75"/>
<circle cx="624.0" cy="408.6" r="1.75"/>
<circle cx="626.9" cy="406.8" r="1.75"/>
<circle cx="596.5" cy="424.4" r="1.75"/>
<circle cx="631.2" cy="404.3" r="1.75"/>
<circle cx="605.0" cy="420.2" r="1.75"/>
<circle cx="611.3" cy="416.4" r="1.75"/>
<circle cx="604.1" cy="420.4" r="1.75"/>
<circle cx="619.2" cy="411.5" r="1.75"/>
<circle cx="624.6" cy="408.3" r="1.75"/>
<circle cx="619.6" cy="411.5" r="1.75"/>
<circle cx="604.1" cy="420.7" r="1.75"/>
<circle cx="598.0" cy="423.9" r="1.75"/>
<circle cx="635.9" cy="401.3" r="1.75"/>
<circle cx="603.1" cy="421.0" r="1.75"/>
<circle cx="611.3" cy="416.0" r="1.75"/>
<circle cx="590.4" cy="428.3" r="1.75"/>
<circle cx="603.0" cy="421.0" r="1.75"/>
<circle cx="590.0" cy="428.1" r="1.75"/>
<circle cx="605.6" cy="419.6" r="1.75"/>
<circle cx="627.7" cy="406.2" r="1.75"/>
<circle cx="643.2" cy="395.3" r="1.75"/>
<circle cx="649.1" cy="392.9" r="1.75"/>
<circle cx="656.3" cy="388.7" r="1.75"/>
<circle cx="658.3" cy="387.4" r="1.75"/>
<circle cx="660.9" cy="386.0" r="1.75"/>
<circle cx="665.5" cy="382.8" r="1.75"/>
<circle cx="670.1" cy="379.5" r="1.75"/>
<circle cx="673.4" cy="377.5" r="1.75"/>
<circle cx="676.7" cy="375.3" r="1.75"/>
<circle cx="680.0" cy="373.6" r="1.75"/>
<circle cx="686.6" cy="369.6" r="1.75"/>
<circle cx="691.2" cy="365.7" r="1.75"/>
<circle cx="694.5" cy="364.3" r="1.75"/>
<circle cx="698.4" cy="361.1" r="1.75"/>
<circle cx="702.4" cy="358.4" r="1.75"/>
<circle cx="705.7" cy="357.1" r="1.75"/>
<circle cx="707.6" cy="355.8" r="1.75"/>
<circle cx="710.0" cy="353.2" r="1.75"/>
<circle cx="717.5" cy="347.6" r="1.75"/>
<circle cx="652.0" cy="391.0" r="1.75"/>
<circle cx="688.5" cy="368.3" r="1.75"/>
</g>
<line x1="450.3" y1="506.3" x2="745.7" y2="339.3" stroke="#333" stroke-width="0.8"/>
<g stroke="#222" stroke-width="0.9">
<line x1="48.2" y1="4.4" x2="48.2" y2="7.7"/>
<line x1="48.2" y1="168.3" x2="48.2" y2="174.9"/>
<line x1="48.2" y1="335.8" x2="48.2" y2="342.4"/>
<line x1="48.2" y1="503.0" x2="48.2" y2="506.3"/>
<line x1="53.8" y1="4.4" x2="53.8" y2="7.7"/>
<line x1="53.8" y1="168.3" x2="53.8" y2="174.9"/>
<line x1="53.8" y1="335.8" x2="53.8" y2="342.4"/>
<line x1="53.8" y1="503.0" x2="53.8" y2="506.3"/>
<line x1="59.3" y1="4.4" x2="59.3" y2="7.7"/>
<line x1="59.3" y1="168.3" x2="59.3" y2="174.9"/>
<line x1="59.3" y1="335.8" x2="59.3" y2="342.4"/>
<line x1="59.3" y1="503.0" x2="59.3" y2="506.3"/>
<line x1="64.9" y1="4.4" x2="64.9" y2="7.7"/>
<line x1="64.9" y1="168.3" x2="64.9" y2="174.9"/>
<line x1="64.9" y1="335.8" x2="64.9" y2="342.4"/>
<line x1="64.9" y1="503.0" x2="64.9" y2="506.3"/>
<line x1="70.5" y1="4.4" x2="70.5" y2="7.7"/>
<line x1="70.5" y1="168.3" x2="70.5" y2="174.9"/>
<line x1="70.5" y1="335.8" x2="70.5" y2="342.4"/>
<line x1="70.5" y1="503.0" x2="70.5" y2="506.3"/>
<line x1="76.1" y1="4.4" x2="76.1" y2="7.7"/>
<line x1="76.1" y1="168.3" x2="76.1" y2="174.9"/>
<line x1="76.1" y1="335.8" x2="76.1" y2="342.4"/>
<line x1="76.1" y1="503.0" x2="76.1" y2="506.3"/>
<line x1="81.6" y1="4.4" x2="81.6" y2="7.7"/>
<line x1="81.6" y1="168.3" x2="81.6" y2="174.9"/>
<line x1="81.6" y1="335.8" x2="81.6" y2="342.4"/>
<line x1="81.6" y1="503.0" x2="81.6" y2="506.3"/>
<line x1="87.2" y1="4.4" x2="87.2" y2="7.7"/>
<line x1="87.2" y1="168.3" x2="87.2" y2="174.9"/>
<line x1="87.2" y1="335.8" x2="87.2" y2="342.4"/>
<line x1="87.2" y1="503.0" x2="87.2" y2="506.3"/>
<line x1="92.8" y1="4.4" x2="92.8" y2="7.7"/>
<line x1="92.8" y1="168.3" x2="92.8" y2="174.9"/>
<line x1="92.8" y1="335.8" x2="92.8" y2="342.4"/>
<line x1="92.8" y1="503.0" x2="92.8" y2="506.3"/>
<line x1="98.4" y1="4.4" x2="98.4" y2="11.2"/>
<line x1="98.4" y1="164.8" x2="98.4" y2="178.4"/>
<line x1="98.4" y1="332.3" x2="98.4" y2="345.9"/>
<line x1="98.4" y1="499.5" x2="98.4" y2="506.3"/>
<line x1="103.9" y1="4.4" x2="103.9" y2="7.7"/>
<line x1="103.9" y1="168.3" x2="103.9" y2="174.9"/>
<line x1="103.9" y1="335.8" x2="103.9" y2="342.4"/>
<line x1="103.9" y1="503.0" x2="103.9" y2="506.3"/>
<line x1="109.5" y1="4.4" x2="109.5" y2="7.7"/>
<line x1="109.5" y1="168.3" x2="109.5" y2="174.9"/>
<line x1="109.5" y1="335.8" x2="109.5" y2="342.4"/>
<line x1="109.5" y1="503.0" x2="109.5" y2="506.3"/>
<line x1="115.1" y1="4.4" x2="115.1" y2="7.7"/>
<line x1="115.1" y1="168.3" x2="115.1" y2="174.9"/>
<line x1="115.1" y1="335.8" x2="115.1" y2="342.4"/>
<line x1="115.1" y1="503.0" x2="115.1" y2="506.3"/>
<line x1="120.7" y1="4.4" x2="120.7" y2="7.7"/>
<line x1="120.7" y1="168.3" x2="120.7" y2="174.9"/>
<line x1="120.7" y1="335.8" x2="120.7" y2="342.4"/>
<line x1="120.7" y1="503.0" x2="120.7" y2="506.3"/>
<line x1="126.2" y1="4.4" x2="126.2" y2="7.7"/>
<line x1="126.2" y1="168.3" x2="126.2" y2="174.9"/>
<line x1="126.2" y1="335.8" x2="126.2" y2="342.4"/>
<line x1="126.2" y1="503.0" x2="126.2" y2="506.3"/>
<line x1="131.8" y1="4.4" x2="131.8" y2="7.7"/>
<line x1="131.8" y1="168.3" x2="131.8" y2="174.9"/>
<line x1="131.8" y1="335.8" x2="131.8" y2="342.4"/>
<line x1="131.8" y1="503.0" x2="131.8" y2="506.3"/>
<line x1="137.4" y1="4.4" x2="137.4" y2="7.7"/>
<line x1="137.4" y1="168.3" x2="137.4" y2="174.9"/>
<line x1="137.4" y1="335.8" x2="137.4" y2="342.4"/>
<line x1="137.4" y1="503.0" x2="137.4" y2="506.3"/>
<line x1="143.0" y1="4.4" x2="143.0" y2="7.7"/>
<line x1="143.0" y1="168.3" x2="143.0" y2="174.9"/>
<line x1="143.0" y1="335.8" x2="143.0" y2="342.4"/>
<line x1="143.0" y1="503.0" x2="143.0" y2="506.3"/>
<line x1="148.6" y1="4.4" x2="148.6" y2="7.7"/>
<line x1="148.6" y1="168.3" x2="148.6" y2="174.9"/>
<line x1="148.6" y1="335.8" x2="148.6" y2="342.4"/>
<line x1="148.6" y1="503.0" x2="148.6" y2="506.3"/>
<line x1="154.1" y1="4.4" x2="154.1" y2="11.2"/>
<line x1="154.1" y1="164.8" x2="154.1" y2="178.4"/>
<line x1="154.1" y1="332.3" x2="154.1" y2="345.9"/>
<line x1="154.1" y1="499.5" x2="154.1" y2="506.3"/>
<line x1="159.7" y1="4.4" x2="159.7" y2="7.7"/>
<line x1="159.7" y1="168.3" x2="159.7" y2="174.9"/>
<line x1="159.7" y1="335.8" x2="159.7" y2="342.4"/>
<line x1="159.7" y1="503.0" x2="159.7" y2="506.3"/>
<line x1="165.3" y1="4.4" x2="165.3" y2="7.7"/>
<line x1="165.3" y1="168.3" x2="165.3" y2="174.9"/>
<line x1="165.3" y1="335.8" x2="165.3" y2="342.4"/>
<line x1="165.3" y1="503.0" x2="165.3" y2="506.3"/>
<line x1="170.9" y1="4.4" x2="170.9" y2="7.7"/>
<line x1="170.9" y1="168.3" x2="170.9" y2="174.9"/>
<line x1="170.9" y1="335.8" x2="170.9" y2="342.4"/>
<line x1="170.9" y1="503.0" x2="170.9" y2="506.3"/>
<line x1="176.4" y1="4.4" x2="176.4" y2="7.7"/>
<line x1="176.4" y1="168.3" x2="176.4" y2="174.9"/>
<line x1="176.4" y1="335.8" x2="176.4" y2="342.4"/>
<line x1="176.4" y1="503.0" x2="176.4" y2="506.3"/>
<line x1="182.0" y1="4.4" x2="182.0" y2="7.7"/>
<line x1="182.0" y1="168.3" x2="182.0" y2="174.9"/>
<line x1="182.0" y1="335.8" x2="182.0" y2="342.4"/>
<line x1="182.0" y1="503.0" x2="182.0" y2="506.3"/>
<line x1="187.6" y1="4.4" x2="187.6" y2="7.7"/>
<line x1="187.6" y1="168.3" x2="187.6" y2="174.9"/>
<line x1="187.6" y1="335.8" x2="187.6" y2="342.4"/>
<line x1="187.6" y1="503.0" x2="187.6" y2="506.3"/>
<line x1="193.2" y1="4.4" x2="193.2" y2="7.7"/>
<line x1="193.2" y1="168.3" x2="193.2" y2="174.9"/>
<line x1="193.2" y1="335.8" x2="193.2" y2="342.4"/>
<line x1="193.2" y1="503.0" x2="193.2" y2="506.3"/>
<line x1="198.7" y1="4.4" x2="198.7" y2="7.7"/>
<line x1="198.7" y1="168.3" x2="198.7" y2="174.9"/>
<line x1="198.7" y1="335.8" x2="198.7" y2="342.4"/>
<line x1="198.7" y1="503.0" x2="198.7" y2="506.3"/>
<line x1="204.3" y1="4.4" x2="204.3" y2="7.7"/>
<line x1="204.3" y1="168.3" x2="204.3" y2="174.9"/>
<line x1="204.3" y1="335.8" x2="204.3" y2="342.4"/>
<line x1="204.3" y1="503.0" x2="204.3" y2="506.3"/>
<line x1="209.9" y1="4.4" x2="209.9" y2="11.2"/>
<line x1="209.9" y1="164.8" x2="209.9" y2="178.4"/>
<line x1="209.9" y1="332.3" x2="209.9" y2="345.9"/>
<line x1="209.9" y1="499.5" x2="209.9" y2="506.3"/>
<line x1="215.5" y1="4.4" x2="215.5" y2="7.7"/>
<line x1="215.5" y1="168.3" x2="215.5" y2="174.9"/>
<line x1="215.5" y1="335.8" x2="215.5" y2="342.4"/>
<line x1="215.5" y1="503.0" x2="215.5" y2="506.3"/>
<line x1="221.1" y1="4.4" x2="221.1" y2="7.7"/>
<line x1="221.1" y1="168.3" x2="221.1" y2="174.9"/>
<line x1="221.1" y1="335.8" x2="221.1" y2="342.4"/>
<line x1="221.1" y1="503.0" x2="221.1" y2="506.3"/>
<line x1="226.6" y1="4.4" x2="226.6" y2="7.7"/>
<line x1="226.6" y1="168.3" x2="226.6" y2="174.9"/>
<line x1="226.6" y1="335.8" x2="226.6" y2="342.4"/>
<line x1="226.6" y1="503.0" x2="226.6" y2="506.3"/>
<line x1="232.2" y1="4.4" x2="232.2" y2="7.7"/>
<line x1="232.2" y1="168.3" x2="232.2" y2="174.9"/>
<line x1="232.2" y1="335.8" x2="232.2" y2="342.4"/>
<line x1="232.2" y1="503.0" x2="232.2" y2="506.3"/>
<line x1="237.8" y1="4.4" x2="237.8" y2="7.7"/>
<line x1="237.8" y1="168.3" x2="237.8" y2="174.9"/>
<line x1="237.8" y1="335.8" x2="237.8" y2="342.4"/>
<line x1="237.8" y1="503.0" x2="237.8" y2="506.3"/>
<line x1="243.4" y1="4.4" x2="243.4" y2="7.7"/>
<line x1="243.4" y1="168.3" x2="243.4" y2="174.9"/>
<line x1="243.4" y1="335.8" x2="243.4" y2="342.4"/>
<line x1="243.4" y1="503.0" x2="243.4" y2="506.3"/>
<line x1="248.9" y1="4.4" x2="248.9" y2="7.7"/>
<line x1="248.9" y1="168.3" x2="248.9" y2="174.9"/>
<line x1="248.9" y1="335.8" x2="248.9" y2="342.4"/>
<line x1="248.9" y1="503.0" x2="248.9" y2="506.3"/>
<line x1="254.5" y1="4.4" x2="254.5" y2="7.7"/>
<line x1="254.5" y1="168.3" x2="254.5" y2="174.9"/>
<line x1="254.5" y1="335.8" x2="254.5" y2="342.4"/>
<line x1="254.5" y1="503.0" x2="254.5" y2="506.3"/>
<line x1="260.1" y1="4.4" x2="260.1" y2="7.7"/>
<line x1="260.1" y1="168.3" x2="260.1" y2="174.9"/>
<line x1="260.1" y1="335.8" x2="260.1" y2="342.4"/>
<line x1="260.1" y1="503.0" x2="260.1" y2="506.3"/>
<line x1="265.7" y1="4.4" x2="265.7" y2="11.2"/>
<line x1="265.7" y1="164.8" x2="265.7" y2="178.4"/>
<line x1="265.7" y1="332.3" x2="265.7" y2="345.9"/>
<line x1="265.7" y1="499.5" x2="265.7" y2="506.3"/>
<line x1="271.2" y1="4.4" x2="271.2" y2="7.7"/>
<line x1="271.2" y1="168.3" x2="271.2" y2="174.9"/>
<line x1="271.2" y1="335.8" x2="271.2" y2="342.4"/>
<line x1="271.2" y1="503.0" x2="271.2" y2="506.3"/>
<line x1="276.8" y1="4.4" x2="276.8" y2="7.7"/>
<line x1="276.8" y1="168.3" x2="276.8" y2="174.9"/>
<line x1="276.8" y1="335.8" x2="276.8" y2="342.4"/>
<line x1="276.8" y1="503.0" x2="276.8" y2="506.3"/>
<line x1="282.4" y1="4.4" x2="282.4" y2="7.7"/>
<line x1="282.4" y1="168.3" x2="282.4" y2="174.9"/>
<line x1="282.4" y1="335.8" x2="282.4" y2="342.4"/>
<line x1="282.4" y1="503.0" x2="282.4" y2="506.3"/>
<line x1="288.0" y1="4.4" x2="288.0" y2="7.7"/>
<line x1="288.0" y1="168.3" x2="288.0" y2="174.9"/>
<line x1="288.0" y1="335.8" x2="288.0" y2="342.4"/>
<line x1="288.0" y1="503.0" x2="288.0" y2="506.3"/>
<line x1="293.5" y1="4.4" x2="293.5" y2="7.7"/>
<line x1="293.5" y1="168.3" x2="293.5" y2="174.9"/>
<line x1="293.5" y1="335.8" x2="293.5" y2="342.4"/>
<line x1="293.5" y1="503.0" x2="293.5" y2="506.3"/>
<line x1="299.1" y1="4.4" x2="299.1" y2="7.7"/>
<line x1="299.1" y1="168.3" x2="299.1" y2="174.9"/>
<line x1="299.1" y1="335.8" x2="299.1" y2="342.4"/>
<line x1="299.1" y1="503.0" x2="299.1" y2="506.3"/>
<line x1="304.7" y1="4.4" x2="304.7" y2="7.7"/>
<line x1="304.7" y1="168.3" x2="304.7" y2="174.9"/>
<line x1="304.7" y1="335.8" x2="304.7" y2="342.4"/>
<line x1="304.7" y1="503.0" x2="304.7" y2="506.3"/>
<line x1="310.3" y1="4.4" x2="310.3" y2="7.7"/>
<line x1="310.3" y1="168.3" x2="310.3" y2="174.9"/>
<line x1="310.3" y1="335.8" x2="310.3" y2="342.4"/>
<line x1="310.3" y1="503.0" x2="310.3" y2="506.3"/>
<line x1="315.9" y1="4.4" x2="315.9" y2="7.7"/>
<line x1="315.9" y1="168.3" x2="315.9" y2="174.9"/>
<line x1="315.9" y1="335.8" x2="315.9" y2="342.4"/>
<line x1="315.9" y1="503.0" x2="315.9" y2="506.3"/>
<line x1="321.4" y1="4.4" x2="321.4" y2="11.2"/>
<line x1="321.4" y1="164.8" x2="321.4" y2="178.4"/>
<line x1="321.4" y1="332.3" x2="321.4" y2="345.9"/>
<line x1="321.4" y1="499.5" x2="321.4" y2="506.3"/>
<line x1="327.0" y1="4.4" x2="327.0" y2="7.7"/>
<line x1="327.0" y1="168.3" x2="327.0" y2="174.9"/>
<line x1="327.0" y1="335.8" x2="327.0" y2="342.4"/>
<line x1="327.0" y1="503.0" x2="327.0" y2="506.3"/>
<line x1="332.6" y1="4.4" x2="332.6" y2="7.7"/>
<line x1="332.6" y1="168.3" x2="332.6" y2="174.9"/>
<line x1="332.6" y1="335.8" x2="332.6" y2="342.4"/>
<line x1="332.6" y1="503.0" x2="332.6" y2="506.3"/>
<line x1="338.2" y1="4.4" x2="338.2" y2="7.7"/>
<line x1="338.2" y1="168.3" x2="338.2" y2="174.9"/>
<line x1="338.2" y1="335.8" x2="338.2" y2="342.4"/>
<line x1="338.2" y1="503.0" x2="338.2" y2="506.3"/>
<line x1="343.7" y1="4.4" x2="343.7" y2="7.7"/>
<line x1="343.7" y1="168.3" x2="343.7" y2="174.9"/>
<line x1="343.7" y1="335.8" x2="343.7" y2="342.4"/>
<line x1="343.7" y1="503.0" x2="343.7" y2="506.3"/>
<line x1="349.3" y1="4.4" x2="349.3" y2="7.7"/>
<line x1="349.3" y1="168.3" x2="349.3" y2="174.9"/>
<line x1="349.3" y1="335.8" x2="349.3" y2="342.4"/>
<line x1="349.3" y1="503.0" x2="349.3" y2="506.3"/>
<line x1="354.9" y1="4.4" x2="354.9" y2="7.7"/>
<line x1="354.9" y1="168.3" x2="354.9" y2="174.9"/>
<line x1="354.9" y1="335.8" x2="354.9" y2="342.4"/>
<line x1="354.9" y1="503.0" x2="354.9" y2="506.3"/>
<line x1="360.5" y1="4.4" x2="360.5" y2="7.7"/>
<line x1="360.5" y1="168.3" x2="360.5" y2="174.9"/>
<line x1="360.5" y1="335.8" x2="360.5" y2="342.4"/>
<line x1="360.5" y1="503.0" x2="360.5" y2="506.3"/>
<line x1="366.0" y1="4.4" x2="366.0" y2="7.7"/>
<line x1="366.0" y1="168.3" x2="366.0" y2="174.9"/>
<line x1="366.0" y1="335.8" x2="366.0" y2="342.4"/>
<line x1="366.0" y1="503.0" x2="366.0" y2="506.3"/>
<line x1="371.6" y1="4.4" x2="371.6" y2="7.7"/>
<line x1="371.6" y1="168.3" x2="371.6" y2="174.9"/>
<line x1="371.6" y1="335.8" x2="371.6" y2="342.4"/>
<line x1="371.6" y1="503.0" x2="371.6" y2="506.3"/>
<line x1="42.6" y1="156.4" x2="49.4" y2="156.4"/>
<line x1="42.6" y1="141.2" x2="45.9" y2="141.2"/>
<line x1="42.6" y1="126.0" x2="49.4" y2="126.0"/>
<line x1="42.6" y1="110.8" x2="45.9" y2="110.8"/>
<line x1="42.6" y1="95.6" x2="49.4" y2="95.6"/>
<line x1="42.6" y1="80.4" x2="45.9" y2="80.4"/>
<line x1="42.6" y1="65.2" x2="49.4" y2="65.2"/>
<line x1="42.6" y1="50.0" x2="45.9" y2="50.0"/>
<line x1="42.6" y1="34.8" x2="49.4" y2="34.8"/>
<line x1="42.6" y1="19.6" x2="45.9" y2="19.6"/>
<line x1="42.6" y1="4.4" x2="49.4" y2="4.4"/>
<line x1="370.4" y1="156.4" x2="377.2" y2="156.4"/>
<line x1="373.9" y1="141.2" x2="377.2" y2="141.2"/>
<line x1="370.4" y1="125.9" x2="377.2" y2="125.9"/>
<line x1="373.9" y1="110.7" x2="377.2" y2="110.7"/>
<line x1="370.4" y1="95.4" x2="377.2" y2="95.4"/>
<line x1="373.9" y1="80.2" x2="377.2" y2="80.2"/>
<line x1="370.4" y1="64.9" x2="377.2" y2="64.9"/>
<line x1="373.9" y1="49.7" x2="377.2" y2="49.7"/>
<line x1="370.4" y1="34.4" x2="377.2" y2="34.4"/>
<line x1="373.9" y1="19.2" x2="377.2" y2="19.2"/>
<line x1="42.6" y1="322.3" x2="49.4" y2="322.3"/>
<line x1="370.4" y1="322.3" x2="377.2" y2="322.3"/>
<line x1="42.6" y1="305.7" x2="45.9" y2="305.7"/>
<line x1="373.9" y1="305.7" x2="377.2" y2="305.7"/>
<line x1="42.6" y1="289.0" x2="49.4" y2="289.0"/>
<line x1="370.4" y1="289.0" x2="377.2" y2="289.0"/>
<line x1="42.6" y1="272.4" x2="45.9" y2="272.4"/>
<line x1="373.9" y1="272.4" x2="377.2" y2="272.4"/>
<line x1="42.6" y1="255.7" x2="49.4" y2="255.7"/>
<line x1="370.4" y1="255.7" x2="377.2" y2="255.7"/>
<line x1="42.6" y1="239.1" x2="45.9" y2="239.1"/>
<line x1="373.9" y1="239.1" x2="377.2" y2="239.1"/>
<line x1="42.6" y1="222.4" x2="49.4" y2="222.4"/>
<line x1="370.4" y1="222.4" x2="377.2" y2="222.4"/>
<line x1="42.6" y1="205.8" x2="45.9" y2="205.8"/>
<line x1="373.9" y1="205.8" x2="377.2" y2="205.8"/>
<line x1="42.6" y1="189.1" x2="49.4" y2="189.1"/>
<line x1="370.4" y1="189.1" x2="377.2" y2="189.1"/>
<line x1="42.6" y1="172.5" x2="45.9" y2="172.5"/>
<line x1="373.9" y1="172.5" x2="377.2" y2="172.5"/>
<line x1="42.6" y1="494.5" x2="49.4" y2="494.5"/>
<line x1="370.4" y1="494.5" x2="377.2" y2="494.5"/>
<line x1="42.6" y1="470.6" x2="45.9" y2="470.6"/>
<line x1="373.9" y1="470.6" x2="377.2" y2="470.6"/>
<line x1="42.6" y1="446.7" x2="49.4" y2="446.7"/>
<line x1="370.4" y1="446.7" x2="377.2" y2="446.7"/>
<line x1="42.6" y1="422.9" x2="45.9" y2="422.9"/>
<line x1="373.9" y1="422.9" x2="377.2" y2="422.9"/>
<line x1="42.6" y1="399.0" x2="49.4" y2="399.0"/>
<line x1="370.4" y1="399.0" x2="377.2" y2="399.0"/>
<line x1="42.6" y1="375.1" x2="45.9" y2="375.1"/>
<line x1="373.9" y1="375.1" x2="377.2" y2="375.1"/>
<line x1="42.6" y1="351.2" x2="49.4" y2="351.2"/>
<line x1="370.4" y1="351.2" x2="377.2" y2="351.2"/>
<line x1="461.6" y1="4.4" x2="461.6" y2="7.7"/>
<line x1="461.6" y1="168.3" x2="461.6" y2="171.6"/>
<line x1="461.6" y1="339.1" x2="461.6" y2="342.4"/>
<line x1="461.6" y1="503.0" x2="461.6" y2="506.3"/>
<line x1="481.5" y1="4.4" x2="481.5" y2="11.2"/>
<line x1="481.5" y1="164.8" x2="481.5" y2="171.6"/>
<line x1="481.5" y1="339.1" x2="481.5" y2="345.9"/>
<line x1="481.5" y1="499.5" x2="481.5" y2="506.3"/>
<line x1="501.4" y1="4.4" x2="501.4" y2="7.7"/>
<line x1="501.4" y1="168.3" x2="501.4" y2="171.6"/>
<line x1="501.4" y1="339.1" x2="501.4" y2="342.4"/>
<line x1="501.4" y1="503.0" x2="501.4" y2="506.3"/>
<line x1="521.2" y1="4.4" x2="521.2" y2="7.7"/>
<line x1="521.2" y1="168.3" x2="521.2" y2="171.6"/>
<line x1="521.2" y1="339.1" x2="521.2" y2="342.4"/>
<line x1="521.2" y1="503.0" x2="521.2" y2="506.3"/>
<line x1="541.1" y1="4.4" x2="541.1" y2="7.7"/>
<line x1="541.1" y1="168.3" x2="541.1" y2="171.6"/>
<line x1="541.1" y1="339.1" x2="541.1" y2="342.4"/>
<line x1="541.1" y1="503.0" x2="541.1" y2="506.3"/>
<line x1="561.0" y1="4.4" x2="561.0" y2="11.2"/>
<line x1="561.0" y1="164.8" x2="561.0" y2="171.6"/>
<line x1="561.0" y1="339.1" x2="561.0" y2="345.9"/>
<line x1="561.0" y1="499.5" x2="561.0" y2="506.3"/>
<line x1="580.9" y1="4.4" x2="580.9" y2="7.7"/>
<line x1="580.9" y1="168.3" x2="580.9" y2="171.6"/>
<line x1="580.9" y1="339.1" x2="580.9" y2="342.4"/>
<line x1="580.9" y1="503.0" x2="580.9" y2="506.3"/>
<line x1="600.8" y1="4.4" x2="600.8" y2="7.7"/>
<line x1="600.8" y1="168.3" x2="600.8" y2="171.6"/>
<line x1="600.8" y1="339.1" x2="600.8" y2="342.4"/>
<line x1="600.8" y1="503.0" x2="600.8" y2="506.3"/>
<line x1="620.6" y1="4.4" x2="620.6" y2="7.7"/>
<line x1="620.6" y1="168.3" x2="620.6" y2="171.6"/>
<line x1="620.6" y1="339.1" x2="620.6" y2="342.4"/>
<line x1="620.6" y1="503.0" x2="620.6" y2="506.3"/>
<line x1="640.5" y1="4.4" x2="640.5" y2="11.2"/>
<line x1="640.5" y1="164.8" x2="640.5" y2="171.6"/>
<line x1="640.5" y1="339.1" x2="640.5" y2="345.9"/>
<line x1="640.5" y1="499.5" x2="640.5" y2="506.3"/>
<line x1="660.4" y1="4.4" x2="660.4" y2="7.7"/>
<line x1="660.4" y1="168.3" x2="660.4" y2="171.6"/>
<line x1="660.4" y1="339.1" x2="660.4" y2="342.4"/>
<line x1="660.4" y1="503.0" x2="660.4" y2="506.3"/>
<line x1="680.2" y1="4.4" x2="680.2" y2="7.7"/>
<line x1="680.2" y1="168.3" x2="680.2" y2="171.6"/>
<line x1="680.2" y1="339.1" x2="680.2" y2="342.4"/>
<line x1="680.2" y1="503.0" x2="680.2" y2="506.3"/>
<line x1="700.1" y1="4.4" x2="700.1" y2="7.7"/>
<line x1="700.1" y1="168.3" x2="700.1" y2="171.6"/>
<line x1="700.1" y1="339.1" x2="700.1" y2="342.4"/>
<line x1="700.1" y1="503.0" x2="700.1" y2="506.3"/>
<line x1="720.0" y1="4.4" x2="720.0" y2="11.2"/>
<line x1="720.0" y1="164.8" x2="720.0" y2="171.6"/>
<line x1="720.0" y1="339.1" x2="720.0" y2="345.9"/>
<line x1="720.0" y1="499.5" x2="720.0" y2="506.3"/>
<line x1="739.9" y1="4.4" x2="739.9" y2="7.7"/>
<line x1="739.9" y1="168.3" x2="739.9" y2="171.6"/>
<line x1="739.9" y1="339.1" x2="739.9" y2="342.4"/>
<line x1="739.9" y1="503.0" x2="739.9" y2="506.3"/>
<line x1="442.1" y1="170.9" x2="445.4" y2="170.9"/>
<line x1="756.0" y1="170.9" x2="759.3" y2="170.9"/>
<line x1="442.1" y1="155.8" x2="448.9" y2="155.8"/>
<line x1="752.5" y1="155.8" x2="759.3" y2="155.8"/>
<line x1="442.1" y1="140.7" x2="445.4" y2="140.7"/>
<line x1="756.0" y1="140.7" x2="759.3" y2="140.7"/>
<line x1="442.1" y1="125.6" x2="448.9" y2="125.6"/>
<line x1="752.5" y1="125.6" x2="759.3" y2="125.6"/>
<line x1="442.1" y1="110.5" x2="445.4" y2="110.5"/>
<line x1="756.0" y1="110.5" x2="759.3" y2="110.5"/>
<line x1="442.1" y1="95.4" x2="448.9" y2="95.4"/>
<line x1="752.5" y1="95.4" x2="759.3" y2="95.4"/>
<line x1="442.1" y1="80.3" x2="445.4" y2="80.3"/>
<line x1="756.0" y1="80.3" x2="759.3" y2="80.3"/>
<line x1="442.1" y1="65.2" x2="448.9" y2="65.2"/>
<line x1="752.5" y1="65.2" x2="759.3" y2="65.2"/>
<line x1="442.1" y1="50.1" x2="445.4" y2="50.1"/>
<line x1="756.0" y1="50.1" x2="759.3" y2="50.1"/>
<line x1="442.1" y1="35.0" x2="448.9" y2="35.0"/>
<line x1="752.5" y1="35.0" x2="759.3" y2="35.0"/>
<line x1="442.1" y1="19.9" x2="445.4" y2="19.9"/>
<line x1="756.0" y1="19.9" x2="759.3" y2="19.9"/>
<line x1="442.1" y1="328.6" x2="445.4" y2="328.6"/>
<line x1="756.0" y1="328.6" x2="759.3" y2="328.6"/>
<line x1="442.1" y1="318.1" x2="448.9" y2="318.1"/>
<line x1="752.5" y1="318.1" x2="759.3" y2="318.1"/>
<line x1="442.1" y1="307.7" x2="445.4" y2="307.7"/>
<line x1="756.0" y1="307.7" x2="759.3" y2="307.7"/>
<line x1="442.1" y1="297.2" x2="445.4" y2="297.2"/>
<line x1="756.0" y1="297.2" x2="759.3" y2="297.2"/>
<line x1="442.1" y1="286.8" x2="445.4" y2="286.8"/>
<line x1="756.0" y1="286.8" x2="759.3" y2="286.8"/>
<line x1="442.1" y1="276.3" x2="448.9" y2="276.3"/>
<line x1="752.5" y1="276.3" x2="759.3" y2="276.3"/>
<line x1="442.1" y1="265.9" x2="445.4" y2="265.9"/>
<line x1="756.0" y1="265.9" x2="759.3" y2="265.9"/>
<line x1="442.1" y1="255.4" x2="445.4" y2="255.4"/>
<line x1="756.0" y1="255.4" x2="759.3" y2="255.4"/>
<line x1="442.1" y1="245.0" x2="445.4" y2="245.0"/>
<line x1="756.0" y1="245.0" x2="759.3" y2="245.0"/>
<line x1="442.1" y1="234.5" x2="448.9" y2="234.5"/>
<line x1="752.5" y1="234.5" x2="759.3" y2="234.5"/>
<line x1="442.1" y1="224.1" x2="445.4" y2="224.1"/>
<line x1="756.0" y1="224.1" x2="759.3" y2="224.1"/>
<line x1="442.1" y1="213.6" x2="445.4" y2="213.6"/>
<line x1="756.0" y1="213.6" x2="759.3" y2="213.6"/>
<line x1="442.1" y1="203.2" x2="445.4" y2="203.2"/>
<line x1="756.0" y1="203.2" x2="759.3" y2="203.2"/>
<line x1="442.1" y1="192.7" x2="448.9" y2="192.7"/>
<line x1="752.5" y1="192.7" x2="759.3" y2="192.7"/>
<line x1="442.1" y1="182.3" x2="445.4" y2="182.3"/>
<line x1="756.0" y1="182.3" x2="759.3" y2="182.3"/>
<line x1="442.1" y1="495.9" x2="445.4" y2="495.9"/>
<line x1="756.0" y1="495.9" x2="759.3" y2="495.9"/>
<line x1="442.1" y1="485.5" x2="448.9" y2="485.5"/>
<line x1="752.5" y1="485.5" x2="759.3" y2="485.5"/>
<line x1="442.1" y1="475.1" x2="445.4" y2="475.1"/>
<line x1="756.0" y1="475.1" x2="759.3" y2="475.1"/>
<line x1="442.1" y1="464.6" x2="445.4" y2="464.6"/>
<line x1="756.0" y1="464.6" x2="759.3" y2="464.6"/>
<line x1="442.1" y1="454.1" x2="445.4" y2="454.1"/>
<line x1="756.0" y1="454.1" x2="759.3" y2="454.1"/>
<line x1="442.1" y1="443.7" x2="448.9" y2="443.7"/>
<line x1="752.5" y1="443.7" x2="759.3" y2="443.7"/>
<line x1="442.1" y1="433.2" x2="445.4" y2="433.2"/>
<line x1="756.0" y1="433.2" x2="759.3" y2="433.2"/>
<line x1="442.1" y1="422.8" x2="445.4" y2="422.8"/>
<line x1="756.0" y1="422.8" x2="759.3" y2="422.8"/>
<line x1="442.1" y1="412.4" x2="445.4" y2="412.4"/>
<line x1="756.0" y1="412.4" x2="759.3" y2="412.4"/>
<line x1="442.1" y1="401.9" x2="448.9" y2="401.9"/>
<line x1="752.5" y1="401.9" x2="759.3" y2="401.9"/>
<line x1="442.1" y1="391.4" x2="445.4" y2="391.4"/>
<line x1="756.0" y1="391.4" x2="759.3" y2="391.4"/>
<line x1="442.1" y1="381.0" x2="445.4" y2="381.0"/>
<line x1="756.0" y1="381.0" x2="759.3" y2="381.0"/>
<line x1="442.1" y1="370.6" x2="445.4" y2="370.6"/>
<line x1="756.0" y1="370.6" x2="759.3" y2="370.6"/>
<line x1="442.1" y1="360.1" x2="448.9" y2="360.1"/>
<line x1="752.5" y1="360.1" x2="759.3" y2="360.1"/>
<line x1="442.1" y1="349.6" x2="445.4" y2="349.6"/>
<line x1="756.0" y1="349.6" x2="759.3" y2="349.6"/>
</g>
<g fill="none" stroke="#000" stroke-width="1.3">
<rect x="42.6" y="4.4" width="334.6" height="501.9"/>
<line x1="42.6" y1="171.6" x2="377.2" y2="171.6"/>
<line x1="42.6" y1="339.1" x2="377.2" y2="339.1"/>
<rect x="442.1" y="4.4" width="317.2" height="501.9"/>
<line x1="442.1" y1="171.6" x2="759.3" y2="171.6"/>
<line x1="442.1" y1="339.1" x2="759.3" y2="339.1"/>
</g>
<text x="36.2" y="160.4" text-anchor="end" font-size="11.2" fill="#000" stroke="#000" stroke-width="0.22">0.0</text>
<text x="36.2" y="130.0" text-anchor="end" font-size="11.2" fill="#000" stroke="#000" stroke-width="0.22">0.2</text>
<text x="36.2" y="99.6" text-anchor="end" font-size="11.2" fill="#000" stroke="#000" stroke-width="0.22">0.4</text>
<text x="36.2" y="69.2" text-anchor="end" font-size="11.2" fill="#000" stroke="#000" stroke-width="0.22">0.6</text>
<text x="36.2" y="38.8" text-anchor="end" font-size="11.2" fill="#000" stroke="#000" stroke-width="0.22">0.8</text>
<text x="36.2" y="8.4" text-anchor="end" font-size="11.2" fill="#000" stroke="#000" stroke-width="0.22">1.0</text>
<text x="383.7" y="160.4" text-anchor="start" font-size="11.2" fill="#000" stroke="#000" stroke-width="0.22">80</text>
<text x="383.7" y="129.9" text-anchor="start" font-size="11.2" fill="#000" stroke="#000" stroke-width="0.22">85</text>
<text x="383.7" y="99.4" text-anchor="start" font-size="11.2" fill="#000" stroke="#000" stroke-width="0.22">90</text>
<text x="383.7" y="68.9" text-anchor="start" font-size="11.2" fill="#000" stroke="#000" stroke-width="0.22">95</text>
<text x="383.7" y="38.4" text-anchor="start" font-size="11.2" fill="#000" stroke="#000" stroke-width="0.22">100</text>
<text x="36.2" y="326.3" text-anchor="end" font-size="11.2" fill="#000" stroke="#000" stroke-width="0.22">0.0</text>
<text x="36.2" y="293.0" text-anchor="end" font-size="11.2" fill="#000" stroke="#000" stroke-width="0.22">0.1</text>
<text x="36.2" y="259.7" text-anchor="end" font-size="11.2" fill="#000" stroke="#000" stroke-width="0.22">0.2</text>
<text x="36.2" y="226.4" text-anchor="end" font-size="11.2" fill="#000" stroke="#000" stroke-width="0.22">0.3</text>
<text x="36.2" y="193.1" text-anchor="end" font-size="11.2" fill="#000" stroke="#000" stroke-width="0.22">0.4</text>
<text x="36.2" y="498.5" text-anchor="end" font-size="11.2" fill="#000" stroke="#000" stroke-width="0.22">0.0</text>
<text x="36.2" y="450.7" text-anchor="end" font-size="11.2" fill="#000" stroke="#000" stroke-width="0.22">4.0</text>
<text x="36.2" y="403.0" text-anchor="end" font-size="11.2" fill="#000" stroke="#000" stroke-width="0.22">8.0</text>
<text x="36.2" y="355.2" text-anchor="end" font-size="11.2" fill="#000" stroke="#000" stroke-width="0.22">12.0</text>
<text x="42.6" y="521.8" text-anchor="middle" font-size="11.2" fill="#000" stroke="#000" stroke-width="0.22">1960</text>
<text x="98.4" y="521.8" text-anchor="middle" font-size="11.2" fill="#000" stroke="#000" stroke-width="0.22">1970</text>
<text x="154.1" y="521.8" text-anchor="middle" font-size="11.2" fill="#000" stroke="#000" stroke-width="0.22">1980</text>
<text x="209.9" y="521.8" text-anchor="middle" font-size="11.2" fill="#000" stroke="#000" stroke-width="0.22">1990</text>
<text x="265.7" y="521.8" text-anchor="middle" font-size="11.2" fill="#000" stroke="#000" stroke-width="0.22">2000</text>
<text x="321.4" y="521.8" text-anchor="middle" font-size="11.2" fill="#000" stroke="#000" stroke-width="0.22">2010</text>
<text x="377.2" y="521.8" text-anchor="middle" font-size="11.2" fill="#000" stroke="#000" stroke-width="0.22">2020</text>
<text x="435.2" y="159.8" text-anchor="end" font-size="11.2" fill="#000" stroke="#000" stroke-width="0.22">80</text>
<text x="435.2" y="129.6" text-anchor="end" font-size="11.2" fill="#000" stroke="#000" stroke-width="0.22">85</text>
<text x="435.2" y="99.4" text-anchor="end" font-size="11.2" fill="#000" stroke="#000" stroke-width="0.22">90</text>
<text x="435.2" y="69.2" text-anchor="end" font-size="11.2" fill="#000" stroke="#000" stroke-width="0.22">95</text>
<text x="435.2" y="39.0" text-anchor="end" font-size="11.2" fill="#000" stroke="#000" stroke-width="0.22">100</text>
<text x="435.2" y="322.1" text-anchor="end" font-size="11.2" fill="#000" stroke="#000" stroke-width="0.22">0</text>
<text x="435.2" y="489.5" text-anchor="end" font-size="11.2" fill="#000" stroke="#000" stroke-width="0.22">0</text>
<text x="435.2" y="280.3" text-anchor="end" font-size="11.2" fill="#000" stroke="#000" stroke-width="0.22">1</text>
<text x="435.2" y="447.7" text-anchor="end" font-size="11.2" fill="#000" stroke="#000" stroke-width="0.22">1</text>
<text x="435.2" y="238.5" text-anchor="end" font-size="11.2" fill="#000" stroke="#000" stroke-width="0.22">2</text>
<text x="435.2" y="405.9" text-anchor="end" font-size="11.2" fill="#000" stroke="#000" stroke-width="0.22">2</text>
<text x="435.2" y="196.7" text-anchor="end" font-size="11.2" fill="#000" stroke="#000" stroke-width="0.22">3</text>
<text x="435.2" y="364.1" text-anchor="end" font-size="11.2" fill="#000" stroke="#000" stroke-width="0.22">3</text>
<text x="486.1" y="521.6" text-anchor="middle" font-size="11.2" fill="#000" stroke="#000" stroke-width="0.22">0</text>
<text x="565.6" y="521.6" text-anchor="middle" font-size="11.2" fill="#000" stroke="#000" stroke-width="0.22">1</text>
<text x="645.1" y="521.6" text-anchor="middle" font-size="11.2" fill="#000" stroke="#000" stroke-width="0.22">2</text>
<text x="724.6" y="521.6" text-anchor="middle" font-size="11.2" fill="#000" stroke="#000" stroke-width="0.22">3</text>
<text x="370.0" y="30.9" text-anchor="end" font-size="12.2" fill="#000" stroke="#000" stroke-width="0.22">(A)</text>
<text x="370.0" y="198.9" text-anchor="end" font-size="12.2" fill="#000" stroke="#000" stroke-width="0.22">(B)</text>
<text x="370.9" y="367.2" text-anchor="end" font-size="12.2" fill="#000" stroke="#000" stroke-width="0.22">(C)</text>
<text x="751.5" y="39.0" text-anchor="end" font-size="12.2" fill="#000" stroke="#000" stroke-width="0.22">(D)</text>
<text x="751.0" y="205.1" text-anchor="end" font-size="12.2" fill="#000" stroke="#000" stroke-width="0.22">(E)</text>
<text x="750.5" y="364.1" text-anchor="end" font-size="12.2" fill="#000" stroke="#000" stroke-width="0.22">(F)</text>
<text x="141.6" y="20.3" text-anchor="end" font-size="11.2" fill="#000" stroke="#000" stroke-width="0.22">NM Moving Ave.</text>
<line x1="148.9" y1="16.6" x2="182.2" y2="16.6" stroke="#318a31" stroke-width="1.1"/>
<text x="141.6" y="188.0" text-anchor="end" font-size="11.2" fill="#000" stroke="#000" stroke-width="0.22">&#948;&#981; Moving Ave.</text>
<line x1="149.3" y1="184.3" x2="182.2" y2="184.3" stroke="#ff2020" stroke-width="1.1"/>
<text x="78.3" y="360.6" text-anchor="start" font-size="11.0" fill="#0000ff" stroke="#0000ff" stroke-width="0.22">S MAX</text>
<text x="55.0" y="379.0" text-anchor="start" font-size="11.0" fill="#ff0000" stroke="#ff0000" stroke-width="0.22">S MIN</text>
<text x="615.0" y="38.6" text-anchor="start" font-size="11.2" fill="#000" stroke="#000" stroke-width="0.22">Hermanus</text>
<text x="514.4" y="162.9" text-anchor="end" font-size="11.2" fill="#000" stroke="#000" stroke-width="0.22">Fit Eq. 16</text>
<line x1="521.4" y1="159.3" x2="555" y2="159.3" stroke="#444" stroke-width="1.1"/>
<text x="514.4" y="187.8" text-anchor="end" font-size="11.2" fill="#000" stroke="#000" stroke-width="0.22">Linear Fit</text>
<line x1="521.4" y1="184.2" x2="555" y2="184.2" stroke="#444" stroke-width="1.1"/>
<text x="514.4" y="355.3" text-anchor="end" font-size="11.2" fill="#000" stroke="#000" stroke-width="0.22">Linear Fit</text>
<line x1="521.4" y1="351.7" x2="555" y2="351.7" stroke="#444" stroke-width="1.1"/>
<text transform="translate(14.4,88.3) rotate(-90)" text-anchor="middle" font-size="11.2" fill="#000" stroke="#000" stroke-width="0.22">&#948;&#981;<tspan font-size="8.3" dy="2.5">1</tspan><tspan dy="-2.5"> (GV)</tspan></text>
<text transform="translate(14.4,255.5) rotate(-90)" text-anchor="middle" font-size="11.2" fill="#000" stroke="#000" stroke-width="0.22">&#948;&#981;<tspan font-size="8.3" dy="2.5">2/3</tspan><tspan dy="-2.5"> (GV</tspan><tspan font-size="8.3" dy="-4">2/3</tspan><tspan dy="4">)</tspan></text>
<text transform="translate(14.4,423.0) rotate(-90)" text-anchor="middle" font-size="11.2" fill="#000" stroke="#000" stroke-width="0.22">&#948;&#981;<tspan font-size="8.3" dy="2.5">2</tspan><tspan dy="-2.5"> (GV</tspan><tspan font-size="8.3" dy="-4">2</tspan><tspan dy="4">)</tspan></text>
<text transform="translate(414.9,87.5) rotate(-90)" text-anchor="middle" font-size="11.3" fill="#0b6e0b" stroke="#0b6e0b" stroke-width="0.22">NM Counts</text>
<text transform="translate(414.6,255.2) rotate(-90)" text-anchor="middle" font-size="11.2" fill="#000" stroke="#000" stroke-width="0.22">&#948;&#981;<tspan font-size="8.3" dy="2.5">2/3</tspan><tspan dy="-2.5">/&lt;&#948;&#981;</tspan><tspan font-size="8.3" dy="2.5">2/3</tspan><tspan dy="-2.5">&gt;</tspan></text>
<text transform="translate(416.7,422.6) rotate(-90)" text-anchor="middle" font-size="11.2" fill="#000" stroke="#000" stroke-width="0.22">&#948;&#981;<tspan font-size="8.3" dy="2.5">2</tspan><tspan dy="-2.5">/&lt;&#948;&#981;</tspan><tspan font-size="8.3" dy="2.5">2</tspan><tspan dy="-2.5">&gt;</tspan></text>
<text x="600.8" y="525.8" text-anchor="middle" font-size="11.2" fill="#000" stroke="#000" stroke-width="0.22">&#948;&#981;<tspan font-size="8.3" dy="2.5">1</tspan><tspan dy="-2.5">/&lt;&#948;&#981;</tspan><tspan font-size="8.3" dy="2.5">1</tspan><tspan dy="-2.5">&gt;</tspan></text>
</svg>
</body></html>
